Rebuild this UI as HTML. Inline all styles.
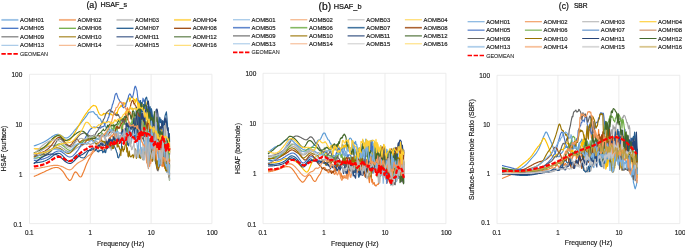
<!DOCTYPE html>
<html><head><meta charset="utf-8"><title>HSAF and SBR</title>
<style>html,body{margin:0;padding:0;background:#fff;}svg{display:block;will-change:transform}</style></head>
<body>
<svg width="685" height="248" viewBox="0 0 685 248" font-family="'Liberation Sans', sans-serif">
<rect width="685" height="248" fill="#fff"/>
<line x1="29.50" y1="74.25" x2="29.50" y2="223.60" stroke="#E7E7E7" stroke-width="0.8"/>
<line x1="29.50" y1="74.25" x2="211.90" y2="74.25" stroke="#E7E7E7" stroke-width="0.8"/>
<line x1="90.30" y1="74.25" x2="90.30" y2="223.60" stroke="#E7E7E7" stroke-width="0.8"/>
<line x1="29.50" y1="124.03" x2="211.90" y2="124.03" stroke="#E7E7E7" stroke-width="0.8"/>
<line x1="151.10" y1="74.25" x2="151.10" y2="223.60" stroke="#E7E7E7" stroke-width="0.8"/>
<line x1="29.50" y1="173.82" x2="211.90" y2="173.82" stroke="#E7E7E7" stroke-width="0.8"/>
<line x1="211.90" y1="74.25" x2="211.90" y2="223.60" stroke="#E7E7E7" stroke-width="0.8"/>
<line x1="29.50" y1="223.60" x2="211.90" y2="223.60" stroke="#E7E7E7" stroke-width="0.8"/>
<text x="29.25" y="235.2" font-size="7.0" fill="#1c1c1c" stroke="#1c1c1c" stroke-width="0.17" text-anchor="middle" textLength="8.7" lengthAdjust="spacingAndGlyphs">0.1</text>
<text x="22.30" y="226.50" font-size="7.0" fill="#1c1c1c" stroke="#1c1c1c" stroke-width="0.17" text-anchor="end" textLength="8.7" lengthAdjust="spacingAndGlyphs">0.1</text>
<text x="90.25" y="235.2" font-size="7.0" fill="#1c1c1c" stroke="#1c1c1c" stroke-width="0.17" text-anchor="middle" textLength="3.4" lengthAdjust="spacingAndGlyphs">1</text>
<text x="22.30" y="176.65" font-size="7.0" fill="#1c1c1c" stroke="#1c1c1c" stroke-width="0.17" text-anchor="end" textLength="3.4" lengthAdjust="spacingAndGlyphs">1</text>
<text x="151.25" y="235.2" font-size="7.0" fill="#1c1c1c" stroke="#1c1c1c" stroke-width="0.17" text-anchor="middle" textLength="6.9" lengthAdjust="spacingAndGlyphs">10</text>
<text x="22.30" y="126.80" font-size="7.0" fill="#1c1c1c" stroke="#1c1c1c" stroke-width="0.17" text-anchor="end" textLength="6.9" lengthAdjust="spacingAndGlyphs">10</text>
<text x="212.25" y="235.2" font-size="7.0" fill="#1c1c1c" stroke="#1c1c1c" stroke-width="0.17" text-anchor="middle" textLength="10.8" lengthAdjust="spacingAndGlyphs">100</text>
<text x="22.30" y="76.95" font-size="7.0" fill="#1c1c1c" stroke="#1c1c1c" stroke-width="0.17" text-anchor="end" textLength="10.8" lengthAdjust="spacingAndGlyphs">100</text>
<text x="120.6" y="245.70" font-size="7.2" fill="#1c1c1c" stroke="#1c1c1c" stroke-width="0.17" text-anchor="middle" textLength="47.4" lengthAdjust="spacingAndGlyphs">Frequency (Hz)</text>
<text transform="translate(5.9,148.6) rotate(-90)" font-size="7.0" fill="#1c1c1c" stroke="#1c1c1c" stroke-width="0.17" text-anchor="middle" textLength="45.7" lengthAdjust="spacingAndGlyphs">HSAF (surface)</text>
<text fill="#111" stroke="#111" stroke-width="0.22"><tspan x="86.4" y="7.6" font-size="9.6" textLength="10.9" lengthAdjust="spacingAndGlyphs">(a)</tspan><tspan> </tspan><tspan x="100.4" y="7.3" font-size="7.7" textLength="26.6" lengthAdjust="spacingAndGlyphs">HSAF_s</tspan></text>
<line x1="1.40" y1="19.90" x2="18.40" y2="19.90" stroke="#5B9BD5" stroke-width="1.9" stroke-opacity="0.6"/>
<text x="20.00" y="21.90" font-size="6.05" fill="#1c1c1c" stroke="#1c1c1c" stroke-width="0.17" textLength="24" lengthAdjust="spacingAndGlyphs">AOMH01</text>
<line x1="58.95" y1="19.90" x2="75.95" y2="19.90" stroke="#ED7D31" stroke-width="1.9" stroke-opacity="0.6"/>
<text x="77.55" y="21.90" font-size="6.05" fill="#1c1c1c" stroke="#1c1c1c" stroke-width="0.17" textLength="24" lengthAdjust="spacingAndGlyphs">AOMH02</text>
<line x1="116.50" y1="19.90" x2="133.50" y2="19.90" stroke="#A5A5A5" stroke-width="1.9" stroke-opacity="0.6"/>
<text x="135.10" y="21.90" font-size="6.05" fill="#1c1c1c" stroke="#1c1c1c" stroke-width="0.17" textLength="24" lengthAdjust="spacingAndGlyphs">AOMH03</text>
<line x1="174.05" y1="19.90" x2="191.05" y2="19.90" stroke="#FFC000" stroke-width="1.9" stroke-opacity="0.6"/>
<text x="192.65" y="21.90" font-size="6.05" fill="#1c1c1c" stroke="#1c1c1c" stroke-width="0.17" textLength="24" lengthAdjust="spacingAndGlyphs">AOMH04</text>
<line x1="1.40" y1="28.30" x2="18.40" y2="28.30" stroke="#4472C4" stroke-width="1.3" stroke-opacity="1"/>
<text x="20.00" y="30.30" font-size="6.05" fill="#1c1c1c" stroke="#1c1c1c" stroke-width="0.17" textLength="24" lengthAdjust="spacingAndGlyphs">AOMH05</text>
<line x1="58.95" y1="28.30" x2="75.95" y2="28.30" stroke="#70AD47" stroke-width="1.3" stroke-opacity="1"/>
<text x="77.55" y="30.30" font-size="6.05" fill="#1c1c1c" stroke="#1c1c1c" stroke-width="0.17" textLength="24" lengthAdjust="spacingAndGlyphs">AOMH06</text>
<line x1="116.50" y1="28.30" x2="133.50" y2="28.30" stroke="#255E91" stroke-width="1.3" stroke-opacity="1"/>
<text x="135.10" y="30.30" font-size="6.05" fill="#1c1c1c" stroke="#1c1c1c" stroke-width="0.17" textLength="24" lengthAdjust="spacingAndGlyphs">AOMH07</text>
<line x1="174.05" y1="28.30" x2="191.05" y2="28.30" stroke="#9E480E" stroke-width="1.3" stroke-opacity="1"/>
<text x="192.65" y="30.30" font-size="6.05" fill="#1c1c1c" stroke="#1c1c1c" stroke-width="0.17" textLength="24" lengthAdjust="spacingAndGlyphs">AOMH08</text>
<line x1="1.40" y1="36.80" x2="18.40" y2="36.80" stroke="#636363" stroke-width="1.3" stroke-opacity="0.8"/>
<text x="20.00" y="38.80" font-size="6.05" fill="#1c1c1c" stroke="#1c1c1c" stroke-width="0.17" textLength="24" lengthAdjust="spacingAndGlyphs">AOMH09</text>
<line x1="58.95" y1="36.80" x2="75.95" y2="36.80" stroke="#997300" stroke-width="1.3" stroke-opacity="0.8"/>
<text x="77.55" y="38.80" font-size="6.05" fill="#1c1c1c" stroke="#1c1c1c" stroke-width="0.17" textLength="24" lengthAdjust="spacingAndGlyphs">AOMH10</text>
<line x1="116.50" y1="36.80" x2="133.50" y2="36.80" stroke="#264478" stroke-width="1.3" stroke-opacity="0.8"/>
<text x="135.10" y="38.80" font-size="6.05" fill="#1c1c1c" stroke="#1c1c1c" stroke-width="0.17" textLength="24" lengthAdjust="spacingAndGlyphs">AOMH11</text>
<line x1="174.05" y1="36.80" x2="191.05" y2="36.80" stroke="#43682B" stroke-width="1.3" stroke-opacity="0.8"/>
<text x="192.65" y="38.80" font-size="6.05" fill="#1c1c1c" stroke="#1c1c1c" stroke-width="0.17" textLength="24" lengthAdjust="spacingAndGlyphs">AOMH12</text>
<line x1="1.40" y1="45.30" x2="18.40" y2="45.30" stroke="#7CAFDD" stroke-width="0.8" stroke-opacity="1"/>
<text x="20.00" y="47.30" font-size="6.05" fill="#1c1c1c" stroke="#1c1c1c" stroke-width="0.17" textLength="24" lengthAdjust="spacingAndGlyphs">AOMH13</text>
<line x1="58.95" y1="45.30" x2="75.95" y2="45.30" stroke="#F1975A" stroke-width="0.8" stroke-opacity="1"/>
<text x="77.55" y="47.30" font-size="6.05" fill="#1c1c1c" stroke="#1c1c1c" stroke-width="0.17" textLength="24" lengthAdjust="spacingAndGlyphs">AOMH14</text>
<line x1="116.50" y1="45.30" x2="133.50" y2="45.30" stroke="#B7B7B7" stroke-width="0.8" stroke-opacity="1"/>
<text x="135.10" y="47.30" font-size="6.05" fill="#1c1c1c" stroke="#1c1c1c" stroke-width="0.17" textLength="24" lengthAdjust="spacingAndGlyphs">AOMH15</text>
<line x1="174.05" y1="45.30" x2="191.05" y2="45.30" stroke="#FFCD33" stroke-width="0.8" stroke-opacity="1"/>
<text x="192.65" y="47.30" font-size="6.05" fill="#1c1c1c" stroke="#1c1c1c" stroke-width="0.17" textLength="24" lengthAdjust="spacingAndGlyphs">AOMH16</text>
<line x1="1.40" y1="53.90" x2="18.40" y2="53.90" stroke="#FF0000" stroke-width="1.6" stroke-dasharray="4.4 1.6"/>
<text x="20.00" y="55.90" font-size="6.05" fill="#2a2a2a" stroke="#2a2a2a" stroke-width="0.1" textLength="28" lengthAdjust="spacingAndGlyphs">GEOMEAN</text>
<path d="M33.8,146.0 L34.4,145.8 L35.0,145.6 L35.6,145.4 L36.2,145.2 L36.8,144.9 L37.4,144.7 L38.0,144.5 L38.6,144.3 L39.2,144.0 L39.8,143.8 L40.4,143.5 L41.0,143.3 L41.6,143.0 L42.2,142.8 L42.8,142.5 L43.4,142.2 L44.0,141.9 L44.6,141.6 L45.2,141.2 L45.8,140.9 L46.4,140.6 L47.0,140.2 L47.6,139.8 L48.2,139.4 L48.8,139.0 L49.4,138.6 L50.0,138.1 L50.6,137.7 L51.2,137.3 L51.8,136.8 L52.4,136.4 L53.0,136.0 L53.6,135.7 L54.2,135.4 L54.8,135.1 L55.4,134.8 L56.0,134.6 L56.6,134.5 L57.2,134.4 L57.8,134.3 L58.4,134.4 L59.0,134.5 L59.6,134.7 L60.2,135.0 L60.8,135.3 L61.4,135.7 L62.0,136.1 L62.6,136.5 L63.2,136.9 L63.8,137.3 L64.4,137.6 L65.0,137.8 L65.6,138.0 L66.2,138.0 L66.8,137.9 L67.4,137.7 L68.0,137.4 L68.6,137.1 L69.2,136.6 L69.8,136.1 L70.4,135.5 L71.0,134.9 L71.6,134.2 L72.2,133.5 L72.8,132.8 L73.4,132.0 L74.0,131.2 L74.6,130.5 L75.2,129.7 L75.8,129.0 L76.4,128.3 L77.0,127.6 L77.6,126.9 L78.2,126.2 L78.8,125.5 L79.4,124.8 L80.0,124.1 L80.6,123.3 L81.2,122.6 L81.8,121.9 L82.4,121.1 L83.0,120.4 L83.6,119.7 L84.2,119.0 L84.8,118.2 L85.4,117.4 L86.0,116.6 L86.6,115.8 L87.2,114.9 L87.8,113.9 L88.4,113.0 L89.0,112.4 L89.6,112.2 L90.2,112.1 L90.8,112.0 L91.4,111.9 L92.0,111.8 L92.6,111.7 L93.2,111.6 L93.8,112.1 L94.4,113.2 L95.0,113.8 L95.6,114.4 L96.2,114.7 L96.8,114.5 L97.4,116.0 L98.0,116.9 L98.6,118.0 L99.2,118.4 L99.8,118.2 L100.4,119.2 L101.0,120.5 L101.6,122.0 L102.2,122.1 L102.8,122.2 L103.4,122.4 L104.0,123.4 L104.6,123.3 L105.2,125.5 L105.8,127.1 L106.4,127.0 L107.0,127.6 L107.6,127.8 L108.2,128.1 L108.8,127.6 L109.4,129.4 L110.0,129.5 L110.6,131.0 L111.2,130.9 L111.8,131.7 L112.4,131.3 L113.0,131.0 L113.6,129.1 L114.2,131.8 L114.8,131.5 L115.4,132.1 L116.0,133.4 L116.6,131.1 L117.2,131.1 L117.8,131.6 L118.4,132.5 L119.0,133.0 L119.6,133.1 L120.2,133.0 L120.8,133.4 L121.4,132.4 L122.0,131.0 L122.6,133.2 L123.2,133.6 L123.8,130.3 L124.4,134.2 L125.0,129.3 L125.6,130.5 L126.2,128.9 L126.8,132.1 L127.4,127.8 L128.0,130.9 L128.6,131.9 L129.2,130.8 L129.8,131.1 L130.4,127.2 L131.0,129.3 L131.6,127.0 L132.2,127.5 L132.8,127.7 L133.4,129.2 L134.0,127.3 L134.6,129.0 L135.2,126.4 L135.8,122.3 L136.4,125.9 L137.0,123.9 L137.6,124.4 L138.2,120.8 L138.8,123.4 L139.4,124.6 L140.0,125.0 L140.6,124.8 L141.2,121.4 L141.8,124.5 L142.4,126.1 L143.0,129.0 L143.6,128.4 L144.2,129.0 L144.8,126.3 L145.4,126.1 L146.0,125.3 L146.6,128.3 L147.2,129.7 L147.8,131.0 L148.4,132.1 L149.0,131.7 L149.6,126.9 L150.2,133.0 L150.8,129.5 L151.4,134.2 L152.0,134.1 L152.6,137.1 L153.2,132.9 L153.8,144.8 L154.4,135.3 L155.0,149.1 L155.6,145.9 L156.2,150.9 L156.8,150.4 L157.4,153.1 L158.0,152.0 L158.6,158.2 L159.2,157.5 L159.8,162.6 L160.4,165.4 L161.0,164.1 L161.6,164.5 L162.2,163.7 L162.8,162.9 L163.4,157.0 L164.0,161.7 L164.6,159.9 L165.2,160.4 L165.8,163.5 L166.4,168.0 L167.0,172.3 L167.6,166.5 L168.2,172.7 L168.8,171.9 L169.4,171.2 L169.6,179.9" fill="none" stroke="#5B9BD5" stroke-width="1.15" stroke-linejoin="round"/>
<path d="M33.8,176.6 L34.4,176.3 L35.0,176.0 L35.6,175.8 L36.2,175.5 L36.8,175.2 L37.4,175.0 L38.0,174.7 L38.6,174.4 L39.2,174.1 L39.8,173.9 L40.4,173.6 L41.0,173.3 L41.6,173.1 L42.2,172.8 L42.8,172.5 L43.4,172.2 L44.0,172.0 L44.6,171.7 L45.2,171.4 L45.8,171.1 L46.4,170.8 L47.0,170.5 L47.6,170.2 L48.2,170.0 L48.8,169.7 L49.4,169.4 L50.0,169.1 L50.6,168.9 L51.2,168.6 L51.8,168.4 L52.4,168.2 L53.0,168.0 L53.6,167.8 L54.2,167.7 L54.8,167.6 L55.4,167.5 L56.0,167.5 L56.6,167.5 L57.2,167.5 L57.8,167.6 L58.4,167.8 L59.0,168.1 L59.6,168.4 L60.2,168.8 L60.8,169.3 L61.4,169.9 L62.0,170.5 L62.6,171.2 L63.2,171.9 L63.8,172.7 L64.4,173.6 L65.0,174.6 L65.6,175.6 L66.2,176.6 L66.8,177.6 L67.4,178.2 L68.0,178.9 L68.6,179.6 L69.2,180.4 L69.8,180.5 L70.4,180.3 L71.0,179.7 L71.6,178.7 L72.2,177.4 L72.8,176.0 L73.4,174.7 L74.0,173.4 L74.6,172.5 L75.2,172.0 L75.8,171.9 L76.4,172.3 L77.0,172.9 L77.6,173.8 L78.2,174.7 L78.8,175.6 L79.4,176.4 L80.0,176.8 L80.6,177.0 L81.2,176.8 L81.8,175.9 L82.4,174.5 L83.0,173.1 L83.6,171.8 L84.2,170.3 L84.8,168.7 L85.4,167.0 L86.0,165.4 L86.6,164.1 L87.2,162.8 L87.8,161.6 L88.4,160.3 L89.0,159.1 L89.6,158.1 L90.2,157.0 L90.8,155.8 L91.4,154.7 L92.0,153.7 L92.6,153.1 L93.2,152.0 L93.8,151.7 L94.4,151.2 L95.0,150.1 L95.6,149.2 L96.2,148.3 L96.8,148.1 L97.4,147.9 L98.0,147.3 L98.6,145.8 L99.2,147.2 L99.8,147.6 L100.4,146.0 L101.0,148.8 L101.6,146.7 L102.2,148.9 L102.8,149.9 L103.4,149.8 L104.0,150.0 L104.6,149.6 L105.2,147.7 L105.8,147.9 L106.4,146.2 L107.0,146.0 L107.6,143.5 L108.2,140.3 L108.8,140.8 L109.4,137.5 L110.0,142.1 L110.6,137.2 L111.2,135.7 L111.8,135.8 L112.4,137.1 L113.0,134.5 L113.6,133.6 L114.2,132.1 L114.8,138.0 L115.4,134.3 L116.0,133.2 L116.6,138.8 L117.2,134.6 L117.8,135.0 L118.4,134.6 L119.0,137.7 L119.6,136.8 L120.2,136.2 L120.8,135.1 L121.4,135.3 L122.0,125.8 L122.6,129.4 L123.2,120.6 L123.8,119.7 L124.4,123.2 L125.0,121.6 L125.6,112.0 L126.2,114.3 L126.8,109.7 L127.4,107.7 L128.0,109.9 L128.6,114.1 L129.2,111.1 L129.8,112.1 L130.4,112.1 L131.0,114.6 L131.6,119.4 L132.2,116.8 L132.8,113.3 L133.4,117.2 L134.0,120.8 L134.6,121.1 L135.2,118.3 L135.8,119.9 L136.4,120.2 L137.0,127.1 L137.6,111.8 L138.2,119.4 L138.8,133.7 L139.4,130.8 L140.0,129.6 L140.6,130.7 L141.2,122.3 L141.8,131.4 L142.4,126.4 L143.0,122.6 L143.6,119.9 L144.2,132.6 L144.8,124.5 L145.4,127.1 L146.0,131.2 L146.6,122.0 L147.2,139.1 L147.8,142.6 L148.4,168.6 L149.0,159.8 L149.6,165.9 L150.2,141.2 L150.8,155.5 L151.4,150.3 L152.0,132.4 L152.6,137.6 L153.2,133.1 L153.8,152.5 L154.4,150.6 L155.0,125.9 L155.6,163.4 L156.2,154.4 L156.8,164.5 L157.4,170.2 L158.0,168.5 L158.6,155.0 L159.2,147.8 L159.8,162.4 L160.4,161.4 L161.0,164.1 L161.6,164.8 L162.2,166.6 L162.8,153.8 L163.4,166.1 L164.0,156.7 L164.6,168.2 L165.2,152.4 L165.8,160.1 L166.4,155.5 L167.0,164.8 L167.6,156.9 L168.2,165.5 L168.8,176.6 L169.4,135.7 L169.6,154.4" fill="none" stroke="#ED7D31" stroke-width="1.15" stroke-linejoin="round"/>
<path d="M33.8,157.5 L34.4,156.9 L35.0,156.3 L35.6,155.7 L36.2,155.1 L36.8,154.5 L37.4,153.9 L38.0,153.4 L38.6,152.9 L39.2,152.4 L39.8,151.8 L40.4,151.4 L41.0,150.9 L41.6,150.4 L42.2,150.0 L42.8,149.6 L43.4,149.2 L44.0,148.8 L44.6,148.4 L45.2,148.0 L45.8,147.7 L46.4,147.4 L47.0,147.1 L47.6,146.8 L48.2,146.6 L48.8,146.3 L49.4,146.1 L50.0,145.9 L50.6,145.7 L51.2,145.6 L51.8,145.5 L52.4,145.4 L53.0,145.3 L53.6,145.2 L54.2,145.2 L54.8,145.2 L55.4,145.2 L56.0,145.3 L56.6,145.3 L57.2,145.4 L57.8,145.5 L58.4,145.7 L59.0,145.9 L59.6,146.1 L60.2,146.3 L60.8,146.7 L61.4,147.0 L62.0,147.5 L62.6,147.9 L63.2,148.4 L63.8,148.8 L64.4,149.3 L65.0,149.8 L65.6,150.2 L66.2,150.6 L66.8,151.0 L67.4,151.4 L68.0,151.6 L68.6,151.8 L69.2,152.0 L69.8,152.0 L70.4,152.0 L71.0,151.8 L71.6,151.6 L72.2,151.2 L72.8,150.9 L73.4,150.5 L74.0,150.0 L74.6,149.5 L75.2,149.1 L75.8,148.6 L76.4,148.1 L77.0,147.7 L77.6,147.4 L78.2,147.0 L78.8,146.7 L79.4,146.5 L80.0,146.3 L80.6,146.1 L81.2,145.9 L81.8,145.7 L82.4,145.4 L83.0,145.0 L83.6,144.6 L84.2,144.3 L84.8,143.9 L85.4,143.8 L86.0,144.1 L86.6,144.4 L87.2,144.2 L87.8,143.8 L88.4,143.6 L89.0,143.7 L89.6,144.0 L90.2,144.4 L90.8,144.4 L91.4,144.1 L92.0,143.6 L92.6,143.4 L93.2,143.8 L93.8,143.5 L94.4,142.3 L95.0,140.9 L95.6,140.7 L96.2,141.0 L96.8,141.8 L97.4,142.2 L98.0,142.6 L98.6,143.1 L99.2,144.7 L99.8,145.8 L100.4,144.2 L101.0,144.2 L101.6,142.2 L102.2,141.6 L102.8,141.4 L103.4,142.7 L104.0,141.3 L104.6,141.6 L105.2,142.0 L105.8,138.8 L106.4,140.3 L107.0,146.6 L107.6,145.7 L108.2,146.8 L108.8,145.9 L109.4,148.0 L110.0,147.9 L110.6,146.2 L111.2,150.3 L111.8,146.2 L112.4,145.3 L113.0,137.4 L113.6,143.7 L114.2,137.9 L114.8,141.1 L115.4,143.5 L116.0,144.6 L116.6,139.5 L117.2,141.8 L117.8,141.1 L118.4,135.8 L119.0,141.5 L119.6,140.6 L120.2,138.8 L120.8,139.5 L121.4,136.4 L122.0,138.4 L122.6,137.5 L123.2,139.2 L123.8,129.3 L124.4,133.9 L125.0,139.2 L125.6,134.0 L126.2,139.2 L126.8,134.8 L127.4,141.0 L128.0,129.9 L128.6,140.1 L129.2,141.0 L129.8,138.2 L130.4,145.6 L131.0,143.9 L131.6,141.1 L132.2,135.0 L132.8,133.1 L133.4,122.0 L134.0,112.6 L134.6,121.5 L135.2,119.5 L135.8,124.4 L136.4,114.3 L137.0,124.1 L137.6,130.6 L138.2,112.9 L138.8,118.7 L139.4,118.6 L140.0,129.9 L140.6,141.0 L141.2,125.5 L141.8,136.7 L142.4,115.3 L143.0,110.2 L143.6,119.2 L144.2,128.9 L144.8,130.9 L145.4,102.1 L146.0,113.5 L146.6,116.2 L147.2,106.9 L147.8,116.9 L148.4,119.9 L149.0,129.8 L149.6,116.8 L150.2,111.0 L150.8,140.4 L151.4,146.9 L152.0,129.6 L152.6,126.9 L153.2,140.3 L153.8,138.2 L154.4,126.4 L155.0,118.7 L155.6,116.5 L156.2,110.0 L156.8,109.0 L157.4,123.0 L158.0,123.1 L158.6,129.9 L159.2,135.2 L159.8,165.2 L160.4,164.1 L161.0,134.1 L161.6,123.6 L162.2,122.9 L162.8,120.9 L163.4,126.7 L164.0,134.3 L164.6,144.7 L165.2,122.6 L165.8,123.1 L166.4,163.7 L167.0,158.6 L167.6,156.4 L168.2,136.4 L168.8,170.2 L169.4,146.7 L169.6,152.8" fill="none" stroke="#A5A5A5" stroke-width="1.15" stroke-linejoin="round"/>
<path d="M33.8,148.7 L34.4,148.7 L35.0,148.8 L35.6,148.8 L36.2,148.8 L36.8,148.8 L37.4,148.8 L38.0,148.8 L38.6,148.7 L39.2,148.7 L39.8,148.7 L40.4,148.6 L41.0,148.5 L41.6,148.4 L42.2,148.3 L42.8,148.1 L43.4,148.0 L44.0,147.7 L44.6,147.4 L45.2,147.0 L45.8,146.6 L46.4,146.2 L47.0,145.7 L47.6,145.2 L48.2,144.7 L48.8,144.1 L49.4,143.6 L50.0,143.0 L50.6,142.4 L51.2,141.7 L51.8,141.0 L52.4,140.3 L53.0,139.6 L53.6,138.9 L54.2,138.2 L54.8,137.6 L55.4,137.0 L56.0,136.4 L56.6,135.9 L57.2,135.5 L57.8,135.2 L58.4,135.0 L59.0,135.0 L59.6,135.0 L60.2,135.3 L60.8,135.6 L61.4,136.1 L62.0,136.6 L62.6,137.2 L63.2,137.9 L63.8,138.5 L64.4,139.1 L65.0,139.7 L65.6,140.2 L66.2,140.6 L66.8,140.9 L67.4,141.0 L68.0,141.0 L68.6,140.8 L69.2,140.4 L69.8,140.0 L70.4,139.4 L71.0,138.7 L71.6,137.9 L72.2,137.0 L72.8,136.1 L73.4,135.1 L74.0,134.1 L74.6,133.1 L75.2,132.0 L75.8,131.0 L76.4,130.0 L77.0,128.9 L77.6,127.8 L78.2,126.7 L78.8,125.6 L79.4,124.5 L80.0,123.4 L80.6,122.3 L81.2,121.2 L81.8,120.2 L82.4,119.2 L83.0,118.2 L83.6,117.2 L84.2,116.3 L84.8,115.4 L85.4,114.5 L86.0,113.6 L86.6,112.8 L87.2,112.0 L87.8,111.1 L88.4,110.2 L89.0,109.6 L89.6,109.0 L90.2,108.3 L90.8,107.5 L91.4,106.9 L92.0,106.4 L92.6,105.9 L93.2,105.6 L93.8,105.4 L94.4,105.7 L95.0,105.7 L95.6,106.0 L96.2,106.6 L96.8,107.9 L97.4,109.5 L98.0,111.1 L98.6,112.6 L99.2,113.8 L99.8,114.5 L100.4,115.0 L101.0,115.2 L101.6,115.3 L102.2,114.9 L102.8,115.0 L103.4,113.4 L104.0,114.1 L104.6,113.6 L105.2,113.6 L105.8,113.3 L106.4,112.9 L107.0,112.8 L107.6,113.1 L108.2,113.5 L108.8,114.1 L109.4,113.7 L110.0,114.8 L110.6,113.5 L111.2,114.2 L111.8,114.9 L112.4,115.1 L113.0,115.0 L113.6,114.9 L114.2,114.4 L114.8,114.4 L115.4,114.0 L116.0,115.3 L116.6,112.4 L117.2,113.7 L117.8,110.7 L118.4,109.1 L119.0,108.2 L119.6,107.3 L120.2,107.2 L120.8,105.3 L121.4,106.5 L122.0,105.4 L122.6,105.6 L123.2,102.7 L123.8,102.9 L124.4,102.9 L125.0,104.7 L125.6,103.3 L126.2,102.5 L126.8,101.6 L127.4,100.6 L128.0,98.7 L128.6,97.9 L129.2,97.7 L129.8,101.7 L130.4,99.1 L131.0,97.7 L131.6,97.2 L132.2,97.2 L132.8,97.5 L133.4,98.7 L134.0,100.0 L134.6,99.4 L135.2,102.8 L135.8,101.2 L136.4,98.4 L137.0,99.4 L137.6,104.8 L138.2,105.3 L138.8,102.1 L139.4,101.7 L140.0,107.6 L140.6,102.7 L141.2,102.9 L141.8,103.1 L142.4,104.4 L143.0,106.9 L143.6,109.9 L144.2,109.8 L144.8,106.9 L145.4,108.1 L146.0,101.9 L146.6,107.4 L147.2,106.5 L147.8,111.1 L148.4,111.5 L149.0,108.4 L149.6,114.3 L150.2,111.6 L150.8,111.0 L151.4,117.3 L152.0,119.8 L152.6,118.9 L153.2,125.5 L153.8,126.9 L154.4,121.8 L155.0,118.3 L155.6,125.2 L156.2,117.8 L156.8,123.3 L157.4,126.0 L158.0,123.4 L158.6,128.2 L159.2,129.4 L159.8,130.6 L160.4,126.8 L161.0,135.6 L161.6,129.5 L162.2,137.2 L162.8,139.5 L163.4,140.7 L164.0,141.9 L164.6,142.3 L165.2,144.3 L165.8,151.3 L166.4,146.8 L167.0,149.6 L167.6,151.1 L168.2,159.0 L168.8,160.3 L169.4,162.8 L169.6,158.5" fill="none" stroke="#FFC000" stroke-width="1.15" stroke-linejoin="round"/>
<path d="M33.8,160.5 L34.4,160.5 L35.0,160.4 L35.6,160.4 L36.2,160.3 L36.8,160.2 L37.4,160.2 L38.0,160.1 L38.6,160.0 L39.2,159.9 L39.8,159.8 L40.4,159.7 L41.0,159.6 L41.6,159.4 L42.2,159.3 L42.8,159.1 L43.4,158.9 L44.0,158.7 L44.6,158.5 L45.2,158.3 L45.8,158.0 L46.4,157.8 L47.0,157.5 L47.6,157.2 L48.2,156.9 L48.8,156.5 L49.4,156.2 L50.0,155.8 L50.6,155.3 L51.2,154.9 L51.8,154.4 L52.4,154.0 L53.0,153.6 L53.6,153.1 L54.2,152.7 L54.8,152.3 L55.4,152.0 L56.0,151.7 L56.6,151.4 L57.2,151.2 L57.8,151.1 L58.4,151.0 L59.0,151.0 L59.6,151.0 L60.2,151.2 L60.8,151.4 L61.4,151.7 L62.0,152.1 L62.6,152.5 L63.2,153.0 L63.8,153.4 L64.4,153.9 L65.0,154.4 L65.6,154.9 L66.2,155.4 L66.8,155.8 L67.4,156.2 L68.0,156.5 L68.6,156.7 L69.2,156.9 L69.8,157.0 L70.4,157.0 L71.0,156.8 L71.6,156.6 L72.2,156.3 L72.8,155.9 L73.4,155.4 L74.0,154.8 L74.6,154.2 L75.2,153.6 L75.8,152.9 L76.4,152.1 L77.0,151.3 L77.6,150.6 L78.2,149.8 L78.8,148.9 L79.4,148.0 L80.0,147.1 L80.6,146.1 L81.2,145.1 L81.8,144.0 L82.4,142.9 L83.0,141.9 L83.6,140.8 L84.2,139.8 L84.8,138.8 L85.4,137.7 L86.0,136.6 L86.6,135.6 L87.2,134.4 L87.8,133.3 L88.4,132.2 L89.0,131.1 L89.6,130.2 L90.2,129.5 L90.8,129.0 L91.4,128.5 L92.0,128.0 L92.6,127.6 L93.2,127.2 L93.8,127.1 L94.4,127.0 L95.0,127.2 L95.6,127.4 L96.2,127.2 L96.8,127.4 L97.4,127.6 L98.0,127.6 L98.6,127.7 L99.2,127.4 L99.8,127.6 L100.4,128.2 L101.0,127.7 L101.6,126.9 L102.2,126.9 L102.8,126.5 L103.4,126.6 L104.0,126.2 L104.6,124.4 L105.2,123.5 L105.8,122.4 L106.4,122.1 L107.0,121.5 L107.6,120.0 L108.2,117.8 L108.8,117.1 L109.4,114.5 L110.0,112.3 L110.6,111.0 L111.2,108.9 L111.8,107.6 L112.4,104.6 L113.0,103.6 L113.6,101.1 L114.2,99.4 L114.8,96.2 L115.4,94.2 L116.0,93.6 L116.6,93.4 L117.2,95.3 L117.8,97.2 L118.4,98.8 L119.0,99.5 L119.6,100.8 L120.2,101.8 L120.8,101.8 L121.4,102.8 L122.0,103.2 L122.6,106.4 L123.2,107.6 L123.8,107.7 L124.4,107.1 L125.0,106.9 L125.6,106.7 L126.2,103.1 L126.8,102.2 L127.4,99.8 L128.0,98.9 L128.6,95.8 L129.2,94.7 L129.8,93.8 L130.4,94.4 L131.0,95.9 L131.6,97.0 L132.2,97.6 L132.8,96.4 L133.4,94.1 L134.0,91.0 L134.6,87.7 L135.2,86.2 L135.8,86.8 L136.4,89.2 L137.0,90.8 L137.6,96.3 L138.2,100.4 L138.8,101.2 L139.4,102.6 L140.0,100.6 L140.6,103.1 L141.2,104.8 L141.8,103.1 L142.4,103.5 L143.0,98.2 L143.6,100.9 L144.2,101.8 L144.8,99.9 L145.4,107.9 L146.0,110.7 L146.6,109.2 L147.2,108.5 L147.8,106.5 L148.4,113.9 L149.0,112.1 L149.6,117.9 L150.2,117.7 L150.8,112.5 L151.4,118.0 L152.0,115.5 L152.6,115.7 L153.2,125.5 L153.8,130.1 L154.4,126.8 L155.0,125.5 L155.6,130.9 L156.2,132.5 L156.8,131.1 L157.4,127.8 L158.0,131.1 L158.6,131.4 L159.2,124.9 L159.8,132.8 L160.4,130.7 L161.0,131.2 L161.6,135.0 L162.2,133.6 L162.8,143.3 L163.4,144.8 L164.0,139.3 L164.6,143.2 L165.2,141.5 L165.8,146.5 L166.4,138.4 L167.0,144.3 L167.6,145.3 L168.2,148.6 L168.8,149.9 L169.4,150.4 L169.6,154.6" fill="none" stroke="#4472C4" stroke-width="1.15" stroke-linejoin="round"/>
<path d="M33.8,158.5 L34.4,158.4 L35.0,158.4 L35.6,158.3 L36.2,158.2 L36.8,158.1 L37.4,157.9 L38.0,157.8 L38.6,157.7 L39.2,157.5 L39.8,157.4 L40.4,157.2 L41.0,157.0 L41.6,156.8 L42.2,156.6 L42.8,156.3 L43.4,156.1 L44.0,155.8 L44.6,155.5 L45.2,155.2 L45.8,154.8 L46.4,154.5 L47.0,154.1 L47.6,153.7 L48.2,153.3 L48.8,152.9 L49.4,152.4 L50.0,151.9 L50.6,151.4 L51.2,150.8 L51.8,150.1 L52.4,149.5 L53.0,148.8 L53.6,148.1 L54.2,147.4 L54.8,146.8 L55.4,146.2 L56.0,145.6 L56.6,145.1 L57.2,144.7 L57.8,144.3 L58.4,144.1 L59.0,143.9 L59.6,143.9 L60.2,144.0 L60.8,144.2 L61.4,144.5 L62.0,144.9 L62.6,145.3 L63.2,145.8 L63.8,146.3 L64.4,146.8 L65.0,147.4 L65.6,147.9 L66.2,148.4 L66.8,148.9 L67.4,149.4 L68.0,149.7 L68.6,150.0 L69.2,150.3 L69.8,150.4 L70.4,150.4 L71.0,150.3 L71.6,150.0 L72.2,149.6 L72.8,149.2 L73.4,148.7 L74.0,148.1 L74.6,147.5 L75.2,146.9 L75.8,146.3 L76.4,145.8 L77.0,145.3 L77.6,144.7 L78.2,144.3 L78.8,143.8 L79.4,143.4 L80.0,143.0 L80.6,142.7 L81.2,142.5 L81.8,142.3 L82.4,142.1 L83.0,141.8 L83.6,141.4 L84.2,141.0 L84.8,140.4 L85.4,139.9 L86.0,139.5 L86.6,139.2 L87.2,138.9 L87.8,138.6 L88.4,138.5 L89.0,138.4 L89.6,138.2 L90.2,138.0 L90.8,137.7 L91.4,137.2 L92.0,137.1 L92.6,137.2 L93.2,137.1 L93.8,136.3 L94.4,136.2 L95.0,136.7 L95.6,137.1 L96.2,138.5 L96.8,138.6 L97.4,138.5 L98.0,139.6 L98.6,139.2 L99.2,138.5 L99.8,137.8 L100.4,137.2 L101.0,135.3 L101.6,133.9 L102.2,133.2 L102.8,134.5 L103.4,136.0 L104.0,135.2 L104.6,136.6 L105.2,134.0 L105.8,132.8 L106.4,133.3 L107.0,133.0 L107.6,131.0 L108.2,129.7 L108.8,126.9 L109.4,126.1 L110.0,126.0 L110.6,122.6 L111.2,128.1 L111.8,130.5 L112.4,128.8 L113.0,130.9 L113.6,124.4 L114.2,128.2 L114.8,126.1 L115.4,131.9 L116.0,127.7 L116.6,127.5 L117.2,130.7 L117.8,124.2 L118.4,123.6 L119.0,124.3 L119.6,120.1 L120.2,120.3 L120.8,124.9 L121.4,128.9 L122.0,129.8 L122.6,124.0 L123.2,124.6 L123.8,119.7 L124.4,124.1 L125.0,117.9 L125.6,121.5 L126.2,119.1 L126.8,129.5 L127.4,132.5 L128.0,128.7 L128.6,130.6 L129.2,126.5 L129.8,122.5 L130.4,124.4 L131.0,124.3 L131.6,123.2 L132.2,118.9 L132.8,127.3 L133.4,123.6 L134.0,113.6 L134.6,127.7 L135.2,125.0 L135.8,123.7 L136.4,127.9 L137.0,136.8 L137.6,126.1 L138.2,122.7 L138.8,117.4 L139.4,117.3 L140.0,114.1 L140.6,129.2 L141.2,119.6 L141.8,119.5 L142.4,119.4 L143.0,117.4 L143.6,133.0 L144.2,122.2 L144.8,121.7 L145.4,130.9 L146.0,121.1 L146.6,148.7 L147.2,132.3 L147.8,119.1 L148.4,117.3 L149.0,123.4 L149.6,121.3 L150.2,135.8 L150.8,133.1 L151.4,122.5 L152.0,128.7 L152.6,144.4 L153.2,134.6 L153.8,137.7 L154.4,128.4 L155.0,130.0 L155.6,129.7 L156.2,144.4 L156.8,132.8 L157.4,124.7 L158.0,131.6 L158.6,151.2 L159.2,150.4 L159.8,137.2 L160.4,134.4 L161.0,139.3 L161.6,145.6 L162.2,149.6 L162.8,157.5 L163.4,159.2 L164.0,147.0 L164.6,131.3 L165.2,143.0 L165.8,142.6 L166.4,157.2 L167.0,155.0 L167.6,152.9 L168.2,159.6 L168.8,142.5 L169.4,180.3 L169.6,178.2" fill="none" stroke="#70AD47" stroke-width="1.15" stroke-linejoin="round"/>
<path d="M33.8,162.8 L34.4,162.8 L35.0,162.8 L35.6,162.7 L36.2,162.7 L36.8,162.6 L37.4,162.6 L38.0,162.5 L38.6,162.4 L39.2,162.3 L39.8,162.3 L40.4,162.1 L41.0,162.0 L41.6,161.9 L42.2,161.7 L42.8,161.6 L43.4,161.4 L44.0,161.2 L44.6,161.0 L45.2,160.8 L45.8,160.5 L46.4,160.2 L47.0,160.0 L47.6,159.6 L48.2,159.3 L48.8,159.0 L49.4,158.6 L50.0,158.1 L50.6,157.7 L51.2,157.2 L51.8,156.7 L52.4,156.3 L53.0,155.8 L53.6,155.3 L54.2,154.9 L54.8,154.5 L55.4,154.1 L56.0,153.8 L56.6,153.6 L57.2,153.4 L57.8,153.3 L58.4,153.3 L59.0,153.3 L59.6,153.5 L60.2,153.7 L60.8,154.1 L61.4,154.6 L62.0,155.1 L62.6,155.7 L63.2,156.4 L63.8,157.0 L64.4,157.7 L65.0,158.4 L65.6,159.0 L66.2,159.6 L66.8,160.2 L67.4,160.6 L68.0,161.0 L68.6,161.3 L69.2,161.5 L69.8,161.5 L70.4,161.4 L71.0,161.1 L71.6,160.6 L72.2,160.0 L72.8,159.2 L73.4,158.5 L74.0,157.7 L74.6,156.9 L75.2,156.3 L75.8,155.7 L76.4,155.2 L77.0,154.9 L77.6,154.8 L78.2,155.0 L78.8,155.4 L79.4,156.0 L80.0,156.7 L80.6,157.2 L81.2,157.5 L81.8,157.7 L82.4,157.8 L83.0,157.9 L83.6,158.0 L84.2,157.8 L84.8,157.3 L85.4,156.5 L86.0,155.5 L86.6,154.4 L87.2,153.4 L87.8,152.3 L88.4,151.3 L89.0,150.6 L89.6,150.0 L90.2,149.5 L90.8,149.2 L91.4,148.7 L92.0,148.3 L92.6,148.1 L93.2,148.0 L93.8,148.5 L94.4,149.2 L95.0,150.6 L95.6,149.6 L96.2,149.7 L96.8,149.6 L97.4,151.6 L98.0,151.1 L98.6,152.0 L99.2,150.0 L99.8,150.8 L100.4,150.5 L101.0,150.4 L101.6,150.0 L102.2,150.4 L102.8,152.8 L103.4,151.5 L104.0,151.9 L104.6,149.5 L105.2,152.7 L105.8,152.2 L106.4,148.4 L107.0,146.4 L107.6,148.6 L108.2,145.0 L108.8,143.4 L109.4,142.5 L110.0,146.6 L110.6,144.0 L111.2,142.7 L111.8,139.4 L112.4,140.8 L113.0,147.5 L113.6,143.9 L114.2,146.3 L114.8,147.2 L115.4,148.5 L116.0,150.0 L116.6,151.9 L117.2,153.3 L117.8,157.4 L118.4,157.9 L119.0,157.1 L119.6,154.6 L120.2,153.5 L120.8,149.4 L121.4,150.4 L122.0,131.4 L122.6,138.2 L123.2,140.8 L123.8,141.0 L124.4,136.8 L125.0,134.1 L125.6,138.4 L126.2,135.3 L126.8,140.8 L127.4,144.9 L128.0,141.5 L128.6,145.8 L129.2,141.2 L129.8,130.5 L130.4,133.3 L131.0,135.5 L131.6,134.7 L132.2,131.9 L132.8,130.4 L133.4,127.2 L134.0,126.3 L134.6,139.0 L135.2,130.8 L135.8,141.6 L136.4,130.8 L137.0,131.5 L137.6,125.7 L138.2,120.2 L138.8,112.3 L139.4,116.9 L140.0,122.5 L140.6,100.6 L141.2,114.0 L141.8,102.5 L142.4,111.8 L143.0,110.0 L143.6,104.3 L144.2,108.5 L144.8,104.3 L145.4,99.0 L146.0,97.7 L146.6,97.2 L147.2,100.4 L147.8,101.9 L148.4,101.9 L149.0,107.3 L149.6,110.7 L150.2,106.7 L150.8,136.5 L151.4,108.7 L152.0,111.5 L152.6,117.8 L153.2,118.9 L153.8,117.0 L154.4,114.1 L155.0,128.6 L155.6,122.1 L156.2,123.7 L156.8,125.6 L157.4,125.9 L158.0,130.4 L158.6,131.3 L159.2,121.6 L159.8,117.2 L160.4,122.6 L161.0,119.2 L161.6,123.2 L162.2,127.8 L162.8,121.2 L163.4,125.5 L164.0,121.1 L164.6,118.7 L165.2,115.3 L165.8,113.6 L166.4,111.9 L167.0,118.3 L167.6,126.9 L168.2,131.4 L168.8,148.8 L169.4,133.6 L169.6,142.2" fill="none" stroke="#255E91" stroke-width="1.15" stroke-linejoin="round"/>
<path d="M33.8,154.0 L34.4,154.0 L35.0,153.9 L35.6,153.9 L36.2,153.8 L36.8,153.8 L37.4,153.7 L38.0,153.6 L38.6,153.5 L39.2,153.3 L39.8,153.2 L40.4,153.0 L41.0,152.8 L41.6,152.6 L42.2,152.4 L42.8,152.1 L43.4,151.9 L44.0,151.6 L44.6,151.2 L45.2,150.9 L45.8,150.5 L46.4,150.1 L47.0,149.6 L47.6,149.2 L48.2,148.7 L48.8,148.2 L49.4,147.6 L50.0,147.0 L50.6,146.3 L51.2,145.6 L51.8,144.8 L52.4,144.0 L53.0,143.2 L53.6,142.3 L54.2,141.5 L54.8,140.7 L55.4,139.9 L56.0,139.2 L56.6,138.6 L57.2,138.1 L57.8,137.7 L58.4,137.4 L59.0,137.3 L59.6,137.3 L60.2,137.5 L60.8,137.9 L61.4,138.3 L62.0,138.8 L62.6,139.4 L63.2,140.1 L63.8,140.8 L64.4,141.5 L65.0,142.2 L65.6,142.9 L66.2,143.6 L66.8,144.2 L67.4,144.7 L68.0,145.1 L68.6,145.3 L69.2,145.5 L69.8,145.5 L70.4,145.3 L71.0,144.8 L71.6,144.1 L72.2,143.3 L72.8,142.4 L73.4,141.5 L74.0,140.6 L74.6,139.8 L75.2,139.2 L75.8,138.9 L76.4,138.8 L77.0,139.1 L77.6,139.7 L78.2,140.4 L78.8,141.3 L79.4,142.2 L80.0,143.0 L80.6,143.7 L81.2,144.3 L81.8,144.6 L82.4,144.6 L83.0,144.4 L83.6,144.0 L84.2,143.4 L84.8,142.8 L85.4,142.1 L86.0,141.3 L86.6,140.7 L87.2,140.1 L87.8,139.7 L88.4,139.3 L89.0,139.1 L89.6,139.0 L90.2,139.0 L90.8,139.0 L91.4,138.8 L92.0,138.6 L92.6,138.4 L93.2,138.4 L93.8,138.3 L94.4,138.3 L95.0,137.5 L95.6,136.8 L96.2,136.4 L96.8,136.4 L97.4,136.3 L98.0,136.0 L98.6,135.8 L99.2,135.7 L99.8,136.3 L100.4,136.0 L101.0,135.3 L101.6,135.5 L102.2,135.5 L102.8,135.1 L103.4,134.4 L104.0,134.9 L104.6,135.4 L105.2,135.9 L105.8,135.7 L106.4,135.3 L107.0,135.2 L107.6,135.5 L108.2,134.9 L108.8,133.8 L109.4,132.8 L110.0,131.9 L110.6,131.2 L111.2,132.1 L111.8,131.7 L112.4,132.3 L113.0,131.2 L113.6,131.7 L114.2,131.2 L114.8,131.0 L115.4,130.7 L116.0,128.4 L116.6,126.3 L117.2,128.2 L117.8,126.3 L118.4,128.4 L119.0,127.7 L119.6,128.2 L120.2,125.2 L120.8,125.1 L121.4,123.5 L122.0,123.0 L122.6,121.4 L123.2,119.0 L123.8,119.1 L124.4,122.3 L125.0,120.4 L125.6,117.6 L126.2,118.0 L126.8,117.0 L127.4,117.6 L128.0,114.8 L128.6,110.7 L129.2,109.0 L129.8,109.0 L130.4,107.0 L131.0,103.6 L131.6,102.1 L132.2,100.5 L132.8,100.3 L133.4,101.5 L134.0,104.0 L134.6,103.6 L135.2,105.4 L135.8,105.9 L136.4,108.6 L137.0,111.2 L137.6,112.5 L138.2,113.6 L138.8,115.6 L139.4,116.5 L140.0,115.3 L140.6,115.1 L141.2,119.3 L141.8,115.4 L142.4,113.3 L143.0,117.6 L143.6,121.3 L144.2,119.4 L144.8,122.3 L145.4,122.7 L146.0,123.9 L146.6,126.0 L147.2,129.1 L147.8,120.3 L148.4,121.7 L149.0,124.7 L149.6,131.7 L150.2,127.3 L150.8,133.6 L151.4,130.6 L152.0,136.6 L152.6,135.8 L153.2,137.6 L153.8,137.7 L154.4,132.1 L155.0,137.4 L155.6,139.3 L156.2,141.1 L156.8,135.3 L157.4,139.5 L158.0,139.8 L158.6,135.6 L159.2,141.0 L159.8,147.0 L160.4,141.7 L161.0,142.5 L161.6,149.4 L162.2,147.1 L162.8,149.4 L163.4,146.0 L164.0,143.5 L164.6,152.8 L165.2,146.7 L165.8,156.1 L166.4,148.4 L167.0,155.6 L167.6,157.8 L168.2,157.9 L168.8,161.4 L169.4,166.8 L169.6,159.7" fill="none" stroke="#9E480E" stroke-width="1.15" stroke-linejoin="round"/>
<path d="M33.8,156.0 L34.4,155.9 L35.0,155.9 L35.6,155.8 L36.2,155.7 L36.8,155.6 L37.4,155.6 L38.0,155.5 L38.6,155.4 L39.2,155.3 L39.8,155.2 L40.4,155.1 L41.0,155.0 L41.6,154.9 L42.2,154.9 L42.8,154.8 L43.4,154.7 L44.0,154.6 L44.6,154.5 L45.2,154.3 L45.8,154.2 L46.4,154.0 L47.0,153.7 L47.6,153.4 L48.2,153.1 L48.8,152.7 L49.4,152.3 L50.0,151.8 L50.6,151.3 L51.2,150.6 L51.8,149.9 L52.4,149.0 L53.0,148.1 L53.6,147.0 L54.2,145.9 L54.8,144.7 L55.4,143.6 L56.0,142.5 L56.6,141.5 L57.2,140.6 L57.8,139.9 L58.4,139.3 L59.0,138.9 L59.6,138.8 L60.2,138.9 L60.8,139.2 L61.4,139.6 L62.0,140.2 L62.6,140.8 L63.2,141.5 L63.8,142.2 L64.4,143.0 L65.0,143.6 L65.6,144.3 L66.2,144.8 L66.8,145.2 L67.4,145.6 L68.0,145.9 L68.6,146.2 L69.2,146.3 L69.8,146.4 L70.4,146.4 L71.0,146.3 L71.6,146.1 L72.2,145.7 L72.8,145.1 L73.4,144.3 L74.0,143.4 L74.6,142.4 L75.2,141.3 L75.8,140.2 L76.4,139.1 L77.0,138.1 L77.6,137.3 L78.2,136.6 L78.8,135.9 L79.4,135.3 L80.0,134.7 L80.6,134.3 L81.2,134.0 L81.8,133.7 L82.4,133.5 L83.0,133.3 L83.6,133.1 L84.2,133.0 L84.8,133.0 L85.4,133.1 L86.0,133.4 L86.6,133.8 L87.2,134.2 L87.8,134.6 L88.4,135.1 L89.0,135.6 L89.6,135.9 L90.2,136.0 L90.8,136.1 L91.4,136.0 L92.0,135.8 L92.6,135.6 L93.2,135.7 L93.8,135.5 L94.4,135.4 L95.0,135.0 L95.6,133.9 L96.2,132.8 L96.8,131.7 L97.4,131.2 L98.0,130.3 L98.6,129.3 L99.2,127.9 L99.8,127.1 L100.4,125.7 L101.0,124.8 L101.6,123.0 L102.2,123.2 L102.8,121.5 L103.4,119.6 L104.0,118.7 L104.6,117.7 L105.2,115.5 L105.8,114.1 L106.4,112.9 L107.0,112.0 L107.6,111.8 L108.2,111.0 L108.8,110.5 L109.4,109.9 L110.0,109.8 L110.6,110.3 L111.2,111.0 L111.8,112.1 L112.4,111.4 L113.0,112.2 L113.6,113.2 L114.2,113.8 L114.8,113.0 L115.4,115.0 L116.0,114.9 L116.6,115.6 L117.2,114.1 L117.8,115.5 L118.4,114.6 L119.0,116.2 L119.6,117.2 L120.2,117.9 L120.8,120.4 L121.4,118.7 L122.0,121.6 L122.6,120.3 L123.2,121.0 L123.8,121.7 L124.4,120.5 L125.0,123.9 L125.6,124.1 L126.2,124.5 L126.8,126.0 L127.4,123.8 L128.0,123.1 L128.6,127.6 L129.2,126.5 L129.8,127.5 L130.4,128.9 L131.0,129.8 L131.6,128.1 L132.2,127.3 L132.8,126.6 L133.4,128.3 L134.0,126.8 L134.6,128.0 L135.2,125.3 L135.8,131.3 L136.4,133.6 L137.0,132.8 L137.6,130.5 L138.2,132.2 L138.8,130.9 L139.4,129.3 L140.0,130.5 L140.6,128.1 L141.2,132.8 L141.8,137.0 L142.4,138.6 L143.0,138.1 L143.6,141.2 L144.2,131.1 L144.8,136.5 L145.4,135.7 L146.0,138.0 L146.6,143.4 L147.2,141.7 L147.8,142.9 L148.4,137.5 L149.0,139.3 L149.6,140.1 L150.2,145.5 L150.8,155.8 L151.4,149.7 L152.0,161.2 L152.6,155.6 L153.2,144.6 L153.8,149.2 L154.4,155.7 L155.0,160.0 L155.6,162.5 L156.2,165.2 L156.8,167.9 L157.4,170.2 L158.0,170.8 L158.6,167.8 L159.2,167.2 L159.8,161.7 L160.4,158.4 L161.0,158.0 L161.6,156.1 L162.2,158.2 L162.8,150.9 L163.4,152.5 L164.0,158.9 L164.6,158.5 L165.2,151.8 L165.8,159.6 L166.4,158.9 L167.0,168.1 L167.6,168.0 L168.2,164.4 L168.8,176.7 L169.4,177.9 L169.6,172.6" fill="none" stroke="#636363" stroke-width="1.15" stroke-linejoin="round"/>
<path d="M33.8,157.0 L34.4,156.8 L35.0,156.7 L35.6,156.5 L36.2,156.3 L36.8,156.1 L37.4,155.9 L38.0,155.7 L38.6,155.5 L39.2,155.3 L39.8,155.1 L40.4,154.9 L41.0,154.7 L41.6,154.4 L42.2,154.2 L42.8,153.9 L43.4,153.6 L44.0,153.3 L44.6,153.0 L45.2,152.7 L45.8,152.3 L46.4,152.0 L47.0,151.7 L47.6,151.3 L48.2,151.0 L48.8,150.6 L49.4,150.3 L50.0,150.0 L50.6,149.7 L51.2,149.4 L51.8,149.1 L52.4,148.9 L53.0,148.6 L53.6,148.4 L54.2,148.2 L54.8,148.1 L55.4,148.0 L56.0,147.9 L56.6,147.8 L57.2,147.8 L57.8,147.9 L58.4,148.0 L59.0,148.1 L59.6,148.3 L60.2,148.5 L60.8,148.9 L61.4,149.2 L62.0,149.7 L62.6,150.1 L63.2,150.6 L63.8,151.1 L64.4,151.6 L65.0,152.0 L65.6,152.4 L66.2,152.8 L66.8,153.1 L67.4,153.3 L68.0,153.4 L68.6,153.4 L69.2,153.3 L69.8,153.1 L70.4,152.7 L71.0,152.2 L71.6,151.5 L72.2,150.9 L72.8,150.1 L73.4,149.4 L74.0,148.6 L74.6,147.8 L75.2,147.1 L75.8,146.4 L76.4,145.8 L77.0,145.2 L77.6,144.6 L78.2,144.0 L78.8,143.4 L79.4,142.8 L80.0,142.3 L80.6,141.8 L81.2,141.3 L81.8,140.8 L82.4,140.3 L83.0,139.9 L83.6,139.7 L84.2,139.5 L84.8,139.6 L85.4,140.0 L86.0,140.2 L86.6,140.2 L87.2,140.1 L87.8,140.0 L88.4,140.2 L89.0,140.3 L89.6,140.1 L90.2,139.5 L90.8,139.0 L91.4,138.8 L92.0,139.3 L92.6,140.1 L93.2,140.8 L93.8,140.8 L94.4,141.3 L95.0,142.5 L95.6,143.3 L96.2,144.4 L96.8,143.4 L97.4,143.4 L98.0,143.6 L98.6,142.9 L99.2,142.4 L99.8,141.6 L100.4,140.2 L101.0,141.1 L101.6,139.7 L102.2,141.2 L102.8,141.8 L103.4,141.4 L104.0,141.4 L104.6,143.1 L105.2,141.7 L105.8,145.7 L106.4,146.7 L107.0,144.5 L107.6,143.1 L108.2,145.4 L108.8,141.6 L109.4,142.0 L110.0,145.3 L110.6,144.4 L111.2,145.3 L111.8,145.2 L112.4,148.6 L113.0,147.7 L113.6,148.5 L114.2,143.5 L114.8,137.6 L115.4,140.1 L116.0,138.1 L116.6,141.8 L117.2,147.1 L117.8,142.4 L118.4,146.6 L119.0,146.1 L119.6,149.2 L120.2,149.1 L120.8,155.7 L121.4,149.3 L122.0,149.8 L122.6,146.4 L123.2,151.7 L123.8,149.3 L124.4,149.6 L125.0,145.5 L125.6,144.8 L126.2,142.1 L126.8,151.9 L127.4,147.7 L128.0,156.2 L128.6,156.8 L129.2,151.1 L129.8,155.5 L130.4,156.8 L131.0,157.0 L131.6,156.2 L132.2,155.2 L132.8,154.8 L133.4,157.9 L134.0,155.6 L134.6,152.9 L135.2,148.8 L135.8,151.3 L136.4,158.5 L137.0,153.3 L137.6,147.6 L138.2,145.3 L138.8,152.0 L139.4,157.8 L140.0,155.0 L140.6,158.4 L141.2,156.5 L141.8,153.0 L142.4,155.2 L143.0,159.6 L143.6,157.3 L144.2,158.7 L144.8,152.5 L145.4,150.2 L146.0,149.0 L146.6,154.5 L147.2,149.0 L147.8,156.4 L148.4,166.3 L149.0,165.5 L149.6,161.3 L150.2,154.6 L150.8,150.1 L151.4,160.7 L152.0,155.6 L152.6,161.2 L153.2,158.6 L153.8,147.5 L154.4,143.8 L155.0,158.8 L155.6,159.4 L156.2,160.7 L156.8,167.9 L157.4,160.9 L158.0,161.7 L158.6,169.2 L159.2,155.0 L159.8,157.1 L160.4,155.9 L161.0,160.9 L161.6,162.1 L162.2,160.9 L162.8,159.9 L163.4,157.3 L164.0,163.2 L164.6,164.8 L165.2,168.1 L165.8,170.8 L166.4,158.2 L167.0,171.6 L167.6,155.0 L168.2,158.4 L168.8,169.4 L169.4,175.9 L169.6,164.5" fill="none" stroke="#997300" stroke-width="1.15" stroke-linejoin="round"/>
<path d="M33.8,163.9 L34.4,163.3 L35.0,162.8 L35.6,162.2 L36.2,161.7 L36.8,161.2 L37.4,160.7 L38.0,160.2 L38.6,159.7 L39.2,159.3 L39.8,158.8 L40.4,158.4 L41.0,158.0 L41.6,157.6 L42.2,157.2 L42.8,156.9 L43.4,156.5 L44.0,156.2 L44.6,155.9 L45.2,155.6 L45.8,155.4 L46.4,155.1 L47.0,154.9 L47.6,154.7 L48.2,154.6 L48.8,154.4 L49.4,154.3 L50.0,154.2 L50.6,154.1 L51.2,154.1 L51.8,154.0 L52.4,154.0 L53.0,154.1 L53.6,154.1 L54.2,154.2 L54.8,154.3 L55.4,154.4 L56.0,154.6 L56.6,154.8 L57.2,155.0 L57.8,155.3 L58.4,155.6 L59.0,156.0 L59.6,156.4 L60.2,156.9 L60.8,157.4 L61.4,157.9 L62.0,158.5 L62.6,159.0 L63.2,159.6 L63.8,160.2 L64.4,160.7 L65.0,161.2 L65.6,161.7 L66.2,162.1 L66.8,162.5 L67.4,162.8 L68.0,163.1 L68.6,163.3 L69.2,163.4 L69.8,163.4 L70.4,163.4 L71.0,163.2 L71.6,162.9 L72.2,162.5 L72.8,162.1 L73.4,161.6 L74.0,161.0 L74.6,160.4 L75.2,159.8 L75.8,159.1 L76.4,158.5 L77.0,157.9 L77.6,157.3 L78.2,156.8 L78.8,156.3 L79.4,156.0 L80.0,155.6 L80.6,155.3 L81.2,155.0 L81.8,154.7 L82.4,154.4 L83.0,154.1 L83.6,153.7 L84.2,153.3 L84.8,152.7 L85.4,152.3 L86.0,151.9 L86.6,151.4 L87.2,150.8 L87.8,150.5 L88.4,150.6 L89.0,150.5 L89.6,150.4 L90.2,150.4 L90.8,150.4 L91.4,150.0 L92.0,149.7 L92.6,149.8 L93.2,150.0 L93.8,149.1 L94.4,149.1 L95.0,149.1 L95.6,149.8 L96.2,149.3 L96.8,145.9 L97.4,146.1 L98.0,146.0 L98.6,145.0 L99.2,145.9 L99.8,146.2 L100.4,143.3 L101.0,143.1 L101.6,144.3 L102.2,146.0 L102.8,143.2 L103.4,145.2 L104.0,145.3 L104.6,145.0 L105.2,145.8 L105.8,144.2 L106.4,141.9 L107.0,141.2 L107.6,144.9 L108.2,143.1 L108.8,139.0 L109.4,142.0 L110.0,138.9 L110.6,140.8 L111.2,140.9 L111.8,140.9 L112.4,140.1 L113.0,140.3 L113.6,136.5 L114.2,139.4 L114.8,138.5 L115.4,140.8 L116.0,139.2 L116.6,137.2 L117.2,138.3 L117.8,142.0 L118.4,139.1 L119.0,140.5 L119.6,136.4 L120.2,141.6 L120.8,137.3 L121.4,138.2 L122.0,133.9 L122.6,129.5 L123.2,138.9 L123.8,134.0 L124.4,137.0 L125.0,128.9 L125.6,133.5 L126.2,123.6 L126.8,123.0 L127.4,126.1 L128.0,126.8 L128.6,125.9 L129.2,134.0 L129.8,128.4 L130.4,130.4 L131.0,125.8 L131.6,124.8 L132.2,127.8 L132.8,127.1 L133.4,123.7 L134.0,118.0 L134.6,134.4 L135.2,135.0 L135.8,120.7 L136.4,107.4 L137.0,116.9 L137.6,129.7 L138.2,133.0 L138.8,126.3 L139.4,117.9 L140.0,132.2 L140.6,124.9 L141.2,113.6 L141.8,118.8 L142.4,113.8 L143.0,118.6 L143.6,120.6 L144.2,116.9 L144.8,124.6 L145.4,110.3 L146.0,110.4 L146.6,106.3 L147.2,104.6 L147.8,101.4 L148.4,101.1 L149.0,114.4 L149.6,111.6 L150.2,112.1 L150.8,114.5 L151.4,120.0 L152.0,118.5 L152.6,120.3 L153.2,129.0 L153.8,118.3 L154.4,130.4 L155.0,127.3 L155.6,124.4 L156.2,109.8 L156.8,109.0 L157.4,110.3 L158.0,114.9 L158.6,133.5 L159.2,129.4 L159.8,128.0 L160.4,126.7 L161.0,129.6 L161.6,126.9 L162.2,120.5 L162.8,127.9 L163.4,135.0 L164.0,137.1 L164.6,118.8 L165.2,122.6 L165.8,117.8 L166.4,121.0 L167.0,127.4 L167.6,130.5 L168.2,127.8 L168.8,144.4 L169.4,145.4 L169.6,145.1" fill="none" stroke="#264478" stroke-width="1.15" stroke-linejoin="round"/>
<path d="M33.8,153.0 L34.4,152.7 L35.0,152.5 L35.6,152.2 L36.2,151.9 L36.8,151.6 L37.4,151.3 L38.0,151.0 L38.6,150.7 L39.2,150.4 L39.8,150.0 L40.4,149.7 L41.0,149.3 L41.6,148.9 L42.2,148.5 L42.8,148.1 L43.4,147.7 L44.0,147.2 L44.6,146.8 L45.2,146.3 L45.8,145.7 L46.4,145.2 L47.0,144.6 L47.6,144.0 L48.2,143.3 L48.8,142.7 L49.4,142.0 L50.0,141.3 L50.6,140.7 L51.2,140.1 L51.8,139.4 L52.4,138.8 L53.0,138.3 L53.6,137.7 L54.2,137.2 L54.8,136.8 L55.4,136.4 L56.0,136.1 L56.6,135.9 L57.2,135.7 L57.8,135.6 L58.4,135.6 L59.0,135.7 L59.6,135.9 L60.2,136.2 L60.8,136.8 L61.4,137.4 L62.0,138.1 L62.6,138.7 L63.2,139.3 L63.8,139.8 L64.4,140.2 L65.0,140.3 L65.6,140.4 L66.2,140.4 L66.8,140.3 L67.4,140.1 L68.0,139.9 L68.6,139.6 L69.2,139.2 L69.8,138.8 L70.4,138.4 L71.0,137.9 L71.6,137.4 L72.2,136.9 L72.8,136.4 L73.4,135.9 L74.0,135.3 L74.6,134.8 L75.2,134.3 L75.8,133.9 L76.4,133.4 L77.0,133.0 L77.6,132.6 L78.2,132.3 L78.8,131.9 L79.4,131.7 L80.0,131.4 L80.6,131.3 L81.2,131.2 L81.8,131.1 L82.4,131.2 L83.0,131.3 L83.6,131.5 L84.2,132.0 L84.8,132.6 L85.4,133.3 L86.0,134.1 L86.6,134.8 L87.2,135.5 L87.8,136.1 L88.4,136.8 L89.0,137.3 L89.6,137.7 L90.2,138.1 L90.8,138.5 L91.4,138.7 L92.0,138.8 L92.6,138.8 L93.2,138.7 L93.8,138.7 L94.4,138.6 L95.0,138.4 L95.6,138.1 L96.2,137.0 L96.8,136.2 L97.4,135.9 L98.0,134.9 L98.6,133.6 L99.2,133.6 L99.8,133.2 L100.4,132.5 L101.0,132.4 L101.6,131.5 L102.2,130.7 L102.8,130.0 L103.4,129.1 L104.0,130.6 L104.6,130.6 L105.2,130.1 L105.8,129.6 L106.4,127.8 L107.0,127.1 L107.6,125.2 L108.2,126.6 L108.8,125.8 L109.4,124.4 L110.0,125.1 L110.6,125.0 L111.2,125.8 L111.8,125.1 L112.4,125.0 L113.0,126.0 L113.6,125.7 L114.2,125.3 L114.8,126.1 L115.4,124.8 L116.0,125.1 L116.6,124.4 L117.2,123.2 L117.8,121.7 L118.4,121.3 L119.0,119.5 L119.6,119.8 L120.2,118.6 L120.8,119.0 L121.4,118.6 L122.0,119.3 L122.6,118.8 L123.2,119.3 L123.8,118.3 L124.4,116.8 L125.0,116.5 L125.6,117.4 L126.2,116.4 L126.8,115.4 L127.4,120.0 L128.0,113.8 L128.6,114.1 L129.2,113.1 L129.8,114.3 L130.4,115.1 L131.0,118.8 L131.6,117.9 L132.2,114.5 L132.8,108.3 L133.4,111.1 L134.0,111.9 L134.6,116.0 L135.2,115.3 L135.8,115.7 L136.4,112.5 L137.0,110.8 L137.6,110.0 L138.2,111.7 L138.8,107.0 L139.4,107.3 L140.0,115.4 L140.6,107.0 L141.2,103.0 L141.8,107.3 L142.4,109.0 L143.0,109.3 L143.6,106.6 L144.2,106.2 L144.8,105.4 L145.4,104.8 L146.0,106.0 L146.6,107.5 L147.2,113.1 L147.8,109.2 L148.4,116.1 L149.0,118.1 L149.6,112.4 L150.2,114.9 L150.8,120.3 L151.4,117.3 L152.0,117.3 L152.6,121.0 L153.2,119.8 L153.8,124.0 L154.4,111.5 L155.0,121.4 L155.6,119.8 L156.2,122.6 L156.8,117.0 L157.4,121.1 L158.0,124.5 L158.6,132.2 L159.2,134.9 L159.8,131.5 L160.4,131.5 L161.0,139.9 L161.6,133.1 L162.2,131.8 L162.8,136.3 L163.4,142.5 L164.0,144.0 L164.6,145.6 L165.2,143.5 L165.8,138.3 L166.4,141.4 L167.0,139.3 L167.6,142.4 L168.2,144.4 L168.8,140.9 L169.4,137.7 L169.6,151.7" fill="none" stroke="#43682B" stroke-width="1.15" stroke-linejoin="round"/>
<path d="M33.8,159.2 L34.4,158.7 L35.0,158.3 L35.6,157.8 L36.2,157.4 L36.8,156.9 L37.4,156.5 L38.0,156.1 L38.6,155.7 L39.2,155.2 L39.8,154.9 L40.4,154.5 L41.0,154.1 L41.6,153.7 L42.2,153.4 L42.8,153.0 L43.4,152.7 L44.0,152.4 L44.6,152.1 L45.2,151.8 L45.8,151.5 L46.4,151.2 L47.0,151.0 L47.6,150.7 L48.2,150.5 L48.8,150.3 L49.4,150.1 L50.0,149.9 L50.6,149.8 L51.2,149.6 L51.8,149.5 L52.4,149.4 L53.0,149.3 L53.6,149.3 L54.2,149.2 L54.8,149.2 L55.4,149.2 L56.0,149.2 L56.6,149.2 L57.2,149.3 L57.8,149.4 L58.4,149.5 L59.0,149.6 L59.6,149.8 L60.2,149.9 L60.8,150.1 L61.4,150.4 L62.0,150.6 L62.6,150.9 L63.2,151.1 L63.8,151.4 L64.4,151.6 L65.0,151.8 L65.6,152.0 L66.2,152.1 L66.8,152.2 L67.4,152.2 L68.0,152.1 L68.6,152.0 L69.2,151.8 L69.8,151.4 L70.4,150.9 L71.0,150.3 L71.6,149.6 L72.2,148.8 L72.8,148.1 L73.4,147.3 L74.0,146.6 L74.6,145.9 L75.2,145.2 L75.8,144.7 L76.4,144.4 L77.0,144.1 L77.6,143.9 L78.2,143.8 L78.8,143.7 L79.4,143.6 L80.0,143.6 L80.6,143.6 L81.2,143.6 L81.8,143.6 L82.4,143.6 L83.0,143.6 L83.6,143.6 L84.2,143.6 L84.8,143.5 L85.4,143.4 L86.0,143.2 L86.6,143.0 L87.2,142.7 L87.8,142.5 L88.4,142.2 L89.0,141.7 L89.6,141.3 L90.2,141.0 L90.8,140.7 L91.4,140.2 L92.0,140.3 L92.6,141.3 L93.2,142.2 L93.8,142.2 L94.4,141.8 L95.0,141.2 L95.6,139.5 L96.2,139.6 L96.8,138.2 L97.4,139.5 L98.0,139.5 L98.6,138.4 L99.2,139.2 L99.8,138.4 L100.4,137.6 L101.0,135.7 L101.6,136.6 L102.2,134.7 L102.8,134.5 L103.4,136.5 L104.0,136.2 L104.6,138.2 L105.2,135.5 L105.8,135.4 L106.4,136.3 L107.0,131.8 L107.6,134.0 L108.2,131.4 L108.8,131.2 L109.4,131.1 L110.0,130.4 L110.6,130.5 L111.2,132.1 L111.8,129.2 L112.4,131.7 L113.0,132.8 L113.6,132.0 L114.2,132.7 L114.8,133.0 L115.4,132.7 L116.0,132.2 L116.6,131.4 L117.2,133.0 L117.8,137.0 L118.4,136.5 L119.0,136.0 L119.6,136.9 L120.2,142.0 L120.8,135.4 L121.4,140.7 L122.0,134.0 L122.6,134.5 L123.2,132.4 L123.8,133.6 L124.4,130.6 L125.0,130.8 L125.6,134.7 L126.2,133.9 L126.8,137.0 L127.4,132.8 L128.0,133.5 L128.6,134.1 L129.2,127.7 L129.8,129.7 L130.4,129.7 L131.0,136.0 L131.6,140.2 L132.2,136.7 L132.8,135.8 L133.4,135.8 L134.0,134.6 L134.6,134.5 L135.2,134.0 L135.8,129.6 L136.4,141.3 L137.0,143.6 L137.6,149.3 L138.2,157.6 L138.8,137.6 L139.4,130.1 L140.0,132.0 L140.6,153.5 L141.2,156.9 L141.8,147.3 L142.4,156.8 L143.0,149.0 L143.6,159.9 L144.2,140.1 L144.8,150.3 L145.4,140.2 L146.0,149.6 L146.6,162.6 L147.2,148.6 L147.8,139.2 L148.4,135.3 L149.0,165.1 L149.6,149.0 L150.2,153.9 L150.8,148.8 L151.4,121.0 L152.0,148.0 L152.6,133.2 L153.2,139.9 L153.8,159.1 L154.4,141.0 L155.0,138.1 L155.6,127.4 L156.2,122.4 L156.8,132.9 L157.4,151.1 L158.0,153.4 L158.6,166.3 L159.2,158.5 L159.8,163.7 L160.4,146.0 L161.0,159.0 L161.6,155.7 L162.2,151.5 L162.8,140.3 L163.4,148.2 L164.0,147.9 L164.6,152.6 L165.2,164.3 L165.8,166.1 L166.4,164.6 L167.0,169.1 L167.6,153.9 L168.2,155.4 L168.8,170.9 L169.4,174.7 L169.6,164.2" fill="none" stroke="#7CAFDD" stroke-width="1.15" stroke-linejoin="round"/>
<path d="M33.8,169.0 L34.4,168.9 L35.0,168.8 L35.6,168.7 L36.2,168.6 L36.8,168.5 L37.4,168.4 L38.0,168.3 L38.6,168.2 L39.2,168.1 L39.8,168.0 L40.4,167.9 L41.0,167.7 L41.6,167.6 L42.2,167.5 L42.8,167.4 L43.4,167.3 L44.0,167.2 L44.6,167.1 L45.2,167.0 L45.8,166.8 L46.4,166.7 L47.0,166.6 L47.6,166.5 L48.2,166.3 L48.8,166.2 L49.4,166.1 L50.0,166.0 L50.6,165.8 L51.2,165.7 L51.8,165.6 L52.4,165.6 L53.0,165.5 L53.6,165.4 L54.2,165.4 L54.8,165.3 L55.4,165.3 L56.0,165.3 L56.6,165.3 L57.2,165.4 L57.8,165.4 L58.4,165.5 L59.0,165.7 L59.6,165.8 L60.2,166.0 L60.8,166.2 L61.4,166.4 L62.0,166.6 L62.6,166.8 L63.2,167.1 L63.8,167.4 L64.4,167.7 L65.0,168.0 L65.6,168.4 L66.2,168.7 L66.8,169.0 L67.4,169.3 L68.0,169.5 L68.6,169.7 L69.2,169.8 L69.8,169.8 L70.4,169.7 L71.0,169.4 L71.6,169.1 L72.2,168.6 L72.8,168.0 L73.4,167.4 L74.0,166.7 L74.6,166.0 L75.2,165.4 L75.8,164.8 L76.4,164.2 L77.0,163.7 L77.6,163.3 L78.2,162.8 L78.8,162.4 L79.4,162.1 L80.0,161.7 L80.6,161.4 L81.2,161.0 L81.8,160.7 L82.4,160.4 L83.0,160.0 L83.6,159.6 L84.2,159.2 L84.8,158.7 L85.4,158.2 L86.0,157.7 L86.6,157.1 L87.2,156.6 L87.8,156.1 L88.4,155.8 L89.0,155.3 L89.6,154.9 L90.2,154.4 L90.8,154.0 L91.4,153.2 L92.0,152.4 L92.6,151.4 L93.2,150.6 L93.8,150.2 L94.4,149.6 L95.0,148.5 L95.6,147.2 L96.2,146.5 L96.8,145.1 L97.4,144.2 L98.0,143.6 L98.6,142.8 L99.2,142.1 L99.8,141.3 L100.4,140.5 L101.0,139.8 L101.6,137.8 L102.2,136.5 L102.8,136.3 L103.4,135.5 L104.0,134.2 L104.6,134.4 L105.2,133.0 L105.8,133.2 L106.4,131.3 L107.0,130.6 L107.6,129.6 L108.2,128.9 L108.8,128.0 L109.4,127.3 L110.0,126.1 L110.6,124.1 L111.2,122.5 L111.8,121.0 L112.4,118.4 L113.0,116.0 L113.6,114.1 L114.2,114.2 L114.8,110.5 L115.4,110.4 L116.0,107.7 L116.6,107.4 L117.2,107.3 L117.8,106.2 L118.4,104.7 L119.0,103.4 L119.6,102.7 L120.2,102.2 L120.8,102.3 L121.4,102.6 L122.0,103.1 L122.6,103.9 L123.2,102.7 L123.8,105.8 L124.4,106.4 L125.0,107.9 L125.6,108.1 L126.2,109.4 L126.8,113.2 L127.4,116.4 L128.0,117.3 L128.6,122.6 L129.2,121.8 L129.8,125.6 L130.4,125.2 L131.0,126.2 L131.6,125.4 L132.2,125.9 L132.8,125.1 L133.4,124.6 L134.0,126.4 L134.6,126.9 L135.2,126.3 L135.8,126.0 L136.4,127.2 L137.0,128.4 L137.6,125.6 L138.2,129.3 L138.8,129.3 L139.4,132.0 L140.0,132.5 L140.6,132.3 L141.2,139.1 L141.8,142.2 L142.4,142.1 L143.0,145.4 L143.6,144.3 L144.2,145.2 L144.8,147.0 L145.4,147.1 L146.0,154.3 L146.6,162.3 L147.2,163.6 L147.8,165.8 L148.4,167.4 L149.0,166.7 L149.6,166.1 L150.2,161.1 L150.8,163.5 L151.4,157.9 L152.0,154.8 L152.6,156.3 L153.2,150.0 L153.8,152.0 L154.4,145.4 L155.0,143.8 L155.6,146.4 L156.2,154.3 L156.8,146.1 L157.4,146.4 L158.0,151.0 L158.6,149.4 L159.2,151.5 L159.8,149.8 L160.4,150.4 L161.0,152.5 L161.6,152.3 L162.2,149.6 L162.8,161.7 L163.4,157.6 L164.0,157.8 L164.6,158.0 L165.2,161.5 L165.8,159.8 L166.4,157.1 L167.0,158.7 L167.6,161.6 L168.2,158.7 L168.8,159.9 L169.4,162.8 L169.6,163.4" fill="none" stroke="#F1975A" stroke-width="1.15" stroke-linejoin="round"/>
<path d="M33.8,155.0 L34.4,154.2 L35.0,153.5 L35.6,152.8 L36.2,152.0 L36.8,151.3 L37.4,150.6 L38.0,150.0 L38.6,149.3 L39.2,148.7 L39.8,148.1 L40.4,147.5 L41.0,146.9 L41.6,146.3 L42.2,145.8 L42.8,145.3 L43.4,144.8 L44.0,144.3 L44.6,143.8 L45.2,143.4 L45.8,143.0 L46.4,142.6 L47.0,142.2 L47.6,141.9 L48.2,141.6 L48.8,141.3 L49.4,141.0 L50.0,140.8 L50.6,140.6 L51.2,140.4 L51.8,140.2 L52.4,140.1 L53.0,140.0 L53.6,140.0 L54.2,139.9 L54.8,139.9 L55.4,140.0 L56.0,140.0 L56.6,140.1 L57.2,140.2 L57.8,140.4 L58.4,140.6 L59.0,140.8 L59.6,141.1 L60.2,141.4 L60.8,141.8 L61.4,142.3 L62.0,142.8 L62.6,143.4 L63.2,143.9 L63.8,144.5 L64.4,145.1 L65.0,145.6 L65.6,146.2 L66.2,146.7 L66.8,147.1 L67.4,147.5 L68.0,147.8 L68.6,148.0 L69.2,148.1 L69.8,148.0 L70.4,147.9 L71.0,147.6 L71.6,147.1 L72.2,146.6 L72.8,145.9 L73.4,145.2 L74.0,144.5 L74.6,143.7 L75.2,142.9 L75.8,142.2 L76.4,141.6 L77.0,140.9 L77.6,140.3 L78.2,139.8 L78.8,139.4 L79.4,139.0 L80.0,138.6 L80.6,138.5 L81.2,138.4 L81.8,138.5 L82.4,138.6 L83.0,138.8 L83.6,139.0 L84.2,139.1 L84.8,139.2 L85.4,139.0 L86.0,138.7 L86.6,138.2 L87.2,137.7 L87.8,137.3 L88.4,137.2 L89.0,137.4 L89.6,137.6 L90.2,137.5 L90.8,137.1 L91.4,136.7 L92.0,136.7 L92.6,136.4 L93.2,135.6 L93.8,134.4 L94.4,135.0 L95.0,135.2 L95.6,136.2 L96.2,136.8 L96.8,136.9 L97.4,136.3 L98.0,136.4 L98.6,136.6 L99.2,138.3 L99.8,140.3 L100.4,140.0 L101.0,135.9 L101.6,135.6 L102.2,134.5 L102.8,134.7 L103.4,136.1 L104.0,136.7 L104.6,138.8 L105.2,139.9 L105.8,136.3 L106.4,136.4 L107.0,136.4 L107.6,133.4 L108.2,135.5 L108.8,136.1 L109.4,135.3 L110.0,135.0 L110.6,135.2 L111.2,133.8 L111.8,131.7 L112.4,131.6 L113.0,131.3 L113.6,132.6 L114.2,130.9 L114.8,133.2 L115.4,136.3 L116.0,137.9 L116.6,141.5 L117.2,134.4 L117.8,134.7 L118.4,132.4 L119.0,135.3 L119.6,137.2 L120.2,136.8 L120.8,140.0 L121.4,135.9 L122.0,135.3 L122.6,138.4 L123.2,140.9 L123.8,133.9 L124.4,129.0 L125.0,138.5 L125.6,133.7 L126.2,140.4 L126.8,136.5 L127.4,139.0 L128.0,137.9 L128.6,142.7 L129.2,141.1 L129.8,135.4 L130.4,146.4 L131.0,145.4 L131.6,149.7 L132.2,149.2 L132.8,146.5 L133.4,145.8 L134.0,140.9 L134.6,154.2 L135.2,157.1 L135.8,149.9 L136.4,150.6 L137.0,157.3 L137.6,157.2 L138.2,156.2 L138.8,153.8 L139.4,151.2 L140.0,149.0 L140.6,151.4 L141.2,155.5 L141.8,154.8 L142.4,158.8 L143.0,146.2 L143.6,154.1 L144.2,160.0 L144.8,156.0 L145.4,150.4 L146.0,129.2 L146.6,143.8 L147.2,151.3 L147.8,159.0 L148.4,168.1 L149.0,144.6 L149.6,142.4 L150.2,151.7 L150.8,152.9 L151.4,158.1 L152.0,158.5 L152.6,151.2 L153.2,151.2 L153.8,157.2 L154.4,160.5 L155.0,141.7 L155.6,113.0 L156.2,144.8 L156.8,144.5 L157.4,144.6 L158.0,142.0 L158.6,142.0 L159.2,147.4 L159.8,157.8 L160.4,150.9 L161.0,159.2 L161.6,164.2 L162.2,142.1 L162.8,156.1 L163.4,146.8 L164.0,134.7 L164.6,125.5 L165.2,139.6 L165.8,138.2 L166.4,160.2 L167.0,149.1 L167.6,156.8 L168.2,174.6 L168.8,173.6 L169.4,179.4 L169.6,180.7" fill="none" stroke="#B7B7B7" stroke-width="1.15" stroke-linejoin="round"/>
<path d="M33.8,153.4 L34.4,153.4 L35.0,153.4 L35.6,153.4 L36.2,153.3 L36.8,153.3 L37.4,153.3 L38.0,153.2 L38.6,153.2 L39.2,153.1 L39.8,153.1 L40.4,153.0 L41.0,152.9 L41.6,152.8 L42.2,152.7 L42.8,152.6 L43.4,152.5 L44.0,152.4 L44.6,152.2 L45.2,152.1 L45.8,151.9 L46.4,151.7 L47.0,151.6 L47.6,151.3 L48.2,151.1 L48.8,150.9 L49.4,150.7 L50.0,150.4 L50.6,150.1 L51.2,149.8 L51.8,149.4 L52.4,149.1 L53.0,148.7 L53.6,148.2 L54.2,147.8 L54.8,147.4 L55.4,147.0 L56.0,146.6 L56.6,146.1 L57.2,145.8 L57.8,145.4 L58.4,145.1 L59.0,144.8 L59.6,144.5 L60.2,144.3 L60.8,144.1 L61.4,143.9 L62.0,143.7 L62.6,143.6 L63.2,143.5 L63.8,143.3 L64.4,143.2 L65.0,143.1 L65.6,143.1 L66.2,143.0 L66.8,142.9 L67.4,142.8 L68.0,142.8 L68.6,142.7 L69.2,142.6 L69.8,142.5 L70.4,142.3 L71.0,142.1 L71.6,141.8 L72.2,141.5 L72.8,141.0 L73.4,140.5 L74.0,139.9 L74.6,139.3 L75.2,138.6 L75.8,137.9 L76.4,137.2 L77.0,136.5 L77.6,135.7 L78.2,135.0 L78.8,134.3 L79.4,133.6 L80.0,132.8 L80.6,132.0 L81.2,131.2 L81.8,130.3 L82.4,129.2 L83.0,128.0 L83.6,126.7 L84.2,125.4 L84.8,124.1 L85.4,123.1 L86.0,122.4 L86.6,122.2 L87.2,122.2 L87.8,122.5 L88.4,123.0 L89.0,123.6 L89.6,124.4 L90.2,125.2 L90.8,126.1 L91.4,126.8 L92.0,127.3 L92.6,127.6 L93.2,127.6 L93.8,127.5 L94.4,127.7 L95.0,127.9 L95.6,127.7 L96.2,127.2 L96.8,126.7 L97.4,126.0 L98.0,125.7 L98.6,124.7 L99.2,124.8 L99.8,124.7 L100.4,124.4 L101.0,123.7 L101.6,124.2 L102.2,123.6 L102.8,123.3 L103.4,122.0 L104.0,122.3 L104.6,122.2 L105.2,122.2 L105.8,122.9 L106.4,122.8 L107.0,122.5 L107.6,122.1 L108.2,121.6 L108.8,121.8 L109.4,122.2 L110.0,121.8 L110.6,122.9 L111.2,122.6 L111.8,123.9 L112.4,123.3 L113.0,122.3 L113.6,122.8 L114.2,121.0 L114.8,119.7 L115.4,120.1 L116.0,121.5 L116.6,121.1 L117.2,120.0 L117.8,119.6 L118.4,118.9 L119.0,119.6 L119.6,120.4 L120.2,119.0 L120.8,118.1 L121.4,118.9 L122.0,116.8 L122.6,116.4 L123.2,114.8 L123.8,114.3 L124.4,113.9 L125.0,113.0 L125.6,111.7 L126.2,111.7 L126.8,113.2 L127.4,111.8 L128.0,110.4 L128.6,110.8 L129.2,109.2 L129.8,108.8 L130.4,106.8 L131.0,107.7 L131.6,109.3 L132.2,108.2 L132.8,110.4 L133.4,109.0 L134.0,109.3 L134.6,108.2 L135.2,108.1 L135.8,108.5 L136.4,110.1 L137.0,108.8 L137.6,107.7 L138.2,104.2 L138.8,108.4 L139.4,105.0 L140.0,108.0 L140.6,107.8 L141.2,108.3 L141.8,109.0 L142.4,107.3 L143.0,110.6 L143.6,111.0 L144.2,111.0 L144.8,117.1 L145.4,112.8 L146.0,115.4 L146.6,120.0 L147.2,112.7 L147.8,118.8 L148.4,122.6 L149.0,119.3 L149.6,122.0 L150.2,128.6 L150.8,126.1 L151.4,128.2 L152.0,127.7 L152.6,128.1 L153.2,132.1 L153.8,126.3 L154.4,128.7 L155.0,131.3 L155.6,133.0 L156.2,130.9 L156.8,133.6 L157.4,138.3 L158.0,133.9 L158.6,138.3 L159.2,137.7 L159.8,140.1 L160.4,138.3 L161.0,135.1 L161.6,136.1 L162.2,135.6 L162.8,136.3 L163.4,136.4 L164.0,141.7 L164.6,136.5 L165.2,137.8 L165.8,136.1 L166.4,137.4 L167.0,137.5 L167.6,139.3 L168.2,138.8 L168.8,142.9 L169.4,142.4 L169.6,152.9" fill="none" stroke="#FFCD33" stroke-width="1.15" stroke-linejoin="round"/>
<path d="M33.8,166.5 L34.4,166.4 L35.0,166.4 L35.6,166.3 L36.2,166.2 L36.8,166.1 L37.4,166.0 L38.0,165.9 L38.6,165.8 L39.2,165.6 L39.8,165.5 L40.4,165.4 L41.0,165.2 L41.6,165.1 L42.2,164.9 L42.8,164.7 L43.4,164.5 L44.0,164.3 L44.6,164.1 L45.2,163.8 L45.8,163.6 L46.4,163.3 L47.0,163.0 L47.6,162.7 L48.2,162.3 L48.8,162.0 L49.4,161.6 L50.0,161.2 L50.6,160.8 L51.2,160.4 L51.8,159.9 L52.4,159.5 L53.0,159.1 L53.6,158.7 L54.2,158.4 L54.8,158.0 L55.4,157.7 L56.0,157.4 L56.6,157.2 L57.2,157.0 L57.8,156.9 L58.4,156.8 L59.0,156.8 L59.6,156.8 L60.2,156.9 L60.8,157.1 L61.4,157.3 L62.0,157.6 L62.6,157.9 L63.2,158.2 L63.8,158.6 L64.4,159.0 L65.0,159.3 L65.6,159.7 L66.2,160.0 L66.8,160.3 L67.4,160.5 L68.0,160.7 L68.6,160.9 L69.2,161.0 L69.8,161.0 L70.4,160.9 L71.0,160.8 L71.6,160.5 L72.2,160.2 L72.8,159.8 L73.4,159.3 L74.0,158.8 L74.6,158.3 L75.2,157.7 L75.8,157.2 L76.4,156.6 L77.0,156.0 L77.6,155.4 L78.2,154.8 L78.8,154.3 L79.4,153.8 L80.0,153.3 L80.6,152.8 L81.2,152.3 L81.8,151.8 L82.4,151.4 L83.0,151.0 L83.6,150.6 L84.2,150.2 L84.8,149.8 L85.4,149.5 L86.0,149.2 L86.6,148.9 L87.2,148.4 L87.8,147.9 L88.4,147.4 L89.0,147.0 L89.6,146.8 L90.2,146.6 L90.8,146.5 L91.4,146.5 L92.0,146.5 L92.6,146.5 L93.2,146.4 L93.8,146.1 L94.4,146.6 L95.0,146.7 L95.6,146.7 L96.2,147.3 L96.8,147.6 L97.4,147.5 L98.0,147.7 L98.6,148.1 L99.2,148.0 L99.8,148.0 L100.4,147.7 L101.0,147.5 L101.6,147.6 L102.2,148.3 L102.8,147.7 L103.4,147.5 L104.0,147.3 L104.6,146.7 L105.2,147.0 L105.8,146.7 L106.4,147.8 L107.0,146.5 L107.6,146.8 L108.2,147.0 L108.8,146.9 L109.4,145.7 L110.0,145.4 L110.6,143.9 L111.2,142.5 L111.8,141.6 L112.4,141.9 L113.0,144.2 L113.6,143.3 L114.2,141.1 L114.8,143.9 L115.4,142.6 L116.0,143.1 L116.6,144.0 L117.2,139.9 L117.8,142.4 L118.4,142.7 L119.0,143.0 L119.6,142.9 L120.2,142.2 L120.8,139.2 L121.4,140.2 L122.0,138.3 L122.6,138.6 L123.2,142.8 L123.8,143.8 L124.4,140.8 L125.0,139.3 L125.6,140.1 L126.2,139.6 L126.8,133.7 L127.4,135.4 L128.0,135.2 L128.6,133.5 L129.2,132.5 L129.8,132.6 L130.4,133.1 L131.0,135.9 L131.6,136.0 L132.2,137.3 L132.8,136.8 L133.4,137.3 L134.0,137.7 L134.6,139.2 L135.2,141.9 L135.8,140.8 L136.4,140.8 L137.0,140.9 L137.6,136.9 L138.2,138.8 L138.8,133.7 L139.4,138.9 L140.0,132.8 L140.6,135.5 L141.2,131.8 L141.8,135.4 L142.4,136.7 L143.0,134.5 L143.6,132.1 L144.2,127.9 L144.8,130.4 L145.4,133.2 L146.0,133.7 L146.6,135.9 L147.2,133.5 L147.8,133.8 L148.4,133.9 L149.0,134.2 L149.6,135.4 L150.2,135.5 L150.8,138.8 L151.4,142.1 L152.0,135.9 L152.6,142.1 L153.2,142.6 L153.8,145.3 L154.4,141.0 L155.0,141.7 L155.6,144.1 L156.2,144.3 L156.8,142.7 L157.4,148.5 L158.0,143.0 L158.6,143.6 L159.2,150.5 L159.8,143.3 L160.4,147.2 L161.0,141.2 L161.6,141.6 L162.2,141.5 L162.8,136.4 L163.4,136.7 L164.0,140.9 L164.6,142.4 L165.2,143.5 L165.8,150.6 L166.4,148.7 L167.0,144.7 L167.6,148.2 L168.2,144.2 L168.8,150.2 L169.4,148.9 L169.6,148.2" fill="none" stroke="#FF0000" stroke-width="2.2" stroke-dasharray="4.6 1.7" stroke-linejoin="round"/>
<line x1="263.00" y1="73.25" x2="263.00" y2="223.60" stroke="#E7E7E7" stroke-width="0.8"/>
<line x1="263.00" y1="73.25" x2="445.95" y2="73.25" stroke="#E7E7E7" stroke-width="0.8"/>
<line x1="323.98" y1="73.25" x2="323.98" y2="223.60" stroke="#E7E7E7" stroke-width="0.8"/>
<line x1="263.00" y1="123.37" x2="445.95" y2="123.37" stroke="#E7E7E7" stroke-width="0.8"/>
<line x1="384.97" y1="73.25" x2="384.97" y2="223.60" stroke="#E7E7E7" stroke-width="0.8"/>
<line x1="263.00" y1="173.48" x2="445.95" y2="173.48" stroke="#E7E7E7" stroke-width="0.8"/>
<line x1="445.95" y1="73.25" x2="445.95" y2="223.60" stroke="#E7E7E7" stroke-width="0.8"/>
<line x1="263.00" y1="223.60" x2="445.95" y2="223.60" stroke="#E7E7E7" stroke-width="0.8"/>
<text x="262.75" y="235.2" font-size="7.0" fill="#1c1c1c" stroke="#1c1c1c" stroke-width="0.17" text-anchor="middle" textLength="8.7" lengthAdjust="spacingAndGlyphs">0.1</text>
<text x="256.30" y="226.50" font-size="7.0" fill="#1c1c1c" stroke="#1c1c1c" stroke-width="0.17" text-anchor="end" textLength="8.7" lengthAdjust="spacingAndGlyphs">0.1</text>
<text x="323.93" y="235.2" font-size="7.0" fill="#1c1c1c" stroke="#1c1c1c" stroke-width="0.17" text-anchor="middle" textLength="3.4" lengthAdjust="spacingAndGlyphs">1</text>
<text x="256.30" y="176.30" font-size="7.0" fill="#1c1c1c" stroke="#1c1c1c" stroke-width="0.17" text-anchor="end" textLength="3.4" lengthAdjust="spacingAndGlyphs">1</text>
<text x="385.12" y="235.2" font-size="7.0" fill="#1c1c1c" stroke="#1c1c1c" stroke-width="0.17" text-anchor="middle" textLength="6.9" lengthAdjust="spacingAndGlyphs">10</text>
<text x="256.30" y="126.10" font-size="7.0" fill="#1c1c1c" stroke="#1c1c1c" stroke-width="0.17" text-anchor="end" textLength="6.9" lengthAdjust="spacingAndGlyphs">10</text>
<text x="446.30" y="235.2" font-size="7.0" fill="#1c1c1c" stroke="#1c1c1c" stroke-width="0.17" text-anchor="middle" textLength="10.8" lengthAdjust="spacingAndGlyphs">100</text>
<text x="256.30" y="75.90" font-size="7.0" fill="#1c1c1c" stroke="#1c1c1c" stroke-width="0.17" text-anchor="end" textLength="10.8" lengthAdjust="spacingAndGlyphs">100</text>
<text x="354.75" y="245.70" font-size="7.2" fill="#1c1c1c" stroke="#1c1c1c" stroke-width="0.17" text-anchor="middle" textLength="47.4" lengthAdjust="spacingAndGlyphs">Frequency (Hz)</text>
<text transform="translate(239.6,148.6) rotate(-90)" font-size="7.0" fill="#1c1c1c" stroke="#1c1c1c" stroke-width="0.17" text-anchor="middle" textLength="51.0" lengthAdjust="spacingAndGlyphs">HSAF (borehole)</text>
<text fill="#111" stroke="#111" stroke-width="0.22"><tspan x="318.6" y="9.5" font-size="10.0" textLength="12.6" lengthAdjust="spacingAndGlyphs">(b)</tspan><tspan> </tspan><tspan x="333.7" y="8.5" font-size="7.6" textLength="27.9" lengthAdjust="spacingAndGlyphs">HSAF_b</tspan></text>
<line x1="233.00" y1="19.80" x2="250.00" y2="19.80" stroke="#5B9BD5" stroke-width="0.9" stroke-opacity="0.8"/>
<text x="251.60" y="21.80" font-size="6.05" fill="#1c1c1c" stroke="#1c1c1c" stroke-width="0.17" textLength="24" lengthAdjust="spacingAndGlyphs">AOMB01</text>
<line x1="290.30" y1="19.80" x2="307.30" y2="19.80" stroke="#ED7D31" stroke-width="0.9" stroke-opacity="0.8"/>
<text x="308.90" y="21.80" font-size="6.05" fill="#1c1c1c" stroke="#1c1c1c" stroke-width="0.17" textLength="24" lengthAdjust="spacingAndGlyphs">AOMB02</text>
<line x1="347.60" y1="19.80" x2="364.60" y2="19.80" stroke="#A5A5A5" stroke-width="0.9" stroke-opacity="0.8"/>
<text x="366.20" y="21.80" font-size="6.05" fill="#1c1c1c" stroke="#1c1c1c" stroke-width="0.17" textLength="24" lengthAdjust="spacingAndGlyphs">AOMB03</text>
<line x1="404.90" y1="19.80" x2="421.90" y2="19.80" stroke="#FFC000" stroke-width="0.9" stroke-opacity="0.8"/>
<text x="423.50" y="21.80" font-size="6.05" fill="#1c1c1c" stroke="#1c1c1c" stroke-width="0.17" textLength="24" lengthAdjust="spacingAndGlyphs">AOMB04</text>
<line x1="233.00" y1="27.70" x2="250.00" y2="27.70" stroke="#4472C4" stroke-width="1.6" stroke-opacity="0.85"/>
<text x="251.60" y="29.70" font-size="6.05" fill="#1c1c1c" stroke="#1c1c1c" stroke-width="0.17" textLength="24" lengthAdjust="spacingAndGlyphs">AOMB05</text>
<line x1="290.30" y1="27.70" x2="307.30" y2="27.70" stroke="#70AD47" stroke-width="1.6" stroke-opacity="0.85"/>
<text x="308.90" y="29.70" font-size="6.05" fill="#1c1c1c" stroke="#1c1c1c" stroke-width="0.17" textLength="24" lengthAdjust="spacingAndGlyphs">AOMB06</text>
<line x1="347.60" y1="27.70" x2="364.60" y2="27.70" stroke="#255E91" stroke-width="1.6" stroke-opacity="0.85"/>
<text x="366.20" y="29.70" font-size="6.05" fill="#1c1c1c" stroke="#1c1c1c" stroke-width="0.17" textLength="24" lengthAdjust="spacingAndGlyphs">AOMB07</text>
<line x1="404.90" y1="27.70" x2="421.90" y2="27.70" stroke="#9E480E" stroke-width="1.6" stroke-opacity="0.85"/>
<text x="423.50" y="29.70" font-size="6.05" fill="#1c1c1c" stroke="#1c1c1c" stroke-width="0.17" textLength="24" lengthAdjust="spacingAndGlyphs">AOMB08</text>
<line x1="233.00" y1="35.90" x2="250.00" y2="35.90" stroke="#636363" stroke-width="1.1" stroke-opacity="1"/>
<text x="251.60" y="37.90" font-size="6.05" fill="#1c1c1c" stroke="#1c1c1c" stroke-width="0.17" textLength="24" lengthAdjust="spacingAndGlyphs">AOMB09</text>
<line x1="290.30" y1="35.90" x2="307.30" y2="35.90" stroke="#997300" stroke-width="1.1" stroke-opacity="1"/>
<text x="308.90" y="37.90" font-size="6.05" fill="#1c1c1c" stroke="#1c1c1c" stroke-width="0.17" textLength="24" lengthAdjust="spacingAndGlyphs">AOMB10</text>
<line x1="347.60" y1="35.90" x2="364.60" y2="35.90" stroke="#264478" stroke-width="1.1" stroke-opacity="1"/>
<text x="366.20" y="37.90" font-size="6.05" fill="#1c1c1c" stroke="#1c1c1c" stroke-width="0.17" textLength="24" lengthAdjust="spacingAndGlyphs">AOMB11</text>
<line x1="404.90" y1="35.90" x2="421.90" y2="35.90" stroke="#43682B" stroke-width="1.1" stroke-opacity="1"/>
<text x="423.50" y="37.90" font-size="6.05" fill="#1c1c1c" stroke="#1c1c1c" stroke-width="0.17" textLength="24" lengthAdjust="spacingAndGlyphs">AOMB12</text>
<line x1="233.00" y1="43.80" x2="250.00" y2="43.80" stroke="#7CAFDD" stroke-width="0.8" stroke-opacity="0.9"/>
<text x="251.60" y="45.80" font-size="6.05" fill="#1c1c1c" stroke="#1c1c1c" stroke-width="0.17" textLength="24" lengthAdjust="spacingAndGlyphs">AOMB13</text>
<line x1="290.30" y1="43.80" x2="307.30" y2="43.80" stroke="#F1975A" stroke-width="0.8" stroke-opacity="0.9"/>
<text x="308.90" y="45.80" font-size="6.05" fill="#1c1c1c" stroke="#1c1c1c" stroke-width="0.17" textLength="24" lengthAdjust="spacingAndGlyphs">AOMB14</text>
<line x1="347.60" y1="43.80" x2="364.60" y2="43.80" stroke="#B7B7B7" stroke-width="0.8" stroke-opacity="0.9"/>
<text x="366.20" y="45.80" font-size="6.05" fill="#1c1c1c" stroke="#1c1c1c" stroke-width="0.17" textLength="24" lengthAdjust="spacingAndGlyphs">AOMB15</text>
<line x1="404.90" y1="43.80" x2="421.90" y2="43.80" stroke="#FFCD33" stroke-width="0.8" stroke-opacity="0.9"/>
<text x="423.50" y="45.80" font-size="6.05" fill="#1c1c1c" stroke="#1c1c1c" stroke-width="0.17" textLength="24" lengthAdjust="spacingAndGlyphs">AOMB16</text>
<line x1="233.00" y1="52.40" x2="250.00" y2="52.40" stroke="#FF0000" stroke-width="1.6" stroke-dasharray="4.4 1.6"/>
<text x="251.60" y="54.40" font-size="6.05" fill="#2a2a2a" stroke="#2a2a2a" stroke-width="0.1" textLength="28" lengthAdjust="spacingAndGlyphs">GEOMEAN</text>
<path d="M268.0,152.4 L268.6,151.9 L269.2,151.4 L269.8,151.0 L270.4,150.5 L271.0,150.0 L271.6,149.6 L272.2,149.1 L272.8,148.6 L273.4,148.2 L274.0,147.7 L274.6,147.3 L275.2,146.9 L275.8,146.7 L276.4,146.5 L277.0,146.3 L277.6,146.1 L278.2,145.8 L278.8,145.6 L279.4,145.4 L280.0,145.2 L280.6,144.6 L281.2,144.0 L281.8,143.4 L282.4,142.8 L283.0,142.2 L283.6,141.6 L284.2,141.0 L284.8,140.5 L285.4,140.3 L286.0,140.1 L286.6,139.9 L287.2,139.8 L287.8,139.6 L288.4,139.6 L289.0,139.5 L289.6,139.5 L290.2,139.6 L290.8,139.8 L291.4,140.0 L292.0,140.4 L292.6,140.9 L293.2,141.4 L293.8,142.0 L294.4,142.5 L295.0,143.1 L295.6,143.6 L296.2,144.2 L296.8,144.7 L297.4,145.3 L298.0,145.8 L298.6,146.3 L299.2,146.8 L299.8,147.3 L300.4,147.7 L301.0,148.2 L301.6,148.6 L302.2,148.9 L302.8,149.3 L303.4,149.6 L304.0,149.8 L304.6,149.9 L305.2,150.0 L305.8,150.0 L306.4,150.0 L307.0,149.8 L307.6,149.7 L308.2,149.5 L308.8,149.2 L309.4,148.9 L310.0,148.6 L310.6,148.3 L311.2,147.8 L311.8,147.3 L312.4,146.7 L313.0,146.1 L313.6,145.4 L314.2,144.7 L314.8,144.2 L315.4,143.7 L316.0,143.2 L316.6,142.5 L317.2,141.6 L317.8,140.4 L318.4,140.1 L319.0,140.0 L319.6,139.8 L320.2,139.4 L320.8,138.5 L321.4,137.4 L322.0,135.9 L322.6,134.6 L323.2,133.6 L323.8,133.0 L324.4,133.0 L325.0,133.3 L325.6,134.8 L326.2,136.3 L326.8,137.3 L327.4,138.5 L328.0,139.7 L328.6,140.0 L329.2,140.4 L329.8,142.3 L330.4,143.4 L331.0,143.8 L331.6,146.3 L332.2,146.1 L332.8,147.4 L333.4,148.5 L334.0,147.6 L334.6,146.8 L335.2,149.9 L335.8,148.4 L336.4,150.4 L337.0,149.4 L337.6,149.8 L338.2,149.9 L338.8,149.2 L339.4,147.2 L340.0,149.2 L340.6,152.2 L341.2,148.3 L341.8,146.7 L342.4,144.4 L343.0,145.2 L343.6,147.2 L344.2,151.1 L344.8,147.1 L345.4,146.3 L346.0,143.9 L346.6,148.7 L347.2,140.3 L347.8,142.1 L348.4,140.6 L349.0,139.5 L349.6,138.4 L350.2,138.1 L350.8,138.3 L351.4,139.2 L352.0,140.9 L352.6,143.4 L353.2,144.0 L353.8,143.7 L354.4,142.3 L355.0,144.2 L355.6,141.3 L356.2,144.5 L356.8,144.5 L357.4,151.4 L358.0,150.2 L358.6,148.2 L359.2,149.8 L359.8,147.5 L360.4,151.2 L361.0,150.4 L361.6,150.8 L362.2,158.3 L362.8,151.6 L363.4,145.6 L364.0,143.8 L364.6,145.2 L365.2,143.0 L365.8,139.0 L366.4,142.4 L367.0,140.2 L367.6,147.9 L368.2,146.7 L368.8,146.5 L369.4,144.4 L370.0,152.5 L370.6,147.5 L371.2,151.5 L371.8,151.8 L372.4,140.2 L373.0,143.5 L373.6,151.6 L374.2,152.2 L374.8,161.1 L375.4,148.1 L376.0,154.5 L376.6,153.0 L377.2,149.9 L377.8,148.7 L378.4,161.6 L379.0,166.8 L379.6,163.7 L380.2,161.8 L380.8,157.9 L381.4,151.1 L382.0,155.3 L382.6,156.2 L383.2,161.4 L383.8,162.3 L384.4,161.6 L385.0,177.1 L385.6,159.3 L386.2,166.4 L386.8,149.2 L387.4,152.4 L388.0,158.6 L388.6,160.1 L389.2,151.6 L389.8,151.1 L390.4,149.9 L391.0,149.4 L391.6,150.4 L392.2,162.3 L392.8,165.4 L393.4,172.6 L394.0,165.7 L394.6,159.9 L395.2,162.9 L395.8,164.9 L396.4,172.1 L397.0,166.4 L397.6,167.1 L398.2,161.2 L398.8,172.4 L399.4,168.4 L400.0,165.9 L400.6,162.7 L401.2,164.8 L401.8,155.0 L402.4,160.8 L403.0,174.5 L403.6,168.9 L403.7,183.5" fill="none" stroke="#5B9BD5" stroke-width="1.15" stroke-linejoin="round"/>
<path d="M268.0,171.9 L268.6,171.8 L269.2,171.7 L269.8,171.6 L270.4,171.4 L271.0,171.3 L271.6,171.2 L272.2,171.1 L272.8,170.9 L273.4,170.8 L274.0,170.7 L274.6,170.5 L275.2,170.4 L275.8,170.2 L276.4,170.0 L277.0,169.8 L277.6,169.6 L278.2,169.4 L278.8,169.2 L279.4,169.0 L280.0,168.7 L280.6,168.5 L281.2,168.2 L281.8,168.0 L282.4,167.8 L283.0,167.5 L283.6,167.3 L284.2,167.1 L284.8,167.0 L285.4,166.8 L286.0,166.7 L286.6,166.6 L287.2,166.6 L287.8,166.6 L288.4,166.7 L289.0,166.8 L289.6,166.9 L290.2,167.2 L290.8,167.6 L291.4,168.1 L292.0,168.7 L292.6,169.4 L293.2,170.1 L293.8,170.9 L294.4,171.7 L295.0,172.6 L295.6,173.4 L296.2,174.3 L296.8,175.2 L297.4,176.2 L298.0,177.2 L298.6,178.2 L299.2,178.9 L299.8,179.6 L300.4,180.3 L301.0,181.0 L301.6,181.7 L302.2,182.1 L302.8,182.1 L303.4,181.9 L304.0,181.4 L304.6,180.6 L305.2,179.7 L305.8,178.8 L306.4,177.9 L307.0,177.0 L307.6,176.2 L308.2,175.5 L308.8,175.0 L309.4,174.8 L310.0,175.0 L310.6,175.7 L311.2,176.5 L311.8,177.5 L312.4,178.6 L313.0,179.7 L313.6,180.6 L314.2,181.2 L314.8,181.4 L315.4,181.3 L316.0,180.6 L316.6,179.4 L317.2,178.3 L317.8,177.3 L318.4,176.3 L319.0,175.4 L319.6,174.7 L320.2,174.0 L320.8,172.3 L321.4,170.9 L322.0,169.4 L322.6,168.6 L323.2,167.6 L323.8,167.5 L324.4,167.5 L325.0,167.8 L325.6,168.7 L326.2,170.0 L326.8,170.8 L327.4,171.8 L328.0,171.8 L328.6,172.8 L329.2,171.4 L329.8,171.9 L330.4,172.1 L331.0,171.7 L331.6,170.8 L332.2,171.2 L332.8,171.8 L333.4,171.4 L334.0,173.9 L334.6,174.4 L335.2,173.9 L335.8,171.1 L336.4,170.3 L337.0,169.4 L337.6,169.6 L338.2,170.0 L338.8,169.9 L339.4,170.3 L340.0,172.1 L340.6,176.2 L341.2,173.3 L341.8,176.8 L342.4,179.0 L343.0,175.7 L343.6,178.1 L344.2,177.8 L344.8,177.5 L345.4,177.8 L346.0,177.2 L346.6,174.0 L347.2,175.7 L347.8,172.5 L348.4,172.3 L349.0,168.8 L349.6,169.3 L350.2,170.0 L350.8,164.2 L351.4,164.0 L352.0,163.6 L352.6,169.3 L353.2,170.0 L353.8,171.1 L354.4,167.4 L355.0,162.9 L355.6,164.8 L356.2,166.4 L356.8,165.6 L357.4,169.5 L358.0,170.0 L358.6,170.2 L359.2,165.5 L359.8,167.8 L360.4,164.7 L361.0,168.6 L361.6,173.6 L362.2,173.7 L362.8,174.4 L363.4,169.7 L364.0,172.1 L364.6,176.1 L365.2,177.0 L365.8,175.2 L366.4,167.7 L367.0,164.5 L367.6,172.4 L368.2,170.1 L368.8,178.9 L369.4,182.7 L370.0,177.0 L370.6,175.8 L371.2,175.3 L371.8,182.2 L372.4,179.4 L373.0,184.1 L373.6,183.6 L374.2,182.6 L374.8,185.5 L375.4,185.0 L376.0,186.1 L376.6,185.0 L377.2,184.7 L377.8,184.1 L378.4,184.3 L379.0,177.9 L379.6,182.7 L380.2,170.5 L380.8,170.4 L381.4,163.1 L382.0,161.9 L382.6,162.8 L383.2,165.9 L383.8,168.8 L384.4,170.3 L385.0,160.2 L385.6,163.6 L386.2,175.9 L386.8,177.6 L387.4,182.6 L388.0,179.3 L388.6,178.0 L389.2,174.1 L389.8,182.8 L390.4,169.8 L391.0,175.5 L391.6,177.1 L392.2,167.5 L392.8,165.4 L393.4,168.2 L394.0,162.8 L394.6,166.5 L395.2,164.0 L395.8,158.4 L396.4,169.7 L397.0,171.5 L397.6,170.4 L398.2,170.3 L398.8,172.0 L399.4,174.1 L400.0,170.9 L400.6,167.7 L401.2,169.6 L401.8,173.8 L402.4,179.4 L403.0,176.3 L403.6,181.2 L403.7,182.6" fill="none" stroke="#ED7D31" stroke-width="1.15" stroke-linejoin="round"/>
<path d="M268.0,157.0 L268.6,157.0 L269.2,157.0 L269.8,157.0 L270.4,157.0 L271.0,157.0 L271.6,157.0 L272.2,157.0 L272.8,157.0 L273.4,156.9 L274.0,156.8 L274.6,156.8 L275.2,156.7 L275.8,156.6 L276.4,156.4 L277.0,156.3 L277.6,156.1 L278.2,155.9 L278.8,155.7 L279.4,155.4 L280.0,155.1 L280.6,154.7 L281.2,154.2 L281.8,153.8 L282.4,153.3 L283.0,152.8 L283.6,152.3 L284.2,151.7 L284.8,151.2 L285.4,150.6 L286.0,150.0 L286.6,149.4 L287.2,148.8 L287.8,148.1 L288.4,147.6 L289.0,147.0 L289.6,146.6 L290.2,146.3 L290.8,146.0 L291.4,146.0 L292.0,146.0 L292.6,146.1 L293.2,146.3 L293.8,146.5 L294.4,146.9 L295.0,147.3 L295.6,147.8 L296.2,148.3 L296.8,148.8 L297.4,149.4 L298.0,150.1 L298.6,150.8 L299.2,151.6 L299.8,152.4 L300.4,153.1 L301.0,153.8 L301.6,154.3 L302.2,154.7 L302.8,155.0 L303.4,155.0 L304.0,154.9 L304.6,154.7 L305.2,154.4 L305.8,154.0 L306.4,153.6 L307.0,153.1 L307.6,152.7 L308.2,152.2 L308.8,151.7 L309.4,151.3 L310.0,151.0 L310.6,151.0 L311.2,151.1 L311.8,151.2 L312.4,151.2 L313.0,151.2 L313.6,151.2 L314.2,151.4 L314.8,151.7 L315.4,152.1 L316.0,152.6 L316.6,152.8 L317.2,152.9 L317.8,152.7 L318.4,152.6 L319.0,152.7 L319.6,153.2 L320.2,153.7 L320.8,154.1 L321.4,154.6 L322.0,155.0 L322.6,155.4 L323.2,155.6 L323.8,155.2 L324.4,155.4 L325.0,156.4 L325.6,157.0 L326.2,158.5 L326.8,157.7 L327.4,156.4 L328.0,156.8 L328.6,157.4 L329.2,158.1 L329.8,158.2 L330.4,160.0 L331.0,159.1 L331.6,160.6 L332.2,161.3 L332.8,158.6 L333.4,162.0 L334.0,160.5 L334.6,160.2 L335.2,158.4 L335.8,156.0 L336.4,156.3 L337.0,158.1 L337.6,160.8 L338.2,161.4 L338.8,163.2 L339.4,168.8 L340.0,169.0 L340.6,165.2 L341.2,163.1 L341.8,161.4 L342.4,164.9 L343.0,163.4 L343.6,162.9 L344.2,161.9 L344.8,166.2 L345.4,160.5 L346.0,164.5 L346.6,162.4 L347.2,161.6 L347.8,166.4 L348.4,164.7 L349.0,158.1 L349.6,168.9 L350.2,167.9 L350.8,169.6 L351.4,161.3 L352.0,166.0 L352.6,169.3 L353.2,170.0 L353.8,163.8 L354.4,153.9 L355.0,163.6 L355.6,157.7 L356.2,162.9 L356.8,157.5 L357.4,163.5 L358.0,164.9 L358.6,163.4 L359.2,164.5 L359.8,164.6 L360.4,167.1 L361.0,159.9 L361.6,157.2 L362.2,159.3 L362.8,171.4 L363.4,171.7 L364.0,171.3 L364.6,163.8 L365.2,170.2 L365.8,169.9 L366.4,168.6 L367.0,172.6 L367.6,165.4 L368.2,166.8 L368.8,160.2 L369.4,163.0 L370.0,162.8 L370.6,165.8 L371.2,164.6 L371.8,170.8 L372.4,168.0 L373.0,162.9 L373.6,162.4 L374.2,167.4 L374.8,163.4 L375.4,168.9 L376.0,163.4 L376.6,168.4 L377.2,155.7 L377.8,158.4 L378.4,162.6 L379.0,168.1 L379.6,168.6 L380.2,163.2 L380.8,166.9 L381.4,175.1 L382.0,172.1 L382.6,163.5 L383.2,164.9 L383.8,165.9 L384.4,169.2 L385.0,167.3 L385.6,179.1 L386.2,178.8 L386.8,169.9 L387.4,180.0 L388.0,178.2 L388.6,179.9 L389.2,172.9 L389.8,170.0 L390.4,170.0 L391.0,170.0 L391.6,171.6 L392.2,167.8 L392.8,173.5 L393.4,167.4 L394.0,171.4 L394.6,175.4 L395.2,164.8 L395.8,172.7 L396.4,174.5 L397.0,163.2 L397.6,158.7 L398.2,161.4 L398.8,173.7 L399.4,163.1 L400.0,160.0 L400.6,159.9 L401.2,172.4 L401.8,167.2 L402.4,160.5 L403.0,166.6 L403.6,163.1 L403.7,170.6" fill="none" stroke="#A5A5A5" stroke-width="1.15" stroke-linejoin="round"/>
<path d="M268.0,163.0 L268.6,163.0 L269.2,163.0 L269.8,163.0 L270.4,162.9 L271.0,162.9 L271.6,162.9 L272.2,162.8 L272.8,162.7 L273.4,162.7 L274.0,162.6 L274.6,162.5 L275.2,162.4 L275.8,162.3 L276.4,162.1 L277.0,162.0 L277.6,161.8 L278.2,161.6 L278.8,161.4 L279.4,161.2 L280.0,161.0 L280.6,160.7 L281.2,160.4 L281.8,160.1 L282.4,159.8 L283.0,159.5 L283.6,159.2 L284.2,158.9 L284.8,158.7 L285.4,158.6 L286.0,158.5 L286.6,158.5 L287.2,158.6 L287.8,158.7 L288.4,158.9 L289.0,159.1 L289.6,159.2 L290.2,159.4 L290.8,159.5 L291.4,159.6 L292.0,159.8 L292.6,159.9 L293.2,160.1 L293.8,160.3 L294.4,160.6 L295.0,160.9 L295.6,161.3 L296.2,161.8 L296.8,162.3 L297.4,162.8 L298.0,163.4 L298.6,164.0 L299.2,164.7 L299.8,165.3 L300.4,165.9 L301.0,166.6 L301.6,167.3 L302.2,168.0 L302.8,168.7 L303.4,169.4 L304.0,170.0 L304.6,170.6 L305.2,171.2 L305.8,171.7 L306.4,172.0 L307.0,172.1 L307.6,171.8 L308.2,170.9 L308.8,169.7 L309.4,168.4 L310.0,166.9 L310.6,165.5 L311.2,164.1 L311.8,162.7 L312.4,161.3 L313.0,160.1 L313.6,159.1 L314.2,158.4 L314.8,157.7 L315.4,157.1 L316.0,156.7 L316.6,156.5 L317.2,156.3 L317.8,155.8 L318.4,155.0 L319.0,154.4 L319.6,153.9 L320.2,153.4 L320.8,152.8 L321.4,152.5 L322.0,152.1 L322.6,152.0 L323.2,151.8 L323.8,151.9 L324.4,151.3 L325.0,150.7 L325.6,153.5 L326.2,152.8 L326.8,153.1 L327.4,150.9 L328.0,151.0 L328.6,150.4 L329.2,149.6 L329.8,149.2 L330.4,148.4 L331.0,145.7 L331.6,145.7 L332.2,145.6 L332.8,144.9 L333.4,148.3 L334.0,149.9 L334.6,149.9 L335.2,145.5 L335.8,146.6 L336.4,144.9 L337.0,146.3 L337.6,145.8 L338.2,144.4 L338.8,146.4 L339.4,147.8 L340.0,148.0 L340.6,148.4 L341.2,148.9 L341.8,150.2 L342.4,147.9 L343.0,147.7 L343.6,146.3 L344.2,145.1 L344.8,147.1 L345.4,144.8 L346.0,145.6 L346.6,149.1 L347.2,145.8 L347.8,144.6 L348.4,147.7 L349.0,149.7 L349.6,151.7 L350.2,153.4 L350.8,154.2 L351.4,154.2 L352.0,151.7 L352.6,145.2 L353.2,142.2 L353.8,151.8 L354.4,153.6 L355.0,158.6 L355.6,156.8 L356.2,155.8 L356.8,154.8 L357.4,154.0 L358.0,151.4 L358.6,149.0 L359.2,151.6 L359.8,151.4 L360.4,154.7 L361.0,153.7 L361.6,150.4 L362.2,147.1 L362.8,148.3 L363.4,145.1 L364.0,143.4 L364.6,152.5 L365.2,146.3 L365.8,146.6 L366.4,150.2 L367.0,149.3 L367.6,153.7 L368.2,155.3 L368.8,154.0 L369.4,158.3 L370.0,155.5 L370.6,157.5 L371.2,171.1 L371.8,172.7 L372.4,152.9 L373.0,149.3 L373.6,152.9 L374.2,143.4 L374.8,155.1 L375.4,153.3 L376.0,149.5 L376.6,144.5 L377.2,144.6 L377.8,144.1 L378.4,149.8 L379.0,161.6 L379.6,153.9 L380.2,154.6 L380.8,160.9 L381.4,159.1 L382.0,162.3 L382.6,150.1 L383.2,147.4 L383.8,144.6 L384.4,149.2 L385.0,155.2 L385.6,161.7 L386.2,170.0 L386.8,164.5 L387.4,177.3 L388.0,170.7 L388.6,160.7 L389.2,157.0 L389.8,165.3 L390.4,153.6 L391.0,160.6 L391.6,162.8 L392.2,150.2 L392.8,152.9 L393.4,159.6 L394.0,172.3 L394.6,165.0 L395.2,166.5 L395.8,149.3 L396.4,152.4 L397.0,159.6 L397.6,157.0 L398.2,167.6 L398.8,167.7 L399.4,159.4 L400.0,146.1 L400.6,164.0 L401.2,159.3 L401.8,171.8 L402.4,169.4 L403.0,168.0 L403.6,160.8 L403.7,163.5" fill="none" stroke="#FFC000" stroke-width="1.15" stroke-linejoin="round"/>
<path d="M268.0,160.2 L268.6,160.2 L269.2,160.3 L269.8,160.3 L270.4,160.3 L271.0,160.4 L271.6,160.4 L272.2,160.4 L272.8,160.4 L273.4,160.4 L274.0,160.4 L274.6,160.4 L275.2,160.3 L275.8,160.3 L276.4,160.2 L277.0,160.1 L277.6,160.1 L278.2,159.9 L278.8,159.8 L279.4,159.7 L280.0,159.5 L280.6,159.3 L281.2,159.0 L281.8,158.7 L282.4,158.4 L283.0,158.0 L283.6,157.6 L284.2,157.2 L284.8,156.9 L285.4,156.5 L286.0,156.0 L286.6,155.7 L287.2,155.3 L287.8,154.9 L288.4,154.6 L289.0,154.2 L289.6,154.0 L290.2,153.7 L290.8,153.4 L291.4,153.2 L292.0,153.1 L292.6,153.0 L293.2,153.0 L293.8,153.2 L294.4,153.5 L295.0,153.9 L295.6,154.4 L296.2,154.9 L296.8,155.6 L297.4,156.3 L298.0,157.0 L298.6,157.8 L299.2,158.7 L299.8,159.6 L300.4,160.5 L301.0,161.4 L301.6,162.1 L302.2,162.6 L302.8,163.0 L303.4,163.0 L304.0,162.8 L304.6,162.4 L305.2,161.9 L305.8,161.2 L306.4,160.5 L307.0,159.8 L307.6,159.0 L308.2,158.3 L308.8,157.7 L309.4,157.3 L310.0,157.0 L310.6,156.8 L311.2,156.7 L311.8,156.6 L312.4,156.8 L313.0,157.2 L313.6,157.5 L314.2,158.0 L314.8,158.4 L315.4,158.8 L316.0,158.9 L316.6,159.2 L317.2,159.6 L317.8,159.9 L318.4,160.2 L319.0,160.6 L319.6,161.1 L320.2,161.5 L320.8,161.5 L321.4,162.1 L322.0,161.9 L322.6,161.4 L323.2,160.8 L323.8,159.6 L324.4,159.7 L325.0,159.3 L325.6,159.3 L326.2,158.8 L326.8,158.6 L327.4,157.5 L328.0,157.9 L328.6,159.8 L329.2,160.4 L329.8,160.2 L330.4,159.4 L331.0,156.7 L331.6,154.3 L332.2,153.6 L332.8,155.4 L333.4,158.4 L334.0,157.2 L334.6,157.8 L335.2,155.8 L335.8,155.3 L336.4,152.6 L337.0,153.6 L337.6,149.5 L338.2,148.6 L338.8,148.1 L339.4,149.7 L340.0,150.0 L340.6,150.0 L341.2,149.7 L341.8,150.5 L342.4,148.9 L343.0,154.6 L343.6,151.8 L344.2,154.9 L344.8,155.8 L345.4,153.6 L346.0,155.3 L346.6,154.7 L347.2,154.5 L347.8,158.0 L348.4,155.5 L349.0,154.7 L349.6,155.0 L350.2,155.1 L350.8,155.6 L351.4,157.8 L352.0,158.7 L352.6,160.9 L353.2,158.2 L353.8,158.7 L354.4,151.8 L355.0,150.3 L355.6,151.1 L356.2,151.8 L356.8,155.8 L357.4,155.6 L358.0,150.8 L358.6,153.0 L359.2,152.3 L359.8,150.1 L360.4,150.3 L361.0,149.7 L361.6,149.8 L362.2,144.2 L362.8,151.1 L363.4,155.8 L364.0,156.8 L364.6,155.6 L365.2,163.3 L365.8,149.1 L366.4,153.1 L367.0,150.7 L367.6,154.0 L368.2,148.7 L368.8,159.8 L369.4,153.9 L370.0,153.0 L370.6,141.6 L371.2,140.4 L371.8,151.0 L372.4,146.4 L373.0,152.7 L373.6,148.1 L374.2,161.0 L374.8,152.7 L375.4,156.2 L376.0,154.7 L376.6,156.9 L377.2,160.9 L377.8,154.4 L378.4,165.1 L379.0,161.4 L379.6,170.5 L380.2,175.3 L380.8,160.2 L381.4,165.3 L382.0,165.4 L382.6,155.7 L383.2,149.3 L383.8,167.9 L384.4,158.6 L385.0,165.6 L385.6,164.5 L386.2,155.6 L386.8,183.4 L387.4,177.1 L388.0,178.3 L388.6,167.1 L389.2,169.5 L389.8,165.5 L390.4,173.9 L391.0,167.5 L391.6,166.4 L392.2,167.1 L392.8,167.5 L393.4,157.2 L394.0,178.7 L394.6,161.2 L395.2,156.7 L395.8,152.0 L396.4,151.5 L397.0,162.7 L397.6,153.3 L398.2,160.2 L398.8,178.5 L399.4,175.3 L400.0,166.4 L400.6,167.9 L401.2,170.1 L401.8,169.7 L402.4,168.0 L403.0,180.2 L403.6,170.7 L403.7,161.7" fill="none" stroke="#4472C4" stroke-width="1.15" stroke-linejoin="round"/>
<path d="M268.0,160.0 L268.6,159.7 L269.2,159.5 L269.8,159.2 L270.4,158.9 L271.0,158.7 L271.6,158.4 L272.2,158.1 L272.8,157.9 L273.4,157.6 L274.0,157.4 L274.6,157.2 L275.2,156.9 L275.8,156.7 L276.4,156.5 L277.0,156.3 L277.6,156.1 L278.2,155.9 L278.8,155.8 L279.4,155.6 L280.0,155.5 L280.6,155.3 L281.2,155.1 L281.8,154.9 L282.4,154.7 L283.0,154.4 L283.6,154.0 L284.2,153.6 L284.8,153.1 L285.4,152.5 L286.0,151.8 L286.6,150.9 L287.2,149.9 L287.8,148.8 L288.4,147.8 L289.0,146.9 L289.6,146.2 L290.2,145.6 L290.8,145.2 L291.4,144.8 L292.0,144.5 L292.6,144.3 L293.2,144.3 L293.8,144.3 L294.4,144.6 L295.0,144.9 L295.6,145.4 L296.2,145.9 L296.8,146.4 L297.4,147.0 L298.0,147.6 L298.6,148.2 L299.2,148.8 L299.8,149.4 L300.4,150.0 L301.0,150.5 L301.6,150.9 L302.2,151.2 L302.8,151.4 L303.4,151.4 L304.0,151.3 L304.6,151.1 L305.2,150.8 L305.8,150.4 L306.4,150.0 L307.0,149.5 L307.6,149.1 L308.2,148.6 L308.8,148.2 L309.4,147.9 L310.0,147.6 L310.6,147.5 L311.2,147.4 L311.8,147.3 L312.4,147.3 L313.0,147.3 L313.6,147.4 L314.2,147.6 L314.8,147.7 L315.4,147.8 L316.0,147.7 L316.6,147.8 L317.2,148.0 L317.8,148.3 L318.4,148.4 L319.0,148.5 L319.6,148.8 L320.2,149.6 L320.8,150.8 L321.4,152.6 L322.0,153.6 L322.6,154.1 L323.2,154.1 L323.8,153.9 L324.4,154.0 L325.0,155.6 L325.6,156.1 L326.2,154.8 L326.8,156.7 L327.4,155.7 L328.0,155.0 L328.6,154.9 L329.2,155.7 L329.8,155.4 L330.4,155.5 L331.0,157.1 L331.6,156.2 L332.2,155.6 L332.8,157.5 L333.4,157.6 L334.0,158.3 L334.6,158.6 L335.2,161.1 L335.8,155.7 L336.4,154.5 L337.0,155.1 L337.6,157.6 L338.2,155.6 L338.8,153.2 L339.4,151.8 L340.0,152.8 L340.6,155.0 L341.2,157.5 L341.8,154.0 L342.4,157.1 L343.0,162.3 L343.6,161.6 L344.2,160.1 L344.8,156.4 L345.4,165.7 L346.0,162.5 L346.6,161.5 L347.2,160.8 L347.8,158.9 L348.4,165.7 L349.0,157.6 L349.6,161.4 L350.2,166.4 L350.8,156.7 L351.4,164.0 L352.0,163.3 L352.6,164.7 L353.2,163.1 L353.8,161.5 L354.4,162.9 L355.0,158.4 L355.6,160.3 L356.2,163.3 L356.8,156.1 L357.4,158.1 L358.0,153.5 L358.6,156.6 L359.2,160.4 L359.8,157.5 L360.4,165.7 L361.0,161.8 L361.6,156.7 L362.2,156.1 L362.8,167.7 L363.4,167.0 L364.0,165.1 L364.6,169.5 L365.2,168.9 L365.8,166.7 L366.4,170.2 L367.0,160.3 L367.6,156.6 L368.2,146.7 L368.8,161.9 L369.4,162.0 L370.0,164.1 L370.6,162.5 L371.2,167.7 L371.8,157.3 L372.4,160.7 L373.0,170.4 L373.6,166.5 L374.2,170.4 L374.8,168.6 L375.4,155.0 L376.0,144.0 L376.6,164.5 L377.2,159.4 L377.8,159.4 L378.4,167.8 L379.0,157.2 L379.6,154.6 L380.2,162.3 L380.8,159.3 L381.4,162.7 L382.0,160.5 L382.6,157.0 L383.2,160.5 L383.8,175.4 L384.4,166.6 L385.0,173.7 L385.6,159.5 L386.2,160.5 L386.8,163.3 L387.4,154.4 L388.0,151.3 L388.6,166.9 L389.2,160.0 L389.8,159.2 L390.4,165.7 L391.0,168.2 L391.6,178.0 L392.2,167.6 L392.8,176.3 L393.4,167.7 L394.0,170.3 L394.6,170.9 L395.2,175.1 L395.8,163.0 L396.4,166.0 L397.0,158.1 L397.6,165.4 L398.2,158.3 L398.8,173.4 L399.4,161.1 L400.0,161.2 L400.6,175.9 L401.2,167.4 L401.8,174.9 L402.4,170.8 L403.0,157.6 L403.6,165.1 L403.7,164.5" fill="none" stroke="#70AD47" stroke-width="1.15" stroke-linejoin="round"/>
<path d="M268.0,164.5 L268.6,164.5 L269.2,164.5 L269.8,164.5 L270.4,164.5 L271.0,164.4 L271.6,164.4 L272.2,164.4 L272.8,164.3 L273.4,164.3 L274.0,164.2 L274.6,164.2 L275.2,164.1 L275.8,164.0 L276.4,164.0 L277.0,163.9 L277.6,163.8 L278.2,163.7 L278.8,163.5 L279.4,163.4 L280.0,163.2 L280.6,163.0 L281.2,162.8 L281.8,162.6 L282.4,162.3 L283.0,162.0 L283.6,161.6 L284.2,161.3 L284.8,160.9 L285.4,160.4 L286.0,160.0 L286.6,159.5 L287.2,158.9 L287.8,158.3 L288.4,157.8 L289.0,157.2 L289.6,156.7 L290.2,156.3 L290.8,156.1 L291.4,155.9 L292.0,155.9 L292.6,156.0 L293.2,156.2 L293.8,156.5 L294.4,156.8 L295.0,157.2 L295.6,157.7 L296.2,158.2 L296.8,158.8 L297.4,159.4 L298.0,160.2 L298.6,161.0 L299.2,161.9 L299.8,162.7 L300.4,163.5 L301.0,164.2 L301.6,164.8 L302.2,165.3 L302.8,165.5 L303.4,165.5 L304.0,165.2 L304.6,164.8 L305.2,164.2 L305.8,163.5 L306.4,162.8 L307.0,162.1 L307.6,161.4 L308.2,160.7 L308.8,160.0 L309.4,159.4 L310.0,159.0 L310.6,158.9 L311.2,159.0 L311.8,159.4 L312.4,159.7 L313.0,160.0 L313.6,160.2 L314.2,160.2 L314.8,160.2 L315.4,160.2 L316.0,160.2 L316.6,160.3 L317.2,160.7 L317.8,161.2 L318.4,161.5 L319.0,161.4 L319.6,161.2 L320.2,161.0 L320.8,161.4 L321.4,161.9 L322.0,162.7 L322.6,162.4 L323.2,160.6 L323.8,161.7 L324.4,162.0 L325.0,163.3 L325.6,163.4 L326.2,165.5 L326.8,163.4 L327.4,163.2 L328.0,162.1 L328.6,162.7 L329.2,161.5 L329.8,162.4 L330.4,162.8 L331.0,164.0 L331.6,164.0 L332.2,164.8 L332.8,164.7 L333.4,165.7 L334.0,165.6 L334.6,167.8 L335.2,165.7 L335.8,164.8 L336.4,163.8 L337.0,166.7 L337.6,163.1 L338.2,162.6 L338.8,162.7 L339.4,161.2 L340.0,164.0 L340.6,166.0 L341.2,162.5 L341.8,168.0 L342.4,162.1 L343.0,164.5 L343.6,162.4 L344.2,164.5 L344.8,158.9 L345.4,164.0 L346.0,161.0 L346.6,166.3 L347.2,162.0 L347.8,163.0 L348.4,159.1 L349.0,161.4 L349.6,169.0 L350.2,164.6 L350.8,160.4 L351.4,163.3 L352.0,164.8 L352.6,170.8 L353.2,176.0 L353.8,169.4 L354.4,172.7 L355.0,167.4 L355.6,172.5 L356.2,170.6 L356.8,164.7 L357.4,169.5 L358.0,171.2 L358.6,177.2 L359.2,176.7 L359.8,172.8 L360.4,163.4 L361.0,164.5 L361.6,172.1 L362.2,166.8 L362.8,164.1 L363.4,167.9 L364.0,163.6 L364.6,166.2 L365.2,166.0 L365.8,165.1 L366.4,163.5 L367.0,165.4 L367.6,162.4 L368.2,165.6 L368.8,157.1 L369.4,151.7 L370.0,169.9 L370.6,168.5 L371.2,169.0 L371.8,170.2 L372.4,166.5 L373.0,173.2 L373.6,166.1 L374.2,164.8 L374.8,166.8 L375.4,156.7 L376.0,158.3 L376.6,148.1 L377.2,154.4 L377.8,156.8 L378.4,152.8 L379.0,160.0 L379.6,169.7 L380.2,176.3 L380.8,172.9 L381.4,168.2 L382.0,171.7 L382.6,169.9 L383.2,161.6 L383.8,173.9 L384.4,162.4 L385.0,170.4 L385.6,161.5 L386.2,160.5 L386.8,164.4 L387.4,166.8 L388.0,160.5 L388.6,158.6 L389.2,155.8 L389.8,150.2 L390.4,162.6 L391.0,154.9 L391.6,168.7 L392.2,157.8 L392.8,163.8 L393.4,153.6 L394.0,149.4 L394.6,151.3 L395.2,147.3 L395.8,150.7 L396.4,166.3 L397.0,155.5 L397.6,154.7 L398.2,144.9 L398.8,142.7 L399.4,145.6 L400.0,145.0 L400.6,146.1 L401.2,146.5 L401.8,149.7 L402.4,150.0 L403.0,149.3 L403.6,156.3 L403.7,152.3" fill="none" stroke="#255E91" stroke-width="1.15" stroke-linejoin="round"/>
<path d="M268.0,164.0 L268.6,163.6 L269.2,163.3 L269.8,162.9 L270.4,162.6 L271.0,162.2 L271.6,161.9 L272.2,161.5 L272.8,161.2 L273.4,160.8 L274.0,160.5 L274.6,160.1 L275.2,159.8 L275.8,159.4 L276.4,159.1 L277.0,158.7 L277.6,158.4 L278.2,158.0 L278.8,157.7 L279.4,157.3 L280.0,157.0 L280.6,156.7 L281.2,156.3 L281.8,156.0 L282.4,155.6 L283.0,155.3 L283.6,154.9 L284.2,154.6 L284.8,154.2 L285.4,153.8 L286.0,153.4 L286.6,153.0 L287.2,152.6 L287.8,152.2 L288.4,151.7 L289.0,151.2 L289.6,150.8 L290.2,150.4 L290.8,150.1 L291.4,149.9 L292.0,149.9 L292.6,150.0 L293.2,150.2 L293.8,150.5 L294.4,150.9 L295.0,151.3 L295.6,151.7 L296.2,152.1 L296.8,152.5 L297.4,152.8 L298.0,153.2 L298.6,153.6 L299.2,154.1 L299.8,154.5 L300.4,155.1 L301.0,155.7 L301.6,156.5 L302.2,157.3 L302.8,158.2 L303.4,158.9 L304.0,159.5 L304.6,159.9 L305.2,160.0 L305.8,159.7 L306.4,159.3 L307.0,158.6 L307.6,157.8 L308.2,157.0 L308.8,156.2 L309.4,155.4 L310.0,155.0 L310.6,154.9 L311.2,154.9 L311.8,155.0 L312.4,155.3 L313.0,155.9 L313.6,156.6 L314.2,157.3 L314.8,158.0 L315.4,158.8 L316.0,159.8 L316.6,161.0 L317.2,162.1 L317.8,163.1 L318.4,164.0 L319.0,164.7 L319.6,165.3 L320.2,165.9 L320.8,166.6 L321.4,167.1 L322.0,168.4 L322.6,168.6 L323.2,168.1 L323.8,168.3 L324.4,169.4 L325.0,169.8 L325.6,170.2 L326.2,169.9 L326.8,170.1 L327.4,170.1 L328.0,170.0 L328.6,169.9 L329.2,169.8 L329.8,170.1 L330.4,171.3 L331.0,171.9 L331.6,173.5 L332.2,172.4 L332.8,171.5 L333.4,172.3 L334.0,170.6 L334.6,169.0 L335.2,171.6 L335.8,167.8 L336.4,165.8 L337.0,167.2 L337.6,165.1 L338.2,165.1 L338.8,162.2 L339.4,166.3 L340.0,162.9 L340.6,166.1 L341.2,162.7 L341.8,164.8 L342.4,162.6 L343.0,162.6 L343.6,163.2 L344.2,161.0 L344.8,160.9 L345.4,160.6 L346.0,158.2 L346.6,156.6 L347.2,158.7 L347.8,158.5 L348.4,160.0 L349.0,157.5 L349.6,160.5 L350.2,161.5 L350.8,164.1 L351.4,163.8 L352.0,157.4 L352.6,157.3 L353.2,161.7 L353.8,160.1 L354.4,160.0 L355.0,160.0 L355.6,160.4 L356.2,160.0 L356.8,165.8 L357.4,165.0 L358.0,157.4 L358.6,162.0 L359.2,152.2 L359.8,164.4 L360.4,153.1 L361.0,163.3 L361.6,169.1 L362.2,158.3 L362.8,166.8 L363.4,164.8 L364.0,172.5 L364.6,173.7 L365.2,168.9 L365.8,166.1 L366.4,159.9 L367.0,170.7 L367.6,165.6 L368.2,164.5 L368.8,166.8 L369.4,165.4 L370.0,165.0 L370.6,165.5 L371.2,163.8 L371.8,167.6 L372.4,168.3 L373.0,162.5 L373.6,160.9 L374.2,152.7 L374.8,162.2 L375.4,160.2 L376.0,164.4 L376.6,164.0 L377.2,164.5 L377.8,155.5 L378.4,154.6 L379.0,171.7 L379.6,169.4 L380.2,157.1 L380.8,163.7 L381.4,148.1 L382.0,147.6 L382.6,147.0 L383.2,154.0 L383.8,158.0 L384.4,155.6 L385.0,170.0 L385.6,172.1 L386.2,165.9 L386.8,166.0 L387.4,157.7 L388.0,162.8 L388.6,158.9 L389.2,160.3 L389.8,157.5 L390.4,160.9 L391.0,156.5 L391.6,148.9 L392.2,155.1 L392.8,156.6 L393.4,161.8 L394.0,154.2 L394.6,153.0 L395.2,156.2 L395.8,149.6 L396.4,147.5 L397.0,151.9 L397.6,148.3 L398.2,148.4 L398.8,148.0 L399.4,148.5 L400.0,153.0 L400.6,153.2 L401.2,148.2 L401.8,153.1 L402.4,154.3 L403.0,152.8 L403.6,160.0 L403.7,150.2" fill="none" stroke="#9E480E" stroke-width="1.15" stroke-linejoin="round"/>
<path d="M268.0,156.0 L268.6,156.0 L269.2,155.9 L269.8,155.8 L270.4,155.7 L271.0,155.7 L271.6,155.6 L272.2,155.4 L272.8,155.3 L273.4,155.2 L274.0,155.0 L274.6,154.9 L275.2,154.7 L275.8,154.5 L276.4,154.3 L277.0,154.1 L277.6,153.9 L278.2,153.6 L278.8,153.3 L279.4,153.0 L280.0,152.7 L280.6,152.3 L281.2,151.9 L281.8,151.5 L282.4,151.1 L283.0,150.6 L283.6,150.1 L284.2,149.6 L284.8,149.0 L285.4,148.4 L286.0,147.8 L286.6,147.1 L287.2,146.4 L287.8,145.6 L288.4,144.8 L289.0,143.9 L289.6,143.0 L290.2,142.1 L290.8,141.0 L291.4,140.0 L292.0,139.0 L292.6,138.2 L293.2,137.5 L293.8,137.0 L294.4,136.6 L295.0,136.3 L295.6,136.1 L296.2,136.0 L296.8,136.0 L297.4,136.1 L298.0,136.2 L298.6,136.4 L299.2,136.7 L299.8,136.9 L300.4,137.3 L301.0,137.6 L301.6,137.9 L302.2,138.3 L302.8,138.6 L303.4,138.9 L304.0,139.2 L304.6,139.5 L305.2,139.7 L305.8,139.8 L306.4,139.8 L307.0,139.7 L307.6,139.3 L308.2,138.7 L308.8,138.1 L309.4,137.4 L310.0,137.0 L310.6,136.9 L311.2,136.9 L311.8,137.3 L312.4,137.8 L313.0,138.5 L313.6,139.3 L314.2,140.5 L314.8,141.8 L315.4,142.7 L316.0,143.1 L316.6,143.3 L317.2,143.6 L317.8,144.3 L318.4,145.4 L319.0,146.6 L319.6,147.6 L320.2,149.0 L320.8,149.8 L321.4,150.7 L322.0,151.6 L322.6,151.7 L323.2,151.9 L323.8,152.5 L324.4,152.5 L325.0,151.2 L325.6,152.4 L326.2,151.4 L326.8,152.6 L327.4,154.9 L328.0,154.9 L328.6,153.8 L329.2,153.1 L329.8,151.6 L330.4,150.8 L331.0,153.2 L331.6,154.0 L332.2,155.6 L332.8,155.9 L333.4,155.4 L334.0,157.9 L334.6,161.0 L335.2,161.4 L335.8,161.2 L336.4,157.5 L337.0,158.2 L337.6,156.2 L338.2,158.1 L338.8,158.5 L339.4,159.2 L340.0,160.5 L340.6,165.4 L341.2,163.0 L341.8,165.5 L342.4,163.6 L343.0,159.7 L343.6,165.3 L344.2,159.9 L344.8,162.9 L345.4,163.1 L346.0,167.5 L346.6,162.2 L347.2,160.8 L347.8,165.6 L348.4,166.8 L349.0,164.9 L349.6,170.0 L350.2,171.2 L350.8,166.6 L351.4,162.3 L352.0,166.0 L352.6,166.3 L353.2,160.9 L353.8,171.6 L354.4,169.0 L355.0,162.9 L355.6,164.3 L356.2,166.0 L356.8,165.4 L357.4,165.5 L358.0,163.7 L358.6,162.8 L359.2,167.8 L359.8,159.1 L360.4,163.5 L361.0,158.6 L361.6,164.6 L362.2,164.6 L362.8,173.9 L363.4,162.3 L364.0,158.3 L364.6,162.2 L365.2,169.7 L365.8,177.5 L366.4,167.2 L367.0,169.2 L367.6,162.5 L368.2,164.1 L368.8,164.3 L369.4,165.8 L370.0,169.9 L370.6,162.8 L371.2,165.8 L371.8,160.7 L372.4,163.0 L373.0,164.4 L373.6,153.7 L374.2,167.6 L374.8,157.2 L375.4,164.4 L376.0,159.4 L376.6,167.3 L377.2,160.6 L377.8,160.8 L378.4,171.4 L379.0,173.3 L379.6,171.2 L380.2,166.2 L380.8,169.9 L381.4,160.2 L382.0,158.0 L382.6,167.4 L383.2,157.6 L383.8,147.4 L384.4,147.6 L385.0,158.1 L385.6,159.8 L386.2,163.1 L386.8,167.4 L387.4,173.6 L388.0,167.4 L388.6,179.1 L389.2,167.9 L389.8,175.2 L390.4,174.0 L391.0,185.1 L391.6,183.9 L392.2,183.9 L392.8,184.3 L393.4,183.0 L394.0,182.5 L394.6,184.4 L395.2,184.7 L395.8,174.5 L396.4,178.6 L397.0,179.4 L397.6,175.6 L398.2,174.8 L398.8,176.3 L399.4,173.0 L400.0,174.2 L400.6,166.5 L401.2,181.7 L401.8,180.4 L402.4,179.0 L403.0,182.9 L403.6,182.9 L403.7,183.2" fill="none" stroke="#636363" stroke-width="1.15" stroke-linejoin="round"/>
<path d="M268.0,158.5 L268.6,158.5 L269.2,158.5 L269.8,158.5 L270.4,158.5 L271.0,158.5 L271.6,158.5 L272.2,158.4 L272.8,158.4 L273.4,158.3 L274.0,158.3 L274.6,158.2 L275.2,158.1 L275.8,158.0 L276.4,157.9 L277.0,157.8 L277.6,157.6 L278.2,157.4 L278.8,157.2 L279.4,157.0 L280.0,156.7 L280.6,156.3 L281.2,156.0 L281.8,155.5 L282.4,155.1 L283.0,154.7 L283.6,154.2 L284.2,153.7 L284.8,153.2 L285.4,152.6 L286.0,152.1 L286.6,151.4 L287.2,150.8 L287.8,150.2 L288.4,149.6 L289.0,149.1 L289.6,148.6 L290.2,148.3 L290.8,148.0 L291.4,147.9 L292.0,147.9 L292.6,148.0 L293.2,148.2 L293.8,148.5 L294.4,148.8 L295.0,149.2 L295.6,149.7 L296.2,150.2 L296.8,150.8 L297.4,151.4 L298.0,152.2 L298.6,153.1 L299.2,154.0 L299.8,154.9 L300.4,155.7 L301.0,156.5 L301.6,157.2 L302.2,157.7 L302.8,158.0 L303.4,158.0 L304.0,157.9 L304.6,157.6 L305.2,157.1 L305.8,156.6 L306.4,156.1 L307.0,155.5 L307.6,154.9 L308.2,154.3 L308.8,153.7 L309.4,153.3 L310.0,153.0 L310.6,152.9 L311.2,153.0 L311.8,153.3 L312.4,153.6 L313.0,153.9 L313.6,154.1 L314.2,154.3 L314.8,154.5 L315.4,154.7 L316.0,155.0 L316.6,155.3 L317.2,155.5 L317.8,155.9 L318.4,156.7 L319.0,157.8 L319.6,158.4 L320.2,158.1 L320.8,157.7 L321.4,158.6 L322.0,160.3 L322.6,161.3 L323.2,161.8 L323.8,161.7 L324.4,161.9 L325.0,163.5 L325.6,164.7 L326.2,163.2 L326.8,163.9 L327.4,164.3 L328.0,162.4 L328.6,160.9 L329.2,161.0 L329.8,161.6 L330.4,161.6 L331.0,162.7 L331.6,162.5 L332.2,160.7 L332.8,161.0 L333.4,158.9 L334.0,159.9 L334.6,164.3 L335.2,161.5 L335.8,162.0 L336.4,161.9 L337.0,165.2 L337.6,162.9 L338.2,163.0 L338.8,162.1 L339.4,163.7 L340.0,161.9 L340.6,163.1 L341.2,165.4 L341.8,165.0 L342.4,162.6 L343.0,162.3 L343.6,158.0 L344.2,163.2 L344.8,163.6 L345.4,158.6 L346.0,161.1 L346.6,161.7 L347.2,165.0 L347.8,162.6 L348.4,167.2 L349.0,163.6 L349.6,165.8 L350.2,164.7 L350.8,166.3 L351.4,162.3 L352.0,160.6 L352.6,161.3 L353.2,157.0 L353.8,164.7 L354.4,160.4 L355.0,165.2 L355.6,168.2 L356.2,163.8 L356.8,163.5 L357.4,161.9 L358.0,165.9 L358.6,163.3 L359.2,170.5 L359.8,152.3 L360.4,163.2 L361.0,157.6 L361.6,158.5 L362.2,162.9 L362.8,162.8 L363.4,162.8 L364.0,163.9 L364.6,164.6 L365.2,164.9 L365.8,165.5 L366.4,166.5 L367.0,162.8 L367.6,171.1 L368.2,170.4 L368.8,176.6 L369.4,171.7 L370.0,168.7 L370.6,166.7 L371.2,176.9 L371.8,155.8 L372.4,163.1 L373.0,164.7 L373.6,162.3 L374.2,167.6 L374.8,152.4 L375.4,164.1 L376.0,166.6 L376.6,153.4 L377.2,176.8 L377.8,172.0 L378.4,167.2 L379.0,162.0 L379.6,163.5 L380.2,163.8 L380.8,163.3 L381.4,157.7 L382.0,163.5 L382.6,168.6 L383.2,166.5 L383.8,164.4 L384.4,154.5 L385.0,160.7 L385.6,171.0 L386.2,162.4 L386.8,161.0 L387.4,163.6 L388.0,160.8 L388.6,173.9 L389.2,171.0 L389.8,154.7 L390.4,158.5 L391.0,163.1 L391.6,179.5 L392.2,165.1 L392.8,167.3 L393.4,172.8 L394.0,164.3 L394.6,170.8 L395.2,155.7 L395.8,157.5 L396.4,160.2 L397.0,160.1 L397.6,157.6 L398.2,157.8 L398.8,170.1 L399.4,158.4 L400.0,173.9 L400.6,170.0 L401.2,166.0 L401.8,164.0 L402.4,168.1 L403.0,169.0 L403.6,173.7 L403.7,160.5" fill="none" stroke="#997300" stroke-width="1.15" stroke-linejoin="round"/>
<path d="M268.0,166.0 L268.6,166.0 L269.2,166.0 L269.8,165.9 L270.4,165.9 L271.0,165.9 L271.6,165.8 L272.2,165.8 L272.8,165.8 L273.4,165.7 L274.0,165.7 L274.6,165.6 L275.2,165.5 L275.8,165.5 L276.4,165.4 L277.0,165.3 L277.6,165.2 L278.2,165.1 L278.8,165.0 L279.4,164.9 L280.0,164.8 L280.6,164.6 L281.2,164.5 L281.8,164.3 L282.4,164.0 L283.0,163.8 L283.6,163.5 L284.2,163.1 L284.8,162.8 L285.4,162.4 L286.0,162.0 L286.6,161.5 L287.2,161.0 L287.8,160.4 L288.4,159.8 L289.0,159.2 L289.6,158.7 L290.2,158.3 L290.8,158.1 L291.4,157.9 L292.0,157.9 L292.6,158.0 L293.2,158.2 L293.8,158.5 L294.4,158.8 L295.0,159.2 L295.6,159.7 L296.2,160.2 L296.8,160.8 L297.4,161.4 L298.0,162.1 L298.6,162.9 L299.2,163.7 L299.8,164.5 L300.4,165.2 L301.0,165.8 L301.6,166.4 L302.2,166.8 L302.8,167.0 L303.4,167.0 L304.0,166.7 L304.6,166.3 L305.2,165.8 L305.8,165.1 L306.4,164.4 L307.0,163.6 L307.6,162.9 L308.2,162.2 L308.8,161.7 L309.4,161.3 L310.0,161.0 L310.6,160.7 L311.2,160.6 L311.8,160.5 L312.4,160.6 L313.0,160.7 L313.6,160.7 L314.2,160.8 L314.8,161.0 L315.4,161.1 L316.0,161.1 L316.6,161.2 L317.2,161.9 L317.8,162.6 L318.4,162.9 L319.0,163.0 L319.6,163.1 L320.2,162.9 L320.8,161.7 L321.4,161.5 L322.0,161.4 L322.6,162.3 L323.2,162.9 L323.8,163.1 L324.4,163.1 L325.0,163.2 L325.6,162.4 L326.2,162.8 L326.8,163.3 L327.4,163.6 L328.0,165.6 L328.6,164.5 L329.2,166.4 L329.8,166.0 L330.4,168.7 L331.0,167.0 L331.6,166.3 L332.2,166.3 L332.8,167.7 L333.4,167.8 L334.0,166.4 L334.6,168.0 L335.2,168.2 L335.8,167.2 L336.4,168.0 L337.0,171.0 L337.6,169.8 L338.2,168.9 L338.8,166.6 L339.4,167.7 L340.0,170.2 L340.6,168.8 L341.2,164.1 L341.8,162.1 L342.4,166.4 L343.0,171.4 L343.6,173.6 L344.2,169.1 L344.8,165.6 L345.4,169.9 L346.0,173.3 L346.6,171.0 L347.2,173.8 L347.8,167.7 L348.4,162.3 L349.0,159.1 L349.6,162.6 L350.2,165.0 L350.8,166.4 L351.4,166.2 L352.0,164.7 L352.6,169.0 L353.2,172.9 L353.8,175.7 L354.4,175.3 L355.0,177.2 L355.6,178.2 L356.2,170.3 L356.8,164.7 L357.4,170.7 L358.0,171.0 L358.6,172.3 L359.2,171.7 L359.8,174.6 L360.4,170.7 L361.0,175.1 L361.6,171.5 L362.2,174.9 L362.8,175.5 L363.4,171.3 L364.0,165.3 L364.6,167.6 L365.2,166.6 L365.8,168.1 L366.4,171.4 L367.0,165.9 L367.6,162.3 L368.2,168.7 L368.8,163.2 L369.4,169.1 L370.0,170.3 L370.6,163.4 L371.2,168.7 L371.8,167.3 L372.4,168.0 L373.0,166.2 L373.6,169.7 L374.2,165.2 L374.8,168.7 L375.4,172.0 L376.0,168.3 L376.6,158.4 L377.2,158.4 L377.8,153.8 L378.4,152.2 L379.0,163.5 L379.6,158.0 L380.2,160.2 L380.8,174.4 L381.4,167.7 L382.0,152.3 L382.6,171.5 L383.2,169.0 L383.8,174.7 L384.4,169.5 L385.0,155.9 L385.6,157.4 L386.2,157.1 L386.8,164.3 L387.4,164.7 L388.0,159.7 L388.6,154.1 L389.2,163.3 L389.8,151.7 L390.4,157.5 L391.0,159.1 L391.6,156.9 L392.2,157.5 L392.8,162.8 L393.4,150.4 L394.0,159.6 L394.6,159.2 L395.2,156.7 L395.8,154.7 L396.4,167.3 L397.0,151.5 L397.6,151.1 L398.2,143.1 L398.8,148.1 L399.4,141.4 L400.0,140.1 L400.6,140.5 L401.2,141.3 L401.8,147.3 L402.4,145.2 L403.0,152.2 L403.6,149.8 L403.7,153.3" fill="none" stroke="#264478" stroke-width="1.15" stroke-linejoin="round"/>
<path d="M268.0,154.0 L268.6,153.5 L269.2,153.1 L269.8,152.6 L270.4,152.1 L271.0,151.6 L271.6,151.1 L272.2,150.6 L272.8,150.2 L273.4,149.7 L274.0,149.2 L274.6,148.6 L275.2,148.1 L275.8,147.6 L276.4,147.1 L277.0,146.6 L277.6,146.0 L278.2,145.5 L278.8,145.4 L279.4,145.2 L280.0,145.0 L280.6,144.5 L281.2,144.0 L281.8,143.5 L282.4,142.9 L283.0,142.4 L283.6,141.9 L284.2,141.3 L284.8,140.8 L285.4,140.2 L286.0,139.6 L286.6,139.1 L287.2,138.5 L287.8,137.9 L288.4,137.3 L289.0,136.6 L289.6,136.4 L290.2,136.3 L290.8,136.3 L291.4,136.5 L292.0,136.7 L292.6,137.1 L293.2,137.5 L293.8,137.9 L294.4,138.4 L295.0,139.0 L295.6,139.6 L296.2,140.2 L296.8,140.9 L297.4,141.6 L298.0,142.4 L298.6,143.1 L299.2,143.8 L299.8,144.5 L300.4,145.3 L301.0,146.0 L301.6,146.5 L302.2,147.0 L302.8,147.3 L303.4,147.4 L304.0,147.2 L304.6,146.7 L305.2,146.0 L305.8,145.0 L306.4,144.0 L307.0,142.9 L307.6,141.9 L308.2,141.2 L308.8,140.7 L309.4,140.6 L310.0,140.5 L310.6,140.7 L311.2,141.2 L311.8,141.7 L312.4,142.4 L313.0,143.1 L313.6,143.9 L314.2,144.7 L314.8,145.3 L315.4,145.7 L316.0,146.1 L316.6,146.6 L317.2,147.4 L317.8,148.4 L318.4,149.2 L319.0,149.9 L319.6,150.6 L320.2,150.7 L320.8,150.5 L321.4,150.1 L322.0,150.0 L322.6,150.1 L323.2,149.7 L323.8,149.6 L324.4,148.0 L325.0,149.3 L325.6,148.1 L326.2,147.2 L326.8,147.8 L327.4,147.4 L328.0,148.4 L328.6,148.2 L329.2,149.7 L329.8,148.1 L330.4,149.3 L331.0,148.3 L331.6,149.1 L332.2,146.5 L332.8,145.6 L333.4,144.9 L334.0,144.1 L334.6,143.9 L335.2,146.1 L335.8,145.2 L336.4,144.8 L337.0,147.9 L337.6,143.9 L338.2,145.0 L338.8,141.7 L339.4,143.4 L340.0,139.8 L340.6,138.2 L341.2,138.5 L341.8,137.3 L342.4,137.8 L343.0,135.3 L343.6,135.5 L344.2,134.0 L344.8,134.7 L345.4,135.8 L346.0,137.5 L346.6,141.8 L347.2,145.6 L347.8,147.4 L348.4,144.7 L349.0,147.4 L349.6,149.6 L350.2,148.0 L350.8,149.9 L351.4,152.5 L352.0,154.4 L352.6,149.0 L353.2,148.3 L353.8,154.6 L354.4,153.6 L355.0,151.8 L355.6,152.2 L356.2,152.1 L356.8,154.5 L357.4,149.0 L358.0,153.0 L358.6,154.0 L359.2,152.7 L359.8,153.0 L360.4,150.4 L361.0,151.2 L361.6,149.4 L362.2,149.5 L362.8,140.2 L363.4,148.8 L364.0,150.0 L364.6,156.8 L365.2,151.9 L365.8,153.8 L366.4,147.7 L367.0,156.7 L367.6,146.3 L368.2,145.8 L368.8,145.9 L369.4,154.0 L370.0,154.8 L370.6,150.6 L371.2,156.7 L371.8,156.8 L372.4,155.9 L373.0,158.5 L373.6,149.3 L374.2,156.6 L374.8,166.1 L375.4,157.4 L376.0,157.9 L376.6,149.7 L377.2,160.0 L377.8,155.3 L378.4,151.7 L379.0,158.2 L379.6,158.9 L380.2,155.6 L380.8,145.9 L381.4,150.6 L382.0,151.7 L382.6,163.1 L383.2,161.2 L383.8,163.8 L384.4,157.3 L385.0,165.1 L385.6,164.8 L386.2,168.8 L386.8,171.1 L387.4,165.5 L388.0,162.9 L388.6,167.0 L389.2,153.2 L389.8,149.8 L390.4,154.8 L391.0,152.7 L391.6,163.0 L392.2,150.6 L392.8,159.6 L393.4,148.3 L394.0,153.7 L394.6,161.0 L395.2,161.8 L395.8,161.8 L396.4,153.6 L397.0,167.3 L397.6,172.0 L398.2,166.3 L398.8,170.3 L399.4,166.8 L400.0,182.6 L400.6,181.4 L401.2,175.9 L401.8,173.8 L402.4,180.8 L403.0,167.9 L403.6,183.8 L403.7,176.3" fill="none" stroke="#43682B" stroke-width="1.15" stroke-linejoin="round"/>
<path d="M268.0,163.0 L268.6,162.8 L269.2,162.6 L269.8,162.3 L270.4,162.1 L271.0,161.8 L271.6,161.5 L272.2,161.2 L272.8,160.8 L273.4,160.5 L274.0,160.1 L274.6,159.7 L275.2,159.3 L275.8,158.8 L276.4,158.3 L277.0,157.8 L277.6,157.3 L278.2,156.8 L278.8,156.2 L279.4,155.6 L280.0,155.0 L280.6,154.3 L281.2,153.6 L281.8,152.8 L282.4,152.0 L283.0,151.1 L283.6,150.2 L284.2,149.3 L284.8,148.3 L285.4,147.3 L286.0,146.3 L286.6,145.2 L287.2,144.2 L287.8,143.2 L288.4,142.3 L289.0,141.6 L289.6,141.1 L290.2,140.8 L290.8,140.6 L291.4,140.5 L292.0,140.5 L292.6,140.7 L293.2,141.1 L293.8,141.8 L294.4,142.6 L295.0,143.6 L295.6,144.6 L296.2,145.6 L296.8,146.4 L297.4,147.3 L298.0,148.1 L298.6,148.9 L299.2,149.6 L299.8,150.2 L300.4,150.7 L301.0,151.0 L301.6,151.2 L302.2,151.4 L302.8,151.6 L303.4,151.7 L304.0,151.8 L304.6,151.8 L305.2,151.8 L305.8,151.7 L306.4,151.5 L307.0,151.4 L307.6,151.1 L308.2,150.9 L308.8,150.6 L309.4,150.2 L310.0,149.9 L310.6,149.7 L311.2,149.5 L311.8,149.4 L312.4,149.5 L313.0,149.7 L313.6,150.0 L314.2,150.4 L314.8,150.9 L315.4,151.4 L316.0,152.0 L316.6,152.6 L317.2,153.2 L317.8,153.8 L318.4,154.4 L319.0,154.8 L319.6,154.9 L320.2,155.0 L320.8,154.9 L321.4,154.6 L322.0,154.5 L322.6,153.9 L323.2,154.2 L323.8,153.5 L324.4,153.0 L325.0,152.1 L325.6,151.7 L326.2,150.6 L326.8,150.9 L327.4,152.2 L328.0,150.7 L328.6,150.4 L329.2,150.2 L329.8,150.0 L330.4,150.1 L331.0,150.7 L331.6,152.2 L332.2,152.4 L332.8,155.4 L333.4,156.2 L334.0,156.5 L334.6,155.6 L335.2,155.5 L335.8,154.2 L336.4,154.8 L337.0,154.4 L337.6,153.4 L338.2,153.5 L338.8,153.4 L339.4,154.0 L340.0,155.0 L340.6,154.0 L341.2,151.0 L341.8,150.8 L342.4,149.7 L343.0,151.2 L343.6,154.5 L344.2,156.0 L344.8,156.0 L345.4,151.1 L346.0,154.2 L346.6,156.7 L347.2,147.0 L347.8,149.5 L348.4,151.3 L349.0,149.8 L349.6,148.4 L350.2,148.0 L350.8,149.1 L351.4,150.0 L352.0,147.8 L352.6,140.7 L353.2,142.5 L353.8,148.4 L354.4,146.2 L355.0,154.5 L355.6,150.6 L356.2,149.0 L356.8,146.6 L357.4,147.8 L358.0,156.4 L358.6,157.0 L359.2,158.0 L359.8,158.9 L360.4,152.2 L361.0,156.7 L361.6,158.0 L362.2,154.4 L362.8,150.0 L363.4,149.3 L364.0,158.6 L364.6,155.4 L365.2,145.8 L365.8,139.8 L366.4,155.1 L367.0,149.4 L367.6,145.0 L368.2,152.8 L368.8,158.5 L369.4,160.8 L370.0,160.7 L370.6,153.9 L371.2,155.0 L371.8,155.0 L372.4,164.3 L373.0,162.6 L373.6,146.2 L374.2,158.4 L374.8,163.5 L375.4,162.1 L376.0,170.6 L376.6,163.3 L377.2,169.1 L377.8,164.1 L378.4,162.4 L379.0,159.9 L379.6,157.4 L380.2,157.6 L380.8,165.0 L381.4,159.7 L382.0,175.7 L382.6,169.0 L383.2,183.3 L383.8,172.8 L384.4,164.0 L385.0,168.5 L385.6,172.1 L386.2,160.3 L386.8,163.4 L387.4,167.8 L388.0,161.3 L388.6,171.6 L389.2,161.9 L389.8,167.9 L390.4,166.2 L391.0,173.0 L391.6,154.3 L392.2,153.8 L392.8,169.1 L393.4,158.4 L394.0,160.8 L394.6,167.5 L395.2,164.1 L395.8,160.9 L396.4,181.6 L397.0,173.7 L397.6,165.7 L398.2,159.4 L398.8,164.7 L399.4,169.3 L400.0,169.4 L400.6,166.0 L401.2,169.3 L401.8,171.7 L402.4,174.9 L403.0,166.6 L403.6,172.0 L403.7,177.3" fill="none" stroke="#7CAFDD" stroke-width="1.15" stroke-linejoin="round"/>
<path d="M268.0,170.4 L268.6,170.4 L269.2,170.3 L269.8,170.3 L270.4,170.2 L271.0,170.1 L271.6,170.1 L272.2,170.0 L272.8,169.9 L273.4,169.8 L274.0,169.7 L274.6,169.6 L275.2,169.5 L275.8,169.3 L276.4,169.2 L277.0,169.0 L277.6,168.8 L278.2,168.7 L278.8,168.5 L279.4,168.2 L280.0,168.0 L280.6,167.7 L281.2,167.5 L281.8,167.2 L282.4,166.8 L283.0,166.5 L283.6,166.2 L284.2,165.8 L284.8,165.5 L285.4,165.2 L286.0,164.9 L286.6,164.6 L287.2,164.4 L287.8,164.2 L288.4,164.0 L289.0,163.9 L289.6,163.9 L290.2,163.9 L290.8,163.9 L291.4,164.1 L292.0,164.3 L292.6,164.7 L293.2,165.1 L293.8,165.6 L294.4,166.1 L295.0,166.7 L295.6,167.3 L296.2,168.0 L296.8,168.7 L297.4,169.3 L298.0,170.0 L298.6,170.7 L299.2,171.4 L299.8,172.1 L300.4,172.8 L301.0,173.6 L301.6,174.2 L302.2,174.8 L302.8,175.3 L303.4,175.8 L304.0,176.1 L304.6,176.3 L305.2,176.3 L305.8,176.2 L306.4,175.9 L307.0,175.5 L307.6,174.9 L308.2,174.1 L308.8,173.4 L309.4,172.8 L310.0,172.4 L310.6,172.1 L311.2,171.8 L311.8,171.6 L312.4,171.4 L313.0,171.1 L313.6,170.6 L314.2,169.8 L314.8,169.0 L315.4,168.4 L316.0,168.1 L316.6,168.1 L317.2,168.3 L317.8,168.4 L318.4,168.1 L319.0,167.6 L319.6,167.3 L320.2,166.4 L320.8,165.5 L321.4,163.5 L322.0,163.3 L322.6,162.4 L323.2,161.4 L323.8,161.0 L324.4,160.2 L325.0,160.0 L325.6,159.9 L326.2,160.5 L326.8,161.8 L327.4,160.5 L328.0,160.2 L328.6,161.8 L329.2,162.0 L329.8,162.2 L330.4,167.6 L331.0,167.0 L331.6,163.7 L332.2,164.8 L332.8,164.8 L333.4,165.0 L334.0,168.3 L334.6,168.1 L335.2,171.9 L335.8,172.7 L336.4,172.3 L337.0,174.5 L337.6,174.9 L338.2,173.4 L338.8,170.4 L339.4,173.9 L340.0,173.5 L340.6,178.0 L341.2,178.9 L341.8,180.4 L342.4,179.2 L343.0,178.4 L343.6,177.3 L344.2,176.1 L344.8,175.6 L345.4,176.9 L346.0,178.1 L346.6,178.3 L347.2,174.4 L347.8,179.3 L348.4,175.7 L349.0,172.1 L349.6,171.5 L350.2,176.8 L350.8,177.5 L351.4,174.5 L352.0,166.9 L352.6,167.1 L353.2,163.1 L353.8,164.4 L354.4,165.5 L355.0,165.0 L355.6,165.3 L356.2,166.2 L356.8,165.1 L357.4,172.2 L358.0,164.5 L358.6,165.3 L359.2,166.2 L359.8,162.1 L360.4,165.3 L361.0,169.7 L361.6,167.7 L362.2,167.4 L362.8,164.8 L363.4,166.0 L364.0,167.0 L364.6,167.8 L365.2,168.0 L365.8,168.3 L366.4,166.9 L367.0,160.0 L367.6,163.1 L368.2,167.9 L368.8,169.8 L369.4,163.0 L370.0,164.4 L370.6,156.9 L371.2,161.5 L371.8,164.6 L372.4,161.4 L373.0,163.4 L373.6,162.6 L374.2,162.4 L374.8,164.8 L375.4,164.3 L376.0,161.5 L376.6,159.2 L377.2,162.6 L377.8,155.9 L378.4,168.7 L379.0,178.6 L379.6,167.5 L380.2,156.9 L380.8,169.5 L381.4,164.7 L382.0,165.9 L382.6,160.9 L383.2,164.2 L383.8,160.0 L384.4,166.1 L385.0,168.0 L385.6,167.2 L386.2,167.3 L386.8,164.5 L387.4,166.1 L388.0,171.6 L388.6,159.7 L389.2,171.3 L389.8,165.5 L390.4,174.8 L391.0,182.3 L391.6,169.1 L392.2,177.4 L392.8,169.4 L393.4,170.7 L394.0,162.4 L394.6,165.3 L395.2,165.1 L395.8,166.7 L396.4,164.8 L397.0,168.1 L397.6,169.9 L398.2,165.6 L398.8,160.5 L399.4,168.1 L400.0,170.9 L400.6,159.9 L401.2,175.5 L401.8,173.9 L402.4,159.0 L403.0,164.7 L403.6,166.2 L403.7,173.9" fill="none" stroke="#F1975A" stroke-width="1.15" stroke-linejoin="round"/>
<path d="M268.0,155.5 L268.6,155.5 L269.2,155.6 L269.8,155.6 L270.4,155.6 L271.0,155.6 L271.6,155.6 L272.2,155.6 L272.8,155.5 L273.4,155.5 L274.0,155.4 L274.6,155.3 L275.2,155.2 L275.8,155.1 L276.4,155.0 L277.0,154.8 L277.6,154.6 L278.2,154.4 L278.8,154.2 L279.4,153.8 L280.0,153.4 L280.6,153.0 L281.2,152.5 L281.8,152.0 L282.4,151.5 L283.0,150.9 L283.6,150.3 L284.2,149.8 L284.8,149.2 L285.4,148.6 L286.0,148.0 L286.6,147.4 L287.2,146.7 L287.8,146.1 L288.4,145.6 L289.0,145.0 L289.6,144.6 L290.2,144.3 L290.8,144.0 L291.4,143.9 L292.0,144.0 L292.6,144.0 L293.2,144.2 L293.8,144.5 L294.4,144.8 L295.0,145.2 L295.6,145.7 L296.2,146.2 L296.8,146.8 L297.4,147.4 L298.0,148.2 L298.6,149.1 L299.2,150.0 L299.8,150.9 L300.4,151.7 L301.0,152.5 L301.6,153.2 L302.2,153.7 L302.8,154.0 L303.4,154.0 L304.0,153.9 L304.6,153.7 L305.2,153.3 L305.8,152.8 L306.4,152.3 L307.0,151.7 L307.6,151.2 L308.2,150.7 L308.8,150.4 L309.4,150.1 L310.0,150.0 L310.6,149.9 L311.2,150.0 L311.8,150.3 L312.4,150.7 L313.0,151.5 L313.6,152.3 L314.2,152.9 L314.8,153.6 L315.4,154.4 L316.0,155.3 L316.6,156.0 L317.2,156.6 L317.8,157.3 L318.4,157.7 L319.0,157.7 L319.6,157.5 L320.2,157.7 L320.8,158.5 L321.4,159.3 L322.0,159.4 L322.6,160.0 L323.2,160.0 L323.8,159.4 L324.4,160.3 L325.0,160.0 L325.6,158.3 L326.2,158.3 L326.8,158.9 L327.4,158.5 L328.0,159.0 L328.6,158.5 L329.2,159.0 L329.8,156.4 L330.4,158.5 L331.0,161.0 L331.6,159.9 L332.2,160.4 L332.8,158.7 L333.4,160.9 L334.0,160.2 L334.6,161.7 L335.2,161.3 L335.8,163.2 L336.4,163.4 L337.0,163.1 L337.6,162.8 L338.2,161.5 L338.8,163.8 L339.4,164.8 L340.0,163.4 L340.6,164.5 L341.2,163.6 L341.8,166.8 L342.4,165.3 L343.0,172.1 L343.6,167.9 L344.2,169.0 L344.8,170.8 L345.4,168.5 L346.0,170.9 L346.6,170.4 L347.2,168.5 L347.8,165.2 L348.4,159.0 L349.0,162.4 L349.6,166.9 L350.2,169.1 L350.8,166.4 L351.4,173.3 L352.0,167.3 L352.6,165.4 L353.2,170.1 L353.8,168.2 L354.4,169.7 L355.0,163.6 L355.6,164.4 L356.2,164.6 L356.8,162.7 L357.4,157.3 L358.0,170.3 L358.6,160.8 L359.2,167.0 L359.8,164.4 L360.4,166.1 L361.0,170.3 L361.6,171.8 L362.2,174.9 L362.8,166.4 L363.4,170.6 L364.0,170.9 L364.6,163.7 L365.2,168.1 L365.8,173.5 L366.4,174.1 L367.0,178.7 L367.6,177.7 L368.2,175.5 L368.8,167.5 L369.4,172.7 L370.0,169.4 L370.6,164.5 L371.2,166.7 L371.8,166.8 L372.4,164.2 L373.0,164.7 L373.6,166.7 L374.2,171.6 L374.8,170.1 L375.4,170.1 L376.0,167.5 L376.6,173.0 L377.2,171.9 L377.8,172.2 L378.4,182.3 L379.0,171.7 L379.6,183.3 L380.2,171.7 L380.8,174.9 L381.4,165.1 L382.0,172.5 L382.6,175.0 L383.2,177.5 L383.8,167.9 L384.4,168.4 L385.0,168.0 L385.6,167.3 L386.2,165.0 L386.8,163.9 L387.4,163.8 L388.0,158.6 L388.6,170.5 L389.2,153.1 L389.8,171.2 L390.4,180.3 L391.0,172.1 L391.6,175.3 L392.2,178.2 L392.8,185.8 L393.4,183.8 L394.0,178.5 L394.6,175.6 L395.2,169.9 L395.8,174.0 L396.4,171.8 L397.0,181.0 L397.6,179.1 L398.2,173.2 L398.8,165.9 L399.4,175.7 L400.0,170.8 L400.6,171.3 L401.2,171.6 L401.8,164.8 L402.4,170.4 L403.0,172.7 L403.6,168.1 L403.7,159.4" fill="none" stroke="#B7B7B7" stroke-width="1.15" stroke-linejoin="round"/>
<path d="M268.0,151.2 L268.6,151.5 L269.2,151.8 L269.8,152.1 L270.4,152.3 L271.0,152.6 L271.6,152.7 L272.2,152.9 L272.8,153.0 L273.4,153.1 L274.0,153.2 L274.6,153.2 L275.2,153.1 L275.8,153.1 L276.4,153.0 L277.0,152.8 L277.6,152.5 L278.2,152.1 L278.8,151.7 L279.4,151.2 L280.0,150.6 L280.6,149.9 L281.2,149.3 L281.8,148.5 L282.4,147.8 L283.0,147.1 L283.6,146.3 L284.2,145.5 L284.8,144.8 L285.4,144.0 L286.0,143.1 L286.6,142.3 L287.2,141.5 L287.8,140.7 L288.4,140.1 L289.0,139.5 L289.6,139.0 L290.2,138.7 L290.8,138.6 L291.4,138.6 L292.0,138.7 L292.6,139.0 L293.2,139.3 L293.8,139.6 L294.4,140.1 L295.0,140.5 L295.6,141.1 L296.2,141.7 L296.8,142.3 L297.4,143.0 L298.0,143.6 L298.6,144.3 L299.2,144.9 L299.8,145.5 L300.4,146.0 L301.0,146.4 L301.6,146.8 L302.2,147.2 L302.8,147.4 L303.4,147.6 L304.0,147.8 L304.6,147.8 L305.2,147.8 L305.8,147.6 L306.4,147.5 L307.0,147.3 L307.6,147.2 L308.2,147.2 L308.8,147.3 L309.4,147.5 L310.0,147.8 L310.6,148.3 L311.2,148.8 L311.8,149.4 L312.4,149.9 L313.0,150.2 L313.6,150.3 L314.2,150.1 L314.8,149.6 L315.4,148.6 L316.0,146.8 L316.6,144.9 L317.2,143.4 L317.8,142.2 L318.4,141.2 L319.0,140.4 L319.6,140.2 L320.2,140.8 L320.8,141.8 L321.4,142.3 L322.0,142.7 L322.6,142.9 L323.2,142.7 L323.8,142.6 L324.4,142.4 L325.0,141.7 L325.6,142.0 L326.2,143.1 L326.8,143.8 L327.4,145.9 L328.0,146.0 L328.6,147.4 L329.2,148.1 L329.8,148.5 L330.4,148.8 L331.0,147.5 L331.6,148.9 L332.2,150.4 L332.8,155.0 L333.4,151.4 L334.0,148.1 L334.6,147.4 L335.2,145.7 L335.8,148.2 L336.4,147.4 L337.0,151.4 L337.6,152.3 L338.2,151.9 L338.8,150.2 L339.4,150.9 L340.0,151.9 L340.6,149.6 L341.2,147.4 L341.8,147.1 L342.4,140.8 L343.0,140.6 L343.6,140.7 L344.2,142.9 L344.8,142.9 L345.4,142.5 L346.0,140.0 L346.6,140.3 L347.2,140.9 L347.8,142.1 L348.4,139.6 L349.0,144.4 L349.6,152.2 L350.2,150.4 L350.8,148.8 L351.4,148.9 L352.0,141.0 L352.6,140.5 L353.2,142.9 L353.8,144.7 L354.4,145.5 L355.0,146.0 L355.6,146.9 L356.2,147.4 L356.8,149.6 L357.4,156.5 L358.0,152.9 L358.6,157.9 L359.2,147.6 L359.8,152.3 L360.4,151.9 L361.0,141.4 L361.6,142.3 L362.2,142.6 L362.8,139.1 L363.4,145.8 L364.0,142.6 L364.6,148.1 L365.2,147.0 L365.8,141.5 L366.4,139.3 L367.0,146.9 L367.6,140.9 L368.2,145.3 L368.8,141.1 L369.4,151.2 L370.0,140.5 L370.6,141.0 L371.2,141.0 L371.8,141.0 L372.4,140.8 L373.0,140.2 L373.6,140.5 L374.2,140.7 L374.8,143.3 L375.4,146.9 L376.0,139.3 L376.6,152.7 L377.2,142.6 L377.8,146.9 L378.4,152.2 L379.0,147.9 L379.6,151.5 L380.2,146.2 L380.8,146.2 L381.4,153.5 L382.0,157.2 L382.6,150.6 L383.2,148.5 L383.8,144.4 L384.4,146.8 L385.0,146.3 L385.6,152.7 L386.2,159.2 L386.8,153.8 L387.4,153.0 L388.0,152.0 L388.6,151.4 L389.2,150.3 L389.8,148.7 L390.4,148.8 L391.0,150.3 L391.6,150.7 L392.2,150.5 L392.8,155.1 L393.4,152.3 L394.0,148.1 L394.6,149.1 L395.2,150.0 L395.8,150.3 L396.4,151.2 L397.0,153.0 L397.6,152.9 L398.2,146.5 L398.8,150.7 L399.4,150.0 L400.0,146.6 L400.6,142.3 L401.2,149.1 L401.8,163.7 L402.4,153.1 L403.0,149.3 L403.6,154.4 L403.7,152.0" fill="none" stroke="#FFCD33" stroke-width="1.15" stroke-linejoin="round"/>
<path d="M268.0,169.5 L268.6,169.5 L269.2,169.5 L269.8,169.5 L270.4,169.4 L271.0,169.4 L271.6,169.4 L272.2,169.3 L272.8,169.3 L273.4,169.3 L274.0,169.2 L274.6,169.1 L275.2,169.1 L275.8,169.0 L276.4,168.9 L277.0,168.8 L277.6,168.6 L278.2,168.5 L278.8,168.3 L279.4,168.1 L280.0,167.8 L280.6,167.6 L281.2,167.3 L281.8,167.0 L282.4,166.6 L283.0,166.2 L283.6,165.9 L284.2,165.4 L284.8,165.0 L285.4,164.5 L286.0,163.9 L286.6,163.3 L287.2,162.7 L287.8,162.1 L288.4,161.6 L289.0,161.1 L289.6,160.7 L290.2,160.3 L290.8,160.1 L291.4,160.0 L292.0,160.0 L292.6,160.0 L293.2,160.0 L293.8,160.1 L294.4,160.3 L295.0,160.5 L295.6,160.7 L296.2,160.9 L296.8,161.2 L297.4,161.5 L298.0,161.9 L298.6,162.3 L299.2,162.7 L299.8,163.2 L300.4,163.7 L301.0,164.1 L301.6,164.5 L302.2,164.9 L302.8,165.1 L303.4,165.3 L304.0,165.3 L304.6,165.2 L305.2,165.0 L305.8,164.6 L306.4,164.3 L307.0,163.9 L307.6,163.5 L308.2,163.1 L308.8,162.7 L309.4,162.5 L310.0,162.2 L310.6,161.9 L311.2,161.7 L311.8,161.4 L312.4,161.2 L313.0,161.0 L313.6,160.8 L314.2,160.6 L314.8,160.5 L315.4,160.4 L316.0,160.3 L316.6,160.0 L317.2,159.7 L317.8,159.5 L318.4,159.2 L319.0,158.7 L319.6,158.2 L320.2,157.9 L320.8,157.7 L321.4,157.4 L322.0,157.1 L322.6,156.9 L323.2,157.0 L323.8,156.9 L324.4,157.0 L325.0,157.1 L325.6,157.2 L326.2,157.8 L326.8,158.1 L327.4,158.3 L328.0,159.2 L328.6,160.0 L329.2,160.5 L329.8,160.0 L330.4,160.3 L331.0,160.2 L331.6,159.7 L332.2,160.1 L332.8,160.0 L333.4,161.1 L334.0,161.5 L334.6,161.5 L335.2,163.9 L335.8,162.1 L336.4,162.6 L337.0,161.3 L337.6,161.4 L338.2,161.5 L338.8,160.9 L339.4,160.8 L340.0,163.1 L340.6,164.0 L341.2,164.3 L341.8,163.5 L342.4,161.5 L343.0,162.3 L343.6,161.7 L344.2,162.8 L344.8,161.8 L345.4,162.9 L346.0,163.1 L346.6,161.4 L347.2,160.5 L347.8,162.1 L348.4,163.0 L349.0,165.1 L349.6,163.7 L350.2,160.9 L350.8,164.2 L351.4,164.0 L352.0,163.3 L352.6,164.1 L353.2,165.7 L353.8,164.2 L354.4,164.0 L355.0,163.2 L355.6,163.2 L356.2,165.7 L356.8,167.4 L357.4,167.9 L358.0,167.0 L358.6,166.4 L359.2,166.0 L359.8,165.9 L360.4,165.8 L361.0,163.5 L361.6,163.7 L362.2,162.0 L362.8,162.8 L363.4,161.3 L364.0,163.9 L364.6,164.4 L365.2,164.6 L365.8,164.9 L366.4,166.0 L367.0,165.5 L367.6,166.5 L368.2,165.8 L368.8,166.8 L369.4,166.1 L370.0,169.6 L370.6,170.2 L371.2,167.9 L371.8,170.4 L372.4,168.7 L373.0,168.5 L373.6,169.2 L374.2,170.3 L374.8,170.2 L375.4,169.4 L376.0,173.6 L376.6,175.1 L377.2,170.9 L377.8,171.7 L378.4,172.1 L379.0,165.8 L379.6,168.8 L380.2,167.8 L380.8,173.1 L381.4,166.4 L382.0,168.6 L382.6,167.8 L383.2,168.2 L383.8,168.6 L384.4,174.8 L385.0,173.3 L385.6,172.0 L386.2,170.1 L386.8,177.7 L387.4,174.8 L388.0,178.3 L388.6,174.0 L389.2,176.0 L389.8,181.1 L390.4,181.4 L391.0,184.5 L391.6,180.6 L392.2,180.5 L392.8,179.7 L393.4,179.4 L394.0,177.8 L394.6,177.4 L395.2,176.7 L395.8,177.0 L396.4,172.0 L397.0,168.9 L397.6,167.3 L398.2,166.7 L398.8,168.5 L399.4,168.0 L400.0,167.7 L400.6,167.3 L401.2,168.2 L401.8,169.5 L402.4,171.1 L403.0,173.6 L403.6,177.1 L403.7,175.0" fill="none" stroke="#FF0000" stroke-width="2.2" stroke-dasharray="4.6 1.7" stroke-linejoin="round"/>
<line x1="497.00" y1="75.25" x2="497.00" y2="223.60" stroke="#E7E7E7" stroke-width="0.8"/>
<line x1="497.00" y1="75.25" x2="679.80" y2="75.25" stroke="#E7E7E7" stroke-width="0.8"/>
<line x1="557.93" y1="75.25" x2="557.93" y2="223.60" stroke="#E7E7E7" stroke-width="0.8"/>
<line x1="497.00" y1="124.70" x2="679.80" y2="124.70" stroke="#E7E7E7" stroke-width="0.8"/>
<line x1="618.87" y1="75.25" x2="618.87" y2="223.60" stroke="#E7E7E7" stroke-width="0.8"/>
<line x1="497.00" y1="174.15" x2="679.80" y2="174.15" stroke="#E7E7E7" stroke-width="0.8"/>
<line x1="679.80" y1="75.25" x2="679.80" y2="223.60" stroke="#E7E7E7" stroke-width="0.8"/>
<line x1="497.00" y1="223.60" x2="679.80" y2="223.60" stroke="#E7E7E7" stroke-width="0.8"/>
<text x="496.75" y="235.2" font-size="7.0" fill="#1c1c1c" stroke="#1c1c1c" stroke-width="0.17" text-anchor="middle" textLength="8.7" lengthAdjust="spacingAndGlyphs">0.1</text>
<text x="490.05" y="225.10" font-size="7.0" fill="#1c1c1c" stroke="#1c1c1c" stroke-width="0.17" text-anchor="end" textLength="8.7" lengthAdjust="spacingAndGlyphs">0.1</text>
<text x="557.88" y="235.2" font-size="7.0" fill="#1c1c1c" stroke="#1c1c1c" stroke-width="0.17" text-anchor="middle" textLength="3.4" lengthAdjust="spacingAndGlyphs">1</text>
<text x="490.05" y="175.98" font-size="7.0" fill="#1c1c1c" stroke="#1c1c1c" stroke-width="0.17" text-anchor="end" textLength="3.4" lengthAdjust="spacingAndGlyphs">1</text>
<text x="619.02" y="235.2" font-size="7.0" fill="#1c1c1c" stroke="#1c1c1c" stroke-width="0.17" text-anchor="middle" textLength="6.9" lengthAdjust="spacingAndGlyphs">10</text>
<text x="490.05" y="126.87" font-size="7.0" fill="#1c1c1c" stroke="#1c1c1c" stroke-width="0.17" text-anchor="end" textLength="6.9" lengthAdjust="spacingAndGlyphs">10</text>
<text x="680.15" y="235.2" font-size="7.0" fill="#1c1c1c" stroke="#1c1c1c" stroke-width="0.17" text-anchor="middle" textLength="10.8" lengthAdjust="spacingAndGlyphs">100</text>
<text x="490.05" y="77.75" font-size="7.0" fill="#1c1c1c" stroke="#1c1c1c" stroke-width="0.17" text-anchor="end" textLength="10.8" lengthAdjust="spacingAndGlyphs">100</text>
<text x="588.5" y="245.40" font-size="7.2" fill="#1c1c1c" stroke="#1c1c1c" stroke-width="0.17" text-anchor="middle" textLength="47.4" lengthAdjust="spacingAndGlyphs">Frequency (Hz)</text>
<text transform="translate(473.7,149.6) rotate(-90)" font-size="7.0" fill="#1c1c1c" stroke="#1c1c1c" stroke-width="0.17" text-anchor="middle" textLength="100.6" lengthAdjust="spacingAndGlyphs">Surface-to-borehole Ratio (SBR)</text>
<text fill="#111" stroke="#111" stroke-width="0.22"><tspan x="558.8" y="8.8" font-size="9.6" textLength="10.0" lengthAdjust="spacingAndGlyphs">(c)</tspan><tspan> </tspan><tspan x="573.9" y="8.2" font-size="7.5" textLength="13.8" lengthAdjust="spacingAndGlyphs">SBR</tspan></text>
<line x1="467.60" y1="21.70" x2="484.60" y2="21.70" stroke="#5B9BD5" stroke-width="1.2" stroke-opacity="0.75"/>
<text x="486.20" y="23.70" font-size="6.05" fill="#1c1c1c" stroke="#1c1c1c" stroke-width="0.17" textLength="24" lengthAdjust="spacingAndGlyphs">AOMH01</text>
<line x1="524.90" y1="21.70" x2="541.90" y2="21.70" stroke="#ED7D31" stroke-width="1.2" stroke-opacity="0.75"/>
<text x="543.50" y="23.70" font-size="6.05" fill="#1c1c1c" stroke="#1c1c1c" stroke-width="0.17" textLength="24" lengthAdjust="spacingAndGlyphs">AOMH02</text>
<line x1="582.20" y1="21.70" x2="599.20" y2="21.70" stroke="#A5A5A5" stroke-width="1.2" stroke-opacity="0.75"/>
<text x="600.80" y="23.70" font-size="6.05" fill="#1c1c1c" stroke="#1c1c1c" stroke-width="0.17" textLength="24" lengthAdjust="spacingAndGlyphs">AOMH03</text>
<line x1="639.50" y1="21.70" x2="656.50" y2="21.70" stroke="#FFC000" stroke-width="1.2" stroke-opacity="0.75"/>
<text x="658.10" y="23.70" font-size="6.05" fill="#1c1c1c" stroke="#1c1c1c" stroke-width="0.17" textLength="24" lengthAdjust="spacingAndGlyphs">AOMH04</text>
<line x1="467.60" y1="30.20" x2="484.60" y2="30.20" stroke="#4472C4" stroke-width="1.5" stroke-opacity="0.75"/>
<text x="486.20" y="32.20" font-size="6.05" fill="#1c1c1c" stroke="#1c1c1c" stroke-width="0.17" textLength="24" lengthAdjust="spacingAndGlyphs">AOMH05</text>
<line x1="524.90" y1="30.20" x2="541.90" y2="30.20" stroke="#70AD47" stroke-width="1.5" stroke-opacity="0.75"/>
<text x="543.50" y="32.20" font-size="6.05" fill="#1c1c1c" stroke="#1c1c1c" stroke-width="0.17" textLength="24" lengthAdjust="spacingAndGlyphs">AOMH06</text>
<line x1="582.20" y1="30.20" x2="599.20" y2="30.20" stroke="#5B8FC9" stroke-width="1.5" stroke-opacity="0.75"/>
<text x="600.80" y="32.20" font-size="6.05" fill="#1c1c1c" stroke="#1c1c1c" stroke-width="0.17" textLength="24" lengthAdjust="spacingAndGlyphs">AOMH07</text>
<line x1="639.50" y1="30.20" x2="656.50" y2="30.20" stroke="#C98B62" stroke-width="1.5" stroke-opacity="0.75"/>
<text x="658.10" y="32.20" font-size="6.05" fill="#1c1c1c" stroke="#1c1c1c" stroke-width="0.17" textLength="24" lengthAdjust="spacingAndGlyphs">AOMH08</text>
<line x1="467.60" y1="38.50" x2="484.60" y2="38.50" stroke="#636363" stroke-width="1.0" stroke-opacity="1"/>
<text x="486.20" y="40.50" font-size="6.05" fill="#1c1c1c" stroke="#1c1c1c" stroke-width="0.17" textLength="24" lengthAdjust="spacingAndGlyphs">AOMH09</text>
<line x1="524.90" y1="38.50" x2="541.90" y2="38.50" stroke="#997300" stroke-width="1.0" stroke-opacity="1"/>
<text x="543.50" y="40.50" font-size="6.05" fill="#1c1c1c" stroke="#1c1c1c" stroke-width="0.17" textLength="24" lengthAdjust="spacingAndGlyphs">AOMH10</text>
<line x1="582.20" y1="38.50" x2="599.20" y2="38.50" stroke="#264478" stroke-width="1.0" stroke-opacity="1"/>
<text x="600.80" y="40.50" font-size="6.05" fill="#1c1c1c" stroke="#1c1c1c" stroke-width="0.17" textLength="24" lengthAdjust="spacingAndGlyphs">AOMH11</text>
<line x1="639.50" y1="38.50" x2="656.50" y2="38.50" stroke="#43682B" stroke-width="1.0" stroke-opacity="1"/>
<text x="658.10" y="40.50" font-size="6.05" fill="#1c1c1c" stroke="#1c1c1c" stroke-width="0.17" textLength="24" lengthAdjust="spacingAndGlyphs">AOMH12</text>
<line x1="467.60" y1="46.80" x2="484.60" y2="46.80" stroke="#7CAFDD" stroke-width="1.8" stroke-opacity="0.6"/>
<text x="486.20" y="48.80" font-size="6.05" fill="#1c1c1c" stroke="#1c1c1c" stroke-width="0.17" textLength="24" lengthAdjust="spacingAndGlyphs">AOMH13</text>
<line x1="524.90" y1="46.80" x2="541.90" y2="46.80" stroke="#F1975A" stroke-width="1.8" stroke-opacity="0.6"/>
<text x="543.50" y="48.80" font-size="6.05" fill="#1c1c1c" stroke="#1c1c1c" stroke-width="0.17" textLength="24" lengthAdjust="spacingAndGlyphs">AOMH14</text>
<line x1="582.20" y1="46.80" x2="599.20" y2="46.80" stroke="#BDBDBD" stroke-width="1.8" stroke-opacity="0.6"/>
<text x="600.80" y="48.80" font-size="6.05" fill="#1c1c1c" stroke="#1c1c1c" stroke-width="0.17" textLength="24" lengthAdjust="spacingAndGlyphs">AOMH15</text>
<line x1="639.50" y1="46.80" x2="656.50" y2="46.80" stroke="#BFA044" stroke-width="1.8" stroke-opacity="0.6"/>
<text x="658.10" y="48.80" font-size="6.05" fill="#1c1c1c" stroke="#1c1c1c" stroke-width="0.17" textLength="24" lengthAdjust="spacingAndGlyphs">AOMH16</text>
<line x1="467.60" y1="55.50" x2="484.60" y2="55.50" stroke="#FF0000" stroke-width="1.6" stroke-dasharray="4.4 1.6"/>
<text x="486.20" y="57.50" font-size="6.05" fill="#2a2a2a" stroke="#2a2a2a" stroke-width="0.1" textLength="28" lengthAdjust="spacingAndGlyphs">GEOMEAN</text>
<path d="M502.0,168.0 L502.6,168.2 L503.2,168.4 L503.8,168.6 L504.4,168.7 L505.0,168.9 L505.6,169.1 L506.2,169.2 L506.8,169.3 L507.4,169.4 L508.0,169.5 L508.6,169.6 L509.2,169.7 L509.8,169.8 L510.4,169.9 L511.0,169.9 L511.6,170.0 L512.2,170.0 L512.8,170.0 L513.4,170.0 L514.0,170.0 L514.6,170.0 L515.2,170.0 L515.8,169.9 L516.4,169.9 L517.0,169.8 L517.6,169.6 L518.2,169.4 L518.8,169.3 L519.4,169.0 L520.0,168.8 L520.6,168.5 L521.2,168.2 L521.8,167.9 L522.4,167.5 L523.0,167.1 L523.6,166.7 L524.2,166.3 L524.8,165.8 L525.4,165.3 L526.0,164.8 L526.6,164.2 L527.2,163.5 L527.8,162.9 L528.4,162.2 L529.0,161.5 L529.6,160.8 L530.2,160.1 L530.8,159.4 L531.4,158.7 L532.0,158.0 L532.6,157.3 L533.2,156.7 L533.8,156.0 L534.4,155.3 L535.0,154.6 L535.6,153.9 L536.2,153.1 L536.8,152.2 L537.4,151.3 L538.0,150.3 L538.6,149.2 L539.2,148.0 L539.8,146.6 L540.4,145.1 L541.0,143.5 L541.6,141.8 L542.2,140.1 L542.8,138.6 L543.4,137.0 L544.0,135.7 L544.6,134.5 L545.2,133.1 L545.8,132.1 L546.4,132.0 L547.0,132.7 L547.6,133.9 L548.2,135.3 L548.8,136.7 L549.4,138.0 L550.0,139.4 L550.6,140.8 L551.2,142.2 L551.8,143.6 L552.4,145.2 L553.0,147.0 L553.6,148.8 L554.2,150.6 L554.8,152.2 L555.4,153.4 L556.0,154.8 L556.6,155.7 L557.2,156.1 L557.8,156.4 L558.4,156.7 L559.0,156.7 L559.6,156.3 L560.2,155.1 L560.8,153.1 L561.4,153.4 L562.0,152.6 L562.6,151.9 L563.2,150.8 L563.8,149.0 L564.4,148.2 L565.0,148.3 L565.6,146.4 L566.2,147.4 L566.8,147.5 L567.4,147.1 L568.0,147.5 L568.6,149.5 L569.2,151.0 L569.8,145.9 L570.4,146.9 L571.0,149.7 L571.6,148.4 L572.2,144.4 L572.8,144.1 L573.4,144.6 L574.0,145.2 L574.6,145.7 L575.2,144.8 L575.8,147.4 L576.4,148.7 L577.0,150.0 L577.6,148.8 L578.2,147.9 L578.8,144.2 L579.4,142.8 L580.0,143.3 L580.6,141.3 L581.2,141.1 L581.8,139.1 L582.4,141.8 L583.0,144.7 L583.6,148.0 L584.2,150.5 L584.8,149.8 L585.4,150.9 L586.0,152.6 L586.6,153.3 L587.2,141.3 L587.8,142.5 L588.4,148.2 L589.0,144.1 L589.6,148.0 L590.2,148.0 L590.8,147.4 L591.4,147.7 L592.0,149.7 L592.6,153.3 L593.2,164.1 L593.8,167.7 L594.4,161.6 L595.0,160.2 L595.6,162.2 L596.2,165.6 L596.8,148.4 L597.4,141.3 L598.0,151.3 L598.6,155.2 L599.2,148.3 L599.8,152.3 L600.4,161.5 L601.0,165.8 L601.6,165.9 L602.2,162.9 L602.8,159.8 L603.4,165.8 L604.0,155.2 L604.6,156.4 L605.2,156.1 L605.8,158.3 L606.4,164.5 L607.0,165.5 L607.6,158.3 L608.2,150.7 L608.8,155.2 L609.4,153.9 L610.0,170.5 L610.6,152.3 L611.2,139.3 L611.8,139.2 L612.4,145.7 L613.0,137.9 L613.6,147.1 L614.2,148.5 L614.8,151.9 L615.4,151.3 L616.0,151.1 L616.6,150.7 L617.2,146.5 L617.8,152.6 L618.4,142.0 L619.0,141.6 L619.6,157.9 L620.2,150.0 L620.8,153.6 L621.4,140.1 L622.0,156.8 L622.6,137.2 L623.2,147.2 L623.8,151.6 L624.4,152.8 L625.0,151.1 L625.6,163.2 L626.2,160.7 L626.8,161.7 L627.4,168.2 L628.0,170.4 L628.6,159.7 L629.2,162.4 L629.8,172.8 L630.4,173.5 L631.0,173.9 L631.6,176.5 L632.2,176.2 L632.8,172.8 L633.4,182.3 L634.0,184.2 L634.6,187.2 L635.2,188.8 L635.8,186.9 L636.4,185.2 L637.0,180.4 L637.4,180.9" fill="none" stroke="#5B9BD5" stroke-width="1.15" stroke-linejoin="round"/>
<path d="M502.0,178.5 L502.6,178.2 L503.2,178.0 L503.8,177.7 L504.4,177.5 L505.0,177.2 L505.6,177.0 L506.2,176.7 L506.8,176.5 L507.4,176.2 L508.0,176.0 L508.6,175.7 L509.2,175.5 L509.8,175.2 L510.4,175.0 L511.0,174.7 L511.6,174.5 L512.2,174.3 L512.8,174.1 L513.4,173.9 L514.0,173.8 L514.6,173.6 L515.2,173.5 L515.8,173.4 L516.4,173.3 L517.0,173.2 L517.6,173.1 L518.2,173.0 L518.8,173.0 L519.4,172.9 L520.0,172.9 L520.6,172.8 L521.2,172.8 L521.8,172.7 L522.4,172.7 L523.0,172.6 L523.6,172.6 L524.2,172.6 L524.8,172.5 L525.4,172.5 L526.0,172.4 L526.6,172.4 L527.2,172.3 L527.8,172.3 L528.4,172.2 L529.0,172.2 L529.6,172.1 L530.2,172.1 L530.8,172.0 L531.4,171.9 L532.0,171.9 L532.6,171.8 L533.2,171.8 L533.8,171.7 L534.4,171.6 L535.0,171.6 L535.6,171.5 L536.2,171.4 L536.8,171.3 L537.4,171.3 L538.0,171.2 L538.6,171.1 L539.2,171.0 L539.8,170.9 L540.4,170.8 L541.0,170.7 L541.6,170.6 L542.2,170.5 L542.8,170.4 L543.4,170.3 L544.0,170.2 L544.6,170.1 L545.2,169.9 L545.8,169.8 L546.4,169.6 L547.0,169.5 L547.6,169.3 L548.2,169.2 L548.8,169.0 L549.4,168.8 L550.0,168.5 L550.6,168.3 L551.2,168.0 L551.8,167.8 L552.4,167.8 L553.0,168.0 L553.6,168.0 L554.2,167.9 L554.8,167.7 L555.4,167.1 L556.0,166.2 L556.6,165.1 L557.2,164.6 L557.8,165.4 L558.4,166.6 L559.0,167.3 L559.6,167.2 L560.2,166.0 L560.8,164.0 L561.4,163.1 L562.0,164.2 L562.6,164.7 L563.2,165.4 L563.8,164.1 L564.4,165.2 L565.0,163.8 L565.6,163.4 L566.2,164.7 L566.8,165.2 L567.4,164.4 L568.0,164.9 L568.6,161.1 L569.2,157.3 L569.8,154.1 L570.4,153.4 L571.0,160.3 L571.6,159.8 L572.2,158.3 L572.8,156.9 L573.4,153.5 L574.0,155.9 L574.6,151.0 L575.2,151.2 L575.8,154.0 L576.4,159.0 L577.0,157.7 L577.6,154.4 L578.2,157.3 L578.8,154.9 L579.4,155.5 L580.0,150.0 L580.6,147.7 L581.2,156.8 L581.8,151.8 L582.4,155.8 L583.0,152.2 L583.6,147.3 L584.2,148.8 L584.8,145.7 L585.4,147.2 L586.0,140.7 L586.6,138.2 L587.2,134.1 L587.8,133.1 L588.4,133.8 L589.0,129.9 L589.6,128.8 L590.2,130.7 L590.8,130.8 L591.4,138.0 L592.0,138.3 L592.6,133.6 L593.2,140.4 L593.8,135.5 L594.4,134.1 L595.0,132.0 L595.6,132.5 L596.2,134.9 L596.8,135.5 L597.4,137.7 L598.0,138.8 L598.6,129.6 L599.2,138.6 L599.8,140.2 L600.4,136.5 L601.0,148.5 L601.6,145.9 L602.2,144.0 L602.8,137.5 L603.4,136.5 L604.0,147.1 L604.6,151.5 L605.2,155.7 L605.8,145.7 L606.4,144.3 L607.0,142.1 L607.6,139.0 L608.2,150.0 L608.8,145.1 L609.4,148.6 L610.0,150.0 L610.6,149.5 L611.2,150.1 L611.8,151.5 L612.4,150.8 L613.0,152.1 L613.6,152.5 L614.2,154.0 L614.8,143.8 L615.4,134.4 L616.0,130.8 L616.6,138.1 L617.2,141.6 L617.8,145.8 L618.4,141.2 L619.0,151.2 L619.6,140.3 L620.2,142.5 L620.8,144.2 L621.4,147.0 L622.0,141.5 L622.6,139.2 L623.2,137.1 L623.8,143.4 L624.4,138.1 L625.0,141.6 L625.6,141.5 L626.2,139.4 L626.8,138.9 L627.4,141.1 L628.0,140.0 L628.6,140.1 L629.2,143.8 L629.8,151.2 L630.4,145.6 L631.0,148.9 L631.6,147.7 L632.2,160.3 L632.8,138.1 L633.4,149.8 L634.0,146.8 L634.6,138.4 L635.2,139.8 L635.8,150.0 L636.4,158.9 L637.0,165.4 L637.4,158.8" fill="none" stroke="#ED7D31" stroke-width="1.15" stroke-linejoin="round"/>
<path d="M502.0,174.0 L502.6,174.0 L503.2,173.9 L503.8,173.9 L504.4,173.9 L505.0,173.9 L505.6,173.8 L506.2,173.8 L506.8,173.8 L507.4,173.8 L508.0,173.7 L508.6,173.7 L509.2,173.7 L509.8,173.6 L510.4,173.6 L511.0,173.6 L511.6,173.6 L512.2,173.5 L512.8,173.5 L513.4,173.5 L514.0,173.4 L514.6,173.4 L515.2,173.4 L515.8,173.3 L516.4,173.3 L517.0,173.3 L517.6,173.2 L518.2,173.2 L518.8,173.2 L519.4,173.1 L520.0,173.1 L520.6,173.1 L521.2,173.0 L521.8,173.0 L522.4,173.0 L523.0,172.9 L523.6,172.9 L524.2,172.9 L524.8,172.8 L525.4,172.8 L526.0,172.8 L526.6,172.7 L527.2,172.7 L527.8,172.6 L528.4,172.6 L529.0,172.6 L529.6,172.5 L530.2,172.5 L530.8,172.4 L531.4,172.4 L532.0,172.4 L532.6,172.3 L533.2,172.3 L533.8,172.2 L534.4,172.2 L535.0,172.2 L535.6,172.1 L536.2,172.1 L536.8,172.0 L537.4,172.0 L538.0,172.0 L538.6,171.9 L539.2,171.9 L539.8,171.8 L540.4,171.8 L541.0,171.7 L541.6,171.7 L542.2,171.6 L542.8,171.5 L543.4,171.4 L544.0,171.3 L544.6,171.2 L545.2,171.0 L545.8,170.9 L546.4,170.9 L547.0,170.9 L547.6,170.9 L548.2,171.1 L548.8,171.3 L549.4,171.5 L550.0,171.7 L550.6,171.8 L551.2,171.8 L551.8,171.8 L552.4,171.7 L553.0,171.4 L553.6,171.1 L554.2,170.7 L554.8,170.3 L555.4,169.7 L556.0,169.4 L556.6,169.4 L557.2,169.5 L557.8,169.5 L558.4,169.1 L559.0,168.9 L559.6,168.4 L560.2,168.2 L560.8,167.0 L561.4,167.4 L562.0,166.8 L562.6,166.4 L563.2,167.4 L563.8,167.3 L564.4,167.6 L565.0,167.4 L565.6,165.5 L566.2,165.5 L566.8,165.0 L567.4,164.6 L568.0,164.2 L568.6,164.3 L569.2,164.1 L569.8,163.7 L570.4,160.4 L571.0,159.8 L571.6,158.5 L572.2,162.6 L572.8,162.8 L573.4,164.4 L574.0,166.8 L574.6,164.5 L575.2,162.3 L575.8,159.5 L576.4,161.3 L577.0,160.0 L577.6,160.6 L578.2,163.3 L578.8,165.4 L579.4,165.3 L580.0,165.0 L580.6,165.4 L581.2,165.4 L581.8,165.5 L582.4,167.5 L583.0,165.9 L583.6,170.3 L584.2,167.8 L584.8,171.0 L585.4,171.2 L586.0,172.5 L586.6,167.2 L587.2,170.6 L587.8,172.1 L588.4,171.5 L589.0,170.9 L589.6,170.7 L590.2,171.0 L590.8,170.9 L591.4,167.6 L592.0,166.9 L592.6,165.9 L593.2,158.0 L593.8,155.7 L594.4,151.1 L595.0,148.1 L595.6,153.0 L596.2,151.8 L596.8,159.2 L597.4,153.4 L598.0,146.5 L598.6,159.7 L599.2,154.8 L599.8,152.6 L600.4,147.6 L601.0,166.5 L601.6,166.6 L602.2,166.4 L602.8,161.0 L603.4,167.8 L604.0,168.3 L604.6,161.8 L605.2,148.7 L605.8,155.7 L606.4,151.3 L607.0,154.0 L607.6,151.5 L608.2,146.8 L608.8,142.8 L609.4,149.7 L610.0,143.0 L610.6,134.1 L611.2,131.9 L611.8,129.5 L612.4,142.4 L613.0,125.2 L613.6,128.8 L614.2,127.0 L614.8,127.5 L615.4,137.1 L616.0,126.1 L616.6,122.3 L617.2,124.1 L617.8,113.5 L618.4,115.2 L619.0,119.6 L619.6,118.1 L620.2,119.4 L620.8,120.0 L621.4,119.1 L622.0,118.4 L622.6,117.0 L623.2,117.7 L623.8,115.3 L624.4,115.6 L625.0,116.1 L625.6,118.4 L626.2,119.8 L626.8,122.9 L627.4,122.6 L628.0,126.1 L628.6,128.9 L629.2,125.6 L629.8,128.4 L630.4,147.3 L631.0,138.8 L631.6,145.7 L632.2,153.5 L632.8,150.8 L633.4,157.2 L634.0,159.9 L634.6,159.7 L635.2,162.2 L635.8,150.0 L636.4,162.5 L637.0,177.8 L637.4,176.2" fill="none" stroke="#A5A5A5" stroke-width="1.15" stroke-linejoin="round"/>
<path d="M502.0,170.0 L502.6,170.2 L503.2,170.5 L503.8,170.7 L504.4,170.8 L505.0,171.0 L505.6,171.1 L506.2,171.3 L506.8,171.4 L507.4,171.4 L508.0,171.5 L508.6,171.5 L509.2,171.5 L509.8,171.5 L510.4,171.5 L511.0,171.4 L511.6,171.2 L512.2,171.0 L512.8,170.8 L513.4,170.5 L514.0,170.3 L514.6,169.9 L515.2,169.6 L515.8,169.2 L516.4,168.9 L517.0,168.5 L517.6,168.1 L518.2,167.7 L518.8,167.2 L519.4,166.8 L520.0,166.3 L520.6,165.8 L521.2,165.3 L521.8,164.8 L522.4,164.3 L523.0,163.8 L523.6,163.3 L524.2,162.8 L524.8,162.4 L525.4,161.9 L526.0,161.4 L526.6,160.9 L527.2,160.4 L527.8,159.9 L528.4,159.3 L529.0,158.8 L529.6,158.2 L530.2,157.5 L530.8,156.8 L531.4,156.1 L532.0,155.4 L532.6,154.5 L533.2,153.6 L533.8,152.7 L534.4,151.8 L535.0,150.9 L535.6,150.0 L536.2,149.1 L536.8,148.3 L537.4,147.5 L538.0,146.7 L538.6,146.0 L539.2,145.3 L539.8,144.5 L540.4,143.7 L541.0,142.7 L541.6,141.7 L542.2,140.4 L542.8,139.2 L543.4,138.4 L544.0,138.3 L544.6,138.8 L545.2,139.8 L545.8,140.9 L546.4,142.2 L547.0,143.6 L547.6,145.0 L548.2,146.5 L548.8,148.1 L549.4,149.7 L550.0,151.2 L550.6,152.7 L551.2,154.2 L551.8,155.4 L552.4,156.4 L553.0,157.0 L553.6,157.2 L554.2,157.0 L554.8,156.5 L555.4,155.8 L556.0,155.0 L556.6,154.6 L557.2,154.4 L557.8,154.1 L558.4,153.2 L559.0,151.8 L559.6,150.8 L560.2,150.2 L560.8,149.7 L561.4,149.4 L562.0,149.3 L562.6,149.6 L563.2,150.1 L563.8,147.9 L564.4,146.7 L565.0,144.0 L565.6,142.7 L566.2,142.6 L566.8,143.0 L567.4,143.2 L568.0,144.2 L568.6,144.5 L569.2,149.0 L569.8,150.7 L570.4,150.8 L571.0,152.1 L571.6,150.0 L572.2,151.7 L572.8,149.5 L573.4,154.7 L574.0,154.1 L574.6,155.1 L575.2,155.1 L575.8,154.9 L576.4,155.3 L577.0,153.9 L577.6,154.6 L578.2,153.7 L578.8,152.4 L579.4,152.3 L580.0,150.3 L580.6,147.0 L581.2,144.5 L581.8,142.2 L582.4,147.3 L583.0,139.3 L583.6,144.5 L584.2,134.9 L584.8,144.3 L585.4,139.1 L586.0,155.8 L586.6,151.8 L587.2,150.0 L587.8,150.0 L588.4,150.4 L589.0,150.2 L589.6,148.3 L590.2,152.7 L590.8,146.5 L591.4,156.7 L592.0,147.0 L592.6,147.7 L593.2,152.1 L593.8,161.5 L594.4,160.5 L595.0,159.5 L595.6,155.6 L596.2,151.7 L596.8,137.3 L597.4,148.3 L598.0,149.4 L598.6,157.9 L599.2,147.9 L599.8,152.3 L600.4,144.2 L601.0,139.3 L601.6,137.6 L602.2,147.1 L602.8,143.8 L603.4,138.0 L604.0,155.9 L604.6,149.1 L605.2,148.1 L605.8,169.1 L606.4,167.3 L607.0,159.5 L607.6,166.5 L608.2,162.4 L608.8,157.4 L609.4,150.4 L610.0,158.3 L610.6,158.9 L611.2,155.2 L611.8,152.0 L612.4,165.3 L613.0,158.1 L613.6,155.7 L614.2,164.7 L614.8,167.9 L615.4,154.8 L616.0,140.4 L616.6,160.3 L617.2,156.0 L617.8,160.3 L618.4,154.2 L619.0,151.5 L619.6,154.0 L620.2,165.2 L620.8,168.0 L621.4,166.4 L622.0,170.2 L622.6,157.7 L623.2,146.9 L623.8,145.3 L624.4,155.1 L625.0,155.1 L625.6,157.2 L626.2,155.9 L626.8,151.3 L627.4,152.3 L628.0,143.5 L628.6,151.6 L629.2,150.0 L629.8,155.8 L630.4,155.5 L631.0,154.7 L631.6,159.6 L632.2,164.4 L632.8,168.4 L633.4,161.5 L634.0,168.3 L634.6,173.7 L635.2,171.7 L635.8,172.2 L636.4,177.7 L637.0,168.9 L637.4,175.9" fill="none" stroke="#FFC000" stroke-width="1.15" stroke-linejoin="round"/>
<path d="M502.0,165.5 L502.6,165.6 L503.2,165.8 L503.8,165.9 L504.4,166.1 L505.0,166.2 L505.6,166.4 L506.2,166.5 L506.8,166.7 L507.4,166.8 L508.0,167.0 L508.6,167.1 L509.2,167.3 L509.8,167.4 L510.4,167.6 L511.0,167.8 L511.6,167.9 L512.2,168.1 L512.8,168.3 L513.4,168.4 L514.0,168.6 L514.6,168.7 L515.2,168.9 L515.8,169.0 L516.4,169.1 L517.0,169.2 L517.6,169.3 L518.2,169.4 L518.8,169.4 L519.4,169.5 L520.0,169.5 L520.6,169.6 L521.2,169.6 L521.8,169.7 L522.4,169.7 L523.0,169.8 L523.6,169.8 L524.2,169.8 L524.8,169.8 L525.4,169.9 L526.0,169.9 L526.6,169.9 L527.2,169.9 L527.8,169.9 L528.4,169.9 L529.0,170.0 L529.6,170.0 L530.2,170.0 L530.8,170.0 L531.4,170.0 L532.0,170.1 L532.6,170.1 L533.2,170.1 L533.8,170.0 L534.4,170.0 L535.0,170.0 L535.6,169.9 L536.2,169.9 L536.8,169.8 L537.4,169.7 L538.0,169.5 L538.6,169.4 L539.2,169.2 L539.8,169.0 L540.4,168.8 L541.0,168.5 L541.6,168.2 L542.2,167.9 L542.8,167.4 L543.4,166.9 L544.0,166.4 L544.6,165.8 L545.2,165.2 L545.8,164.7 L546.4,164.1 L547.0,163.5 L547.6,162.9 L548.2,162.3 L548.8,161.7 L549.4,161.0 L550.0,160.4 L550.6,159.7 L551.2,159.0 L551.8,158.3 L552.4,157.3 L553.0,156.1 L553.6,155.1 L554.2,154.3 L554.8,153.6 L555.4,152.6 L556.0,150.8 L556.6,148.4 L557.2,146.1 L557.8,143.9 L558.4,141.7 L559.0,139.5 L559.6,137.4 L560.2,135.1 L560.8,133.5 L561.4,132.5 L562.0,132.0 L562.6,132.3 L563.2,133.9 L563.8,135.9 L564.4,138.6 L565.0,141.4 L565.6,143.6 L566.2,145.5 L566.8,146.2 L567.4,147.5 L568.0,148.0 L568.6,148.4 L569.2,149.6 L569.8,149.4 L570.4,145.9 L571.0,143.1 L571.6,141.6 L572.2,145.2 L572.8,149.2 L573.4,148.1 L574.0,142.4 L574.6,147.5 L575.2,142.7 L575.8,143.1 L576.4,139.3 L577.0,138.4 L577.6,140.8 L578.2,130.6 L578.8,129.6 L579.4,128.0 L580.0,126.3 L580.6,125.7 L581.2,122.5 L581.8,122.7 L582.4,120.4 L583.0,120.0 L583.6,120.3 L584.2,121.9 L584.8,118.9 L585.4,115.9 L586.0,117.3 L586.6,116.2 L587.2,123.8 L587.8,125.7 L588.4,131.8 L589.0,126.6 L589.6,127.3 L590.2,122.7 L590.8,132.1 L591.4,134.1 L592.0,132.0 L592.6,133.1 L593.2,133.1 L593.8,131.6 L594.4,129.7 L595.0,128.0 L595.6,123.0 L596.2,122.8 L596.8,122.0 L597.4,122.7 L598.0,121.2 L598.6,117.9 L599.2,118.3 L599.8,115.4 L600.4,113.3 L601.0,112.5 L601.6,114.2 L602.2,113.7 L602.8,113.0 L603.4,113.4 L604.0,117.6 L604.6,124.5 L605.2,128.6 L605.8,121.6 L606.4,122.2 L607.0,125.0 L607.6,128.3 L608.2,128.4 L608.8,130.2 L609.4,124.1 L610.0,138.8 L610.6,149.1 L611.2,142.1 L611.8,144.7 L612.4,146.7 L613.0,138.2 L613.6,145.0 L614.2,144.4 L614.8,151.1 L615.4,134.6 L616.0,138.9 L616.6,152.4 L617.2,153.9 L617.8,135.5 L618.4,137.4 L619.0,140.5 L619.6,150.1 L620.2,142.6 L620.8,140.4 L621.4,140.4 L622.0,132.5 L622.6,136.9 L623.2,147.5 L623.8,147.4 L624.4,134.4 L625.0,129.4 L625.6,145.7 L626.2,145.7 L626.8,148.5 L627.4,155.2 L628.0,146.6 L628.6,158.8 L629.2,161.0 L629.8,145.8 L630.4,146.8 L631.0,138.0 L631.6,144.9 L632.2,143.7 L632.8,143.1 L633.4,143.2 L634.0,140.7 L634.6,149.2 L635.2,149.9 L635.8,152.6 L636.4,161.2 L637.0,161.5 L637.4,148.8" fill="none" stroke="#4472C4" stroke-width="1.15" stroke-linejoin="round"/>
<path d="M502.0,167.5 L502.6,167.7 L503.2,167.8 L503.8,168.0 L504.4,168.1 L505.0,168.3 L505.6,168.5 L506.2,168.6 L506.8,168.8 L507.4,168.9 L508.0,169.0 L508.6,169.2 L509.2,169.3 L509.8,169.5 L510.4,169.6 L511.0,169.7 L511.6,169.8 L512.2,170.0 L512.8,170.1 L513.4,170.2 L514.0,170.3 L514.6,170.4 L515.2,170.5 L515.8,170.6 L516.4,170.7 L517.0,170.8 L517.6,170.9 L518.2,170.9 L518.8,171.0 L519.4,171.1 L520.0,171.2 L520.6,171.2 L521.2,171.3 L521.8,171.3 L522.4,171.4 L523.0,171.4 L523.6,171.4 L524.2,171.5 L524.8,171.5 L525.4,171.5 L526.0,171.5 L526.6,171.5 L527.2,171.5 L527.8,171.5 L528.4,171.5 L529.0,171.5 L529.6,171.5 L530.2,171.4 L530.8,171.4 L531.4,171.4 L532.0,171.3 L532.6,171.3 L533.2,171.2 L533.8,171.1 L534.4,171.1 L535.0,171.0 L535.6,170.9 L536.2,170.8 L536.8,170.7 L537.4,170.6 L538.0,170.5 L538.6,170.4 L539.2,170.3 L539.8,170.2 L540.4,170.1 L541.0,170.0 L541.6,169.8 L542.2,169.7 L542.8,169.6 L543.4,169.5 L544.0,169.3 L544.6,169.2 L545.2,169.0 L545.8,168.8 L546.4,168.5 L547.0,168.2 L547.6,167.9 L548.2,167.6 L548.8,167.3 L549.4,167.1 L550.0,166.8 L550.6,166.5 L551.2,166.2 L551.8,165.9 L552.4,165.6 L553.0,165.2 L553.6,164.8 L554.2,164.7 L554.8,164.9 L555.4,165.4 L556.0,165.3 L556.6,164.7 L557.2,163.7 L557.8,163.3 L558.4,163.4 L559.0,163.5 L559.6,163.6 L560.2,163.0 L560.8,163.0 L561.4,163.8 L562.0,163.3 L562.6,163.2 L563.2,162.7 L563.8,161.4 L564.4,159.4 L565.0,158.5 L565.6,154.8 L566.2,154.1 L566.8,151.5 L567.4,149.5 L568.0,148.8 L568.6,145.9 L569.2,144.5 L569.8,143.8 L570.4,143.2 L571.0,143.7 L571.6,138.6 L572.2,137.8 L572.8,136.6 L573.4,136.3 L574.0,137.3 L574.6,137.2 L575.2,141.3 L575.8,144.4 L576.4,147.4 L577.0,149.4 L577.6,149.6 L578.2,148.6 L578.8,155.1 L579.4,152.2 L580.0,153.2 L580.6,150.6 L581.2,152.0 L581.8,152.1 L582.4,152.0 L583.0,151.7 L583.6,151.6 L584.2,146.8 L584.8,142.4 L585.4,148.3 L586.0,140.7 L586.6,146.9 L587.2,141.1 L587.8,154.2 L588.4,154.0 L589.0,153.1 L589.6,149.2 L590.2,140.8 L590.8,151.2 L591.4,149.0 L592.0,150.5 L592.6,160.0 L593.2,142.1 L593.8,150.1 L594.4,143.3 L595.0,153.9 L595.6,148.1 L596.2,154.2 L596.8,142.7 L597.4,143.1 L598.0,135.8 L598.6,145.4 L599.2,149.1 L599.8,155.7 L600.4,152.3 L601.0,148.0 L601.6,149.8 L602.2,142.9 L602.8,146.2 L603.4,135.4 L604.0,130.1 L604.6,129.4 L605.2,124.4 L605.8,123.0 L606.4,122.2 L607.0,123.4 L607.6,123.8 L608.2,121.7 L608.8,121.7 L609.4,118.4 L610.0,115.9 L610.6,116.1 L611.2,117.4 L611.8,116.1 L612.4,116.6 L613.0,117.9 L613.6,120.6 L614.2,120.9 L614.8,122.1 L615.4,118.1 L616.0,118.2 L616.6,114.9 L617.2,114.0 L617.8,116.3 L618.4,114.5 L619.0,114.8 L619.6,116.0 L620.2,117.7 L620.8,121.3 L621.4,120.2 L622.0,128.2 L622.6,119.1 L623.2,120.1 L623.8,124.2 L624.4,128.6 L625.0,146.8 L625.6,144.1 L626.2,145.5 L626.8,140.5 L627.4,135.0 L628.0,149.8 L628.6,146.6 L629.2,152.4 L629.8,146.1 L630.4,149.4 L631.0,143.5 L631.6,149.5 L632.2,148.7 L632.8,165.9 L633.4,150.8 L634.0,158.9 L634.6,153.8 L635.2,153.7 L635.8,156.6 L636.4,167.8 L637.0,163.4 L637.4,159.3" fill="none" stroke="#70AD47" stroke-width="1.15" stroke-linejoin="round"/>
<path d="M502.0,172.5 L502.6,172.6 L503.2,172.8 L503.8,172.9 L504.4,173.0 L505.0,173.2 L505.6,173.3 L506.2,173.4 L506.8,173.5 L507.4,173.7 L508.0,173.8 L508.6,173.9 L509.2,174.0 L509.8,174.1 L510.4,174.2 L511.0,174.3 L511.6,174.4 L512.2,174.5 L512.8,174.6 L513.4,174.7 L514.0,174.7 L514.6,174.8 L515.2,174.9 L515.8,174.9 L516.4,175.0 L517.0,175.1 L517.6,175.1 L518.2,175.2 L518.8,175.2 L519.4,175.3 L520.0,175.3 L520.6,175.3 L521.2,175.4 L521.8,175.4 L522.4,175.4 L523.0,175.4 L523.6,175.4 L524.2,175.4 L524.8,175.4 L525.4,175.4 L526.0,175.4 L526.6,175.3 L527.2,175.3 L527.8,175.3 L528.4,175.2 L529.0,175.2 L529.6,175.1 L530.2,175.0 L530.8,175.0 L531.4,174.9 L532.0,174.8 L532.6,174.7 L533.2,174.6 L533.8,174.5 L534.4,174.4 L535.0,174.3 L535.6,174.1 L536.2,174.0 L536.8,173.9 L537.4,173.8 L538.0,173.6 L538.6,173.5 L539.2,173.4 L539.8,173.2 L540.4,173.1 L541.0,173.0 L541.6,172.8 L542.2,172.7 L542.8,172.6 L543.4,172.5 L544.0,172.4 L544.6,172.2 L545.2,172.0 L545.8,171.9 L546.4,171.8 L547.0,171.7 L547.6,171.6 L548.2,171.5 L548.8,171.4 L549.4,171.3 L550.0,171.1 L550.6,170.9 L551.2,170.5 L551.8,170.1 L552.4,169.7 L553.0,169.4 L553.6,169.1 L554.2,169.1 L554.8,169.2 L555.4,169.1 L556.0,169.2 L556.6,169.6 L557.2,170.1 L557.8,170.4 L558.4,170.4 L559.0,169.9 L559.6,168.7 L560.2,167.2 L560.8,165.9 L561.4,165.3 L562.0,164.6 L562.6,166.1 L563.2,163.9 L563.8,162.2 L564.4,160.2 L565.0,160.7 L565.6,160.5 L566.2,161.1 L566.8,162.4 L567.4,162.9 L568.0,162.7 L568.6,161.8 L569.2,159.4 L569.8,158.6 L570.4,160.0 L571.0,165.1 L571.6,162.4 L572.2,162.3 L572.8,162.9 L573.4,162.5 L574.0,162.1 L574.6,163.4 L575.2,163.3 L575.8,164.7 L576.4,163.3 L577.0,161.7 L577.6,163.4 L578.2,162.6 L578.8,158.3 L579.4,159.6 L580.0,160.0 L580.6,161.1 L581.2,163.0 L581.8,165.0 L582.4,166.7 L583.0,163.0 L583.6,170.2 L584.2,170.2 L584.8,171.3 L585.4,171.9 L586.0,171.3 L586.6,171.3 L587.2,170.9 L587.8,169.7 L588.4,166.1 L589.0,168.9 L589.6,171.7 L590.2,162.5 L590.8,166.6 L591.4,159.5 L592.0,157.3 L592.6,150.2 L593.2,154.7 L593.8,163.9 L594.4,157.3 L595.0,155.1 L595.6,158.3 L596.2,156.5 L596.8,151.0 L597.4,140.2 L598.0,152.7 L598.6,152.6 L599.2,156.9 L599.8,165.0 L600.4,161.7 L601.0,166.3 L601.6,166.5 L602.2,157.5 L602.8,158.8 L603.4,152.0 L604.0,163.4 L604.6,158.2 L605.2,155.1 L605.8,154.8 L606.4,156.4 L607.0,155.6 L607.6,154.1 L608.2,143.6 L608.8,146.4 L609.4,148.5 L610.0,155.3 L610.6,151.4 L611.2,145.7 L611.8,143.2 L612.4,146.8 L613.0,148.8 L613.6,144.6 L614.2,146.2 L614.8,138.3 L615.4,131.8 L616.0,141.9 L616.6,144.1 L617.2,135.3 L617.8,129.4 L618.4,138.7 L619.0,131.6 L619.6,138.9 L620.2,138.7 L620.8,143.2 L621.4,149.8 L622.0,138.3 L622.6,136.2 L623.2,140.3 L623.8,144.4 L624.4,143.2 L625.0,143.5 L625.6,142.5 L626.2,141.3 L626.8,135.8 L627.4,139.2 L628.0,136.3 L628.6,146.4 L629.2,139.6 L629.8,146.6 L630.4,141.8 L631.0,143.9 L631.6,138.5 L632.2,138.2 L632.8,140.6 L633.4,136.4 L634.0,140.3 L634.6,132.1 L635.2,135.5 L635.8,146.8 L636.4,143.8 L637.0,164.8 L637.4,149.2" fill="none" stroke="#255E91" stroke-width="1.15" stroke-linejoin="round"/>
<path d="M502.0,169.0 L502.6,169.2 L503.2,169.4 L503.8,169.6 L504.4,169.8 L505.0,170.0 L505.6,170.2 L506.2,170.3 L506.8,170.5 L507.4,170.6 L508.0,170.8 L508.6,170.9 L509.2,171.0 L509.8,171.1 L510.4,171.2 L511.0,171.3 L511.6,171.3 L512.2,171.4 L512.8,171.4 L513.4,171.5 L514.0,171.5 L514.6,171.5 L515.2,171.5 L515.8,171.5 L516.4,171.4 L517.0,171.3 L517.6,171.3 L518.2,171.1 L518.8,171.0 L519.4,170.9 L520.0,170.7 L520.6,170.5 L521.2,170.3 L521.8,170.1 L522.4,169.9 L523.0,169.7 L523.6,169.4 L524.2,169.2 L524.8,168.9 L525.4,168.7 L526.0,168.4 L526.6,168.1 L527.2,167.8 L527.8,167.5 L528.4,167.1 L529.0,166.8 L529.6,166.5 L530.2,166.1 L530.8,165.8 L531.4,165.4 L532.0,165.1 L532.6,164.8 L533.2,164.4 L533.8,164.1 L534.4,163.8 L535.0,163.5 L535.6,163.2 L536.2,162.9 L536.8,162.7 L537.4,162.4 L538.0,162.2 L538.6,162.0 L539.2,161.8 L539.8,161.6 L540.4,161.5 L541.0,161.3 L541.6,161.2 L542.2,161.0 L542.8,160.9 L543.4,160.7 L544.0,160.5 L544.6,160.2 L545.2,159.9 L545.8,159.6 L546.4,159.2 L547.0,158.7 L547.6,158.2 L548.2,157.7 L548.8,157.2 L549.4,156.6 L550.0,155.9 L550.6,155.1 L551.2,154.1 L551.8,152.9 L552.4,151.8 L553.0,150.6 L553.6,149.3 L554.2,148.1 L554.8,147.3 L555.4,147.4 L556.0,147.8 L556.6,148.2 L557.2,149.0 L557.8,150.6 L558.4,152.1 L559.0,152.6 L559.6,152.6 L560.2,154.1 L560.8,155.5 L561.4,157.5 L562.0,158.9 L562.6,161.3 L563.2,163.2 L563.8,159.6 L564.4,159.2 L565.0,159.3 L565.6,160.5 L566.2,160.5 L566.8,157.9 L567.4,156.8 L568.0,157.6 L568.6,159.7 L569.2,162.0 L569.8,163.7 L570.4,164.8 L571.0,167.4 L571.6,167.5 L572.2,167.0 L572.8,167.4 L573.4,168.1 L574.0,168.0 L574.6,164.0 L575.2,161.4 L575.8,163.5 L576.4,163.1 L577.0,164.7 L577.6,163.9 L578.2,166.2 L578.8,158.5 L579.4,155.9 L580.0,159.5 L580.6,162.7 L581.2,159.7 L581.8,168.4 L582.4,155.5 L583.0,158.2 L583.6,161.1 L584.2,155.6 L584.8,150.7 L585.4,149.0 L586.0,153.0 L586.6,151.3 L587.2,151.1 L587.8,152.1 L588.4,162.3 L589.0,155.6 L589.6,149.8 L590.2,151.4 L590.8,147.9 L591.4,148.7 L592.0,146.1 L592.6,153.5 L593.2,155.8 L593.8,150.7 L594.4,146.4 L595.0,141.1 L595.6,153.7 L596.2,141.0 L596.8,148.4 L597.4,142.8 L598.0,146.0 L598.6,135.7 L599.2,134.3 L599.8,148.3 L600.4,137.6 L601.0,142.3 L601.6,134.8 L602.2,141.8 L602.8,131.9 L603.4,135.0 L604.0,138.2 L604.6,139.9 L605.2,139.9 L605.8,138.8 L606.4,146.3 L607.0,143.8 L607.6,142.2 L608.2,131.8 L608.8,137.2 L609.4,129.1 L610.0,136.3 L610.6,142.7 L611.2,148.4 L611.8,143.1 L612.4,136.1 L613.0,136.6 L613.6,150.3 L614.2,146.7 L614.8,150.1 L615.4,154.2 L616.0,152.6 L616.6,148.8 L617.2,150.8 L617.8,151.6 L618.4,158.9 L619.0,142.1 L619.6,160.6 L620.2,152.5 L620.8,157.2 L621.4,147.7 L622.0,157.0 L622.6,158.2 L623.2,159.6 L623.8,159.5 L624.4,159.0 L625.0,154.9 L625.6,140.4 L626.2,154.1 L626.8,150.3 L627.4,145.4 L628.0,143.6 L628.6,156.8 L629.2,157.6 L629.8,149.8 L630.4,156.8 L631.0,161.5 L631.6,148.3 L632.2,155.4 L632.8,163.0 L633.4,160.9 L634.0,164.3 L634.6,164.4 L635.2,165.4 L635.8,169.9 L636.4,161.3 L637.0,163.4 L637.4,169.3" fill="none" stroke="#9E480E" stroke-width="1.15" stroke-linejoin="round"/>
<path d="M502.0,174.5 L502.6,174.5 L503.2,174.4 L503.8,174.4 L504.4,174.3 L505.0,174.3 L505.6,174.3 L506.2,174.2 L506.8,174.2 L507.4,174.1 L508.0,174.1 L508.6,174.0 L509.2,174.0 L509.8,173.9 L510.4,173.8 L511.0,173.8 L511.6,173.7 L512.2,173.7 L512.8,173.6 L513.4,173.5 L514.0,173.5 L514.6,173.4 L515.2,173.3 L515.8,173.3 L516.4,173.2 L517.0,173.1 L517.6,173.0 L518.2,173.0 L518.8,172.9 L519.4,172.8 L520.0,172.7 L520.6,172.6 L521.2,172.6 L521.8,172.5 L522.4,172.4 L523.0,172.3 L523.6,172.2 L524.2,172.1 L524.8,172.0 L525.4,171.9 L526.0,171.8 L526.6,171.7 L527.2,171.6 L527.8,171.5 L528.4,171.4 L529.0,171.3 L529.6,171.2 L530.2,171.1 L530.8,170.9 L531.4,170.8 L532.0,170.6 L532.6,170.5 L533.2,170.3 L533.8,170.2 L534.4,170.0 L535.0,169.8 L535.6,169.6 L536.2,169.4 L536.8,169.2 L537.4,169.0 L538.0,168.8 L538.6,168.6 L539.2,168.3 L539.8,168.1 L540.4,167.8 L541.0,167.5 L541.6,167.3 L542.2,166.9 L542.8,166.6 L543.4,166.2 L544.0,165.9 L544.6,165.6 L545.2,165.2 L545.8,164.9 L546.4,164.5 L547.0,164.1 L547.6,163.8 L548.2,163.4 L548.8,163.0 L549.4,162.6 L550.0,162.2 L550.6,161.8 L551.2,161.4 L551.8,160.8 L552.4,160.1 L553.0,159.5 L553.6,158.7 L554.2,157.8 L554.8,157.0 L555.4,156.7 L556.0,156.8 L556.6,156.9 L557.2,156.2 L557.8,154.8 L558.4,153.5 L559.0,152.7 L559.6,152.1 L560.2,151.4 L560.8,149.6 L561.4,147.7 L562.0,145.7 L562.6,144.6 L563.2,143.3 L563.8,143.7 L564.4,144.0 L565.0,143.3 L565.6,142.2 L566.2,141.0 L566.8,138.6 L567.4,138.5 L568.0,139.0 L568.6,136.6 L569.2,130.3 L569.8,127.8 L570.4,125.5 L571.0,121.9 L571.6,119.0 L572.2,116.4 L572.8,116.8 L573.4,113.1 L574.0,111.8 L574.6,111.3 L575.2,111.0 L575.8,110.1 L576.4,111.3 L577.0,112.1 L577.6,111.5 L578.2,111.2 L578.8,109.4 L579.4,109.7 L580.0,111.0 L580.6,112.1 L581.2,114.1 L581.8,120.0 L582.4,116.9 L583.0,112.7 L583.6,115.7 L584.2,114.4 L584.8,114.2 L585.4,113.9 L586.0,117.1 L586.6,116.9 L587.2,120.9 L587.8,122.3 L588.4,120.6 L589.0,118.5 L589.6,116.3 L590.2,115.9 L590.8,118.3 L591.4,124.7 L592.0,128.0 L592.6,132.8 L593.2,126.2 L593.8,121.4 L594.4,129.2 L595.0,132.7 L595.6,141.1 L596.2,143.5 L596.8,146.0 L597.4,139.8 L598.0,143.8 L598.6,140.7 L599.2,140.0 L599.8,144.5 L600.4,143.3 L601.0,142.4 L601.6,146.1 L602.2,145.8 L602.8,150.4 L603.4,144.5 L604.0,143.0 L604.6,156.2 L605.2,159.9 L605.8,157.7 L606.4,154.3 L607.0,152.3 L607.6,152.6 L608.2,142.6 L608.8,147.6 L609.4,150.4 L610.0,161.6 L610.6,159.8 L611.2,153.6 L611.8,157.5 L612.4,149.7 L613.0,146.4 L613.6,154.7 L614.2,150.2 L614.8,165.5 L615.4,153.1 L616.0,155.0 L616.6,154.0 L617.2,150.8 L617.8,156.6 L618.4,148.4 L619.0,152.1 L619.6,169.3 L620.2,148.6 L620.8,151.2 L621.4,154.7 L622.0,170.1 L622.6,169.2 L623.2,170.3 L623.8,168.9 L624.4,170.0 L625.0,168.0 L625.6,169.5 L626.2,169.1 L626.8,169.4 L627.4,170.5 L628.0,170.3 L628.6,165.2 L629.2,171.2 L629.8,171.5 L630.4,167.7 L631.0,171.3 L631.6,176.0 L632.2,176.2 L632.8,175.7 L633.4,179.7 L634.0,171.3 L634.6,169.6 L635.2,180.6 L635.8,162.7 L636.4,173.0 L637.0,174.2 L637.4,172.3" fill="none" stroke="#636363" stroke-width="1.15" stroke-linejoin="round"/>
<path d="M502.0,171.0 L502.6,171.1 L503.2,171.1 L503.8,171.2 L504.4,171.3 L505.0,171.3 L505.6,171.4 L506.2,171.4 L506.8,171.5 L507.4,171.5 L508.0,171.6 L508.6,171.6 L509.2,171.7 L509.8,171.7 L510.4,171.7 L511.0,171.8 L511.6,171.8 L512.2,171.8 L512.8,171.8 L513.4,171.8 L514.0,171.8 L514.6,171.8 L515.2,171.8 L515.8,171.8 L516.4,171.8 L517.0,171.7 L517.6,171.7 L518.2,171.7 L518.8,171.6 L519.4,171.6 L520.0,171.5 L520.6,171.4 L521.2,171.3 L521.8,171.2 L522.4,171.1 L523.0,171.0 L523.6,170.8 L524.2,170.6 L524.8,170.5 L525.4,170.3 L526.0,170.1 L526.6,169.9 L527.2,169.7 L527.8,169.5 L528.4,169.3 L529.0,169.0 L529.6,168.8 L530.2,168.6 L530.8,168.4 L531.4,168.2 L532.0,168.0 L532.6,167.8 L533.2,167.6 L533.8,167.4 L534.4,167.2 L535.0,166.9 L535.6,166.7 L536.2,166.4 L536.8,166.1 L537.4,165.8 L538.0,165.4 L538.6,165.0 L539.2,164.6 L539.8,164.1 L540.4,163.6 L541.0,163.0 L541.6,162.4 L542.2,161.7 L542.8,160.9 L543.4,160.0 L544.0,159.0 L544.6,157.9 L545.2,156.7 L545.8,155.6 L546.4,154.5 L547.0,153.5 L547.6,152.5 L548.2,151.6 L548.8,150.8 L549.4,150.0 L550.0,149.1 L550.6,148.1 L551.2,147.0 L551.8,145.8 L552.4,144.6 L553.0,143.3 L553.6,141.7 L554.2,139.9 L554.8,138.2 L555.4,136.6 L556.0,134.7 L556.6,132.6 L557.2,130.6 L557.8,128.5 L558.4,126.3 L559.0,124.5 L559.6,124.0 L560.2,125.1 L560.8,127.1 L561.4,129.3 L562.0,130.3 L562.6,130.3 L563.2,130.8 L563.8,133.3 L564.4,132.7 L565.0,132.7 L565.6,135.2 L566.2,134.9 L566.8,134.6 L567.4,137.4 L568.0,141.8 L568.6,143.8 L569.2,146.2 L569.8,147.7 L570.4,147.8 L571.0,145.2 L571.6,146.5 L572.2,148.1 L572.8,145.6 L573.4,145.9 L574.0,143.1 L574.6,141.4 L575.2,141.9 L575.8,146.0 L576.4,140.9 L577.0,140.5 L577.6,142.5 L578.2,138.7 L578.8,135.5 L579.4,128.0 L580.0,132.0 L580.6,130.0 L581.2,131.4 L581.8,130.4 L582.4,131.2 L583.0,132.1 L583.6,135.1 L584.2,137.3 L584.8,139.6 L585.4,139.8 L586.0,138.7 L586.6,132.1 L587.2,125.9 L587.8,136.0 L588.4,139.1 L589.0,128.2 L589.6,124.7 L590.2,127.7 L590.8,124.6 L591.4,120.0 L592.0,116.8 L592.6,116.5 L593.2,117.2 L593.8,119.1 L594.4,120.1 L595.0,122.8 L595.6,126.8 L596.2,128.0 L596.8,125.9 L597.4,125.9 L598.0,121.4 L598.6,119.9 L599.2,118.9 L599.8,114.6 L600.4,114.0 L601.0,114.7 L601.6,113.5 L602.2,114.2 L602.8,114.8 L603.4,131.9 L604.0,133.2 L604.6,138.0 L605.2,136.9 L605.8,138.9 L606.4,141.3 L607.0,126.8 L607.6,126.7 L608.2,141.8 L608.8,141.5 L609.4,144.9 L610.0,147.3 L610.6,162.0 L611.2,161.4 L611.8,170.8 L612.4,171.9 L613.0,172.2 L613.6,171.3 L614.2,167.2 L614.8,155.9 L615.4,154.3 L616.0,160.6 L616.6,151.9 L617.2,150.5 L617.8,144.9 L618.4,144.1 L619.0,148.2 L619.6,151.1 L620.2,144.6 L620.8,148.7 L621.4,149.3 L622.0,150.0 L622.6,149.3 L623.2,146.1 L623.8,141.2 L624.4,155.7 L625.0,148.9 L625.6,145.7 L626.2,145.1 L626.8,140.7 L627.4,143.3 L628.0,155.3 L628.6,159.5 L629.2,164.3 L629.8,164.5 L630.4,162.8 L631.0,147.9 L631.6,155.8 L632.2,151.7 L632.8,156.6 L633.4,153.9 L634.0,159.8 L634.6,160.2 L635.2,159.8 L635.8,150.8 L636.4,154.4 L637.0,159.6 L637.4,163.5" fill="none" stroke="#997300" stroke-width="1.15" stroke-linejoin="round"/>
<path d="M502.0,173.2 L502.6,173.3 L503.2,173.3 L503.8,173.4 L504.4,173.5 L505.0,173.5 L505.6,173.6 L506.2,173.6 L506.8,173.7 L507.4,173.7 L508.0,173.8 L508.6,173.9 L509.2,173.9 L509.8,173.9 L510.4,174.0 L511.0,174.0 L511.6,174.1 L512.2,174.1 L512.8,174.2 L513.4,174.2 L514.0,174.2 L514.6,174.3 L515.2,174.3 L515.8,174.3 L516.4,174.4 L517.0,174.4 L517.6,174.4 L518.2,174.4 L518.8,174.4 L519.4,174.5 L520.0,174.5 L520.6,174.5 L521.2,174.5 L521.8,174.5 L522.4,174.5 L523.0,174.5 L523.6,174.5 L524.2,174.5 L524.8,174.5 L525.4,174.5 L526.0,174.5 L526.6,174.5 L527.2,174.4 L527.8,174.4 L528.4,174.4 L529.0,174.4 L529.6,174.3 L530.2,174.3 L530.8,174.2 L531.4,174.2 L532.0,174.2 L532.6,174.1 L533.2,174.0 L533.8,174.0 L534.4,173.9 L535.0,173.9 L535.6,173.8 L536.2,173.7 L536.8,173.7 L537.4,173.6 L538.0,173.5 L538.6,173.4 L539.2,173.3 L539.8,173.3 L540.4,173.2 L541.0,173.1 L541.6,173.0 L542.2,172.9 L542.8,172.8 L543.4,172.7 L544.0,172.6 L544.6,172.6 L545.2,172.5 L545.8,172.5 L546.4,172.5 L547.0,172.5 L547.6,172.5 L548.2,172.4 L548.8,172.3 L549.4,172.1 L550.0,171.8 L550.6,171.5 L551.2,171.2 L551.8,170.7 L552.4,170.2 L553.0,170.1 L553.6,170.4 L554.2,170.7 L554.8,170.5 L555.4,170.0 L556.0,169.8 L556.6,169.9 L557.2,170.1 L557.8,170.2 L558.4,170.0 L559.0,169.8 L559.6,170.1 L560.2,169.2 L560.8,168.3 L561.4,167.8 L562.0,166.9 L562.6,166.9 L563.2,169.1 L563.8,168.0 L564.4,168.6 L565.0,169.9 L565.6,169.8 L566.2,168.8 L566.8,167.1 L567.4,166.0 L568.0,166.2 L568.6,166.2 L569.2,165.3 L569.8,162.9 L570.4,161.9 L571.0,164.2 L571.6,163.7 L572.2,166.5 L572.8,162.7 L573.4,164.0 L574.0,168.4 L574.6,168.0 L575.2,165.6 L575.8,163.0 L576.4,160.4 L577.0,161.9 L577.6,165.2 L578.2,162.3 L578.8,156.9 L579.4,156.0 L580.0,156.1 L580.6,159.4 L581.2,160.7 L581.8,163.3 L582.4,166.1 L583.0,155.1 L583.6,164.3 L584.2,160.0 L584.8,164.8 L585.4,162.7 L586.0,159.8 L586.6,165.0 L587.2,161.2 L587.8,160.5 L588.4,160.8 L589.0,159.4 L589.6,160.9 L590.2,160.3 L590.8,149.4 L591.4,152.6 L592.0,158.6 L592.6,162.9 L593.2,165.7 L593.8,156.0 L594.4,154.7 L595.0,152.1 L595.6,158.7 L596.2,151.1 L596.8,166.9 L597.4,150.8 L598.0,160.6 L598.6,161.0 L599.2,153.2 L599.8,148.6 L600.4,148.6 L601.0,151.7 L601.6,152.3 L602.2,152.2 L602.8,161.7 L603.4,154.9 L604.0,156.3 L604.6,162.7 L605.2,162.5 L605.8,156.0 L606.4,154.6 L607.0,148.0 L607.6,146.7 L608.2,153.6 L608.8,152.4 L609.4,141.2 L610.0,149.7 L610.6,143.2 L611.2,142.8 L611.8,141.0 L612.4,141.0 L613.0,144.2 L613.6,139.6 L614.2,138.3 L614.8,140.7 L615.4,140.7 L616.0,141.0 L616.6,144.8 L617.2,135.2 L617.8,139.1 L618.4,141.8 L619.0,140.3 L619.6,137.8 L620.2,137.8 L620.8,136.4 L621.4,136.7 L622.0,135.8 L622.6,130.0 L623.2,144.1 L623.8,138.0 L624.4,148.7 L625.0,147.6 L625.6,137.3 L626.2,136.1 L626.8,139.9 L627.4,146.0 L628.0,152.7 L628.6,157.2 L629.2,141.4 L629.8,140.4 L630.4,142.9 L631.0,145.5 L631.6,143.1 L632.2,142.0 L632.8,146.0 L633.4,139.0 L634.0,149.4 L634.6,141.4 L635.2,147.3 L635.8,152.5 L636.4,132.0 L637.0,145.9 L637.4,154.4" fill="none" stroke="#264478" stroke-width="1.15" stroke-linejoin="round"/>
<path d="M502.0,168.5 L502.6,168.6 L503.2,168.7 L503.8,168.8 L504.4,168.9 L505.0,169.0 L505.6,169.1 L506.2,169.2 L506.8,169.3 L507.4,169.4 L508.0,169.5 L508.6,169.6 L509.2,169.7 L509.8,169.8 L510.4,169.9 L511.0,169.9 L511.6,170.0 L512.2,170.1 L512.8,170.2 L513.4,170.2 L514.0,170.3 L514.6,170.4 L515.2,170.4 L515.8,170.5 L516.4,170.5 L517.0,170.6 L517.6,170.6 L518.2,170.7 L518.8,170.7 L519.4,170.8 L520.0,170.8 L520.6,170.8 L521.2,170.9 L521.8,170.9 L522.4,170.9 L523.0,171.0 L523.6,171.0 L524.2,171.0 L524.8,171.0 L525.4,171.0 L526.0,171.0 L526.6,171.0 L527.2,171.0 L527.8,171.0 L528.4,171.0 L529.0,170.9 L529.6,170.9 L530.2,170.9 L530.8,170.8 L531.4,170.8 L532.0,170.7 L532.6,170.7 L533.2,170.6 L533.8,170.5 L534.4,170.5 L535.0,170.4 L535.6,170.3 L536.2,170.2 L536.8,170.1 L537.4,170.0 L538.0,169.9 L538.6,169.7 L539.2,169.6 L539.8,169.5 L540.4,169.3 L541.0,169.2 L541.6,169.0 L542.2,168.8 L542.8,168.7 L543.4,168.5 L544.0,168.3 L544.6,168.0 L545.2,167.8 L545.8,167.6 L546.4,167.3 L547.0,167.1 L547.6,166.9 L548.2,166.7 L548.8,166.6 L549.4,166.4 L550.0,166.3 L550.6,166.2 L551.2,166.1 L551.8,165.9 L552.4,165.6 L553.0,165.3 L553.6,165.0 L554.2,164.6 L554.8,164.2 L555.4,163.8 L556.0,163.3 L556.6,162.8 L557.2,162.4 L557.8,161.8 L558.4,161.4 L559.0,161.8 L559.6,162.5 L560.2,162.4 L560.8,161.8 L561.4,160.9 L562.0,161.2 L562.6,161.9 L563.2,161.7 L563.8,161.0 L564.4,159.0 L565.0,158.1 L565.6,156.4 L566.2,152.5 L566.8,151.8 L567.4,151.1 L568.0,152.5 L568.6,154.7 L569.2,154.3 L569.8,156.0 L570.4,154.0 L571.0,154.8 L571.6,154.6 L572.2,155.9 L572.8,152.7 L573.4,154.9 L574.0,153.0 L574.6,151.8 L575.2,151.4 L575.8,150.8 L576.4,155.2 L577.0,154.0 L577.6,155.3 L578.2,153.9 L578.8,153.1 L579.4,145.2 L580.0,148.6 L580.6,149.0 L581.2,150.5 L581.8,153.3 L582.4,151.1 L583.0,151.8 L583.6,157.4 L584.2,149.1 L584.8,149.1 L585.4,145.8 L586.0,138.9 L586.6,146.7 L587.2,148.7 L587.8,152.1 L588.4,145.7 L589.0,151.1 L589.6,147.9 L590.2,147.6 L590.8,147.3 L591.4,151.6 L592.0,139.1 L592.6,134.0 L593.2,142.1 L593.8,140.3 L594.4,143.9 L595.0,143.7 L595.6,137.3 L596.2,141.5 L596.8,137.0 L597.4,136.6 L598.0,140.5 L598.6,141.4 L599.2,142.4 L599.8,142.6 L600.4,141.3 L601.0,145.1 L601.6,144.0 L602.2,157.2 L602.8,163.1 L603.4,154.0 L604.0,148.3 L604.6,138.6 L605.2,127.8 L605.8,121.4 L606.4,129.5 L607.0,122.9 L607.6,125.0 L608.2,135.4 L608.8,130.5 L609.4,118.8 L610.0,126.9 L610.6,120.8 L611.2,111.8 L611.8,110.9 L612.4,112.7 L613.0,109.2 L613.6,108.5 L614.2,109.1 L614.8,109.6 L615.4,111.2 L616.0,112.0 L616.6,112.6 L617.2,117.2 L617.8,123.0 L618.4,113.8 L619.0,124.7 L619.6,121.3 L620.2,126.7 L620.8,135.2 L621.4,129.9 L622.0,130.4 L622.6,138.3 L623.2,136.4 L623.8,149.0 L624.4,151.7 L625.0,138.9 L625.6,132.7 L626.2,131.9 L626.8,142.1 L627.4,142.3 L628.0,135.4 L628.6,144.4 L629.2,151.7 L629.8,156.4 L630.4,153.8 L631.0,141.8 L631.6,155.8 L632.2,159.4 L632.8,158.1 L633.4,167.2 L634.0,164.6 L634.6,163.5 L635.2,169.1 L635.8,168.1 L636.4,173.2 L637.0,172.3 L637.4,168.0" fill="none" stroke="#43682B" stroke-width="1.15" stroke-linejoin="round"/>
<path d="M502.0,169.5 L502.6,169.6 L503.2,169.7 L503.8,169.8 L504.4,169.9 L505.0,170.0 L505.6,170.1 L506.2,170.2 L506.8,170.3 L507.4,170.4 L508.0,170.4 L508.6,170.5 L509.2,170.6 L509.8,170.6 L510.4,170.7 L511.0,170.8 L511.6,170.8 L512.2,170.9 L512.8,170.9 L513.4,170.9 L514.0,171.0 L514.6,171.0 L515.2,171.0 L515.8,171.0 L516.4,171.0 L517.0,171.0 L517.6,171.0 L518.2,171.0 L518.8,171.0 L519.4,171.0 L520.0,171.0 L520.6,171.0 L521.2,170.9 L521.8,170.9 L522.4,170.8 L523.0,170.7 L523.6,170.7 L524.2,170.6 L524.8,170.4 L525.4,170.3 L526.0,170.2 L526.6,170.0 L527.2,169.9 L527.8,169.7 L528.4,169.6 L529.0,169.4 L529.6,169.2 L530.2,169.0 L530.8,168.8 L531.4,168.5 L532.0,168.3 L532.6,168.1 L533.2,167.8 L533.8,167.5 L534.4,167.3 L535.0,167.0 L535.6,166.7 L536.2,166.4 L536.8,166.1 L537.4,165.7 L538.0,165.4 L538.6,165.0 L539.2,164.6 L539.8,164.2 L540.4,163.7 L541.0,163.3 L541.6,162.8 L542.2,162.4 L542.8,161.8 L543.4,161.3 L544.0,160.7 L544.6,160.1 L545.2,159.5 L545.8,159.0 L546.4,158.4 L547.0,157.9 L547.6,157.3 L548.2,156.8 L548.8,156.2 L549.4,155.7 L550.0,155.0 L550.6,154.4 L551.2,153.7 L551.8,152.8 L552.4,151.9 L553.0,151.0 L553.6,150.0 L554.2,149.1 L554.8,148.4 L555.4,147.8 L556.0,146.7 L556.6,145.4 L557.2,144.2 L557.8,142.9 L558.4,141.5 L559.0,141.1 L559.6,141.1 L560.2,140.1 L560.8,138.3 L561.4,137.7 L562.0,137.0 L562.6,134.7 L563.2,132.5 L563.8,132.8 L564.4,133.4 L565.0,132.9 L565.6,131.9 L566.2,132.4 L566.8,132.9 L567.4,133.9 L568.0,135.4 L568.6,136.1 L569.2,137.7 L569.8,138.2 L570.4,138.2 L571.0,134.6 L571.6,136.2 L572.2,140.1 L572.8,141.8 L573.4,146.2 L574.0,148.1 L574.6,147.0 L575.2,148.8 L575.8,148.5 L576.4,147.1 L577.0,147.0 L577.6,149.0 L578.2,153.1 L578.8,149.1 L579.4,143.2 L580.0,149.2 L580.6,152.5 L581.2,150.7 L581.8,148.7 L582.4,153.4 L583.0,149.2 L583.6,155.0 L584.2,155.4 L584.8,156.0 L585.4,151.2 L586.0,160.7 L586.6,152.6 L587.2,152.6 L587.8,154.3 L588.4,159.8 L589.0,160.7 L589.6,155.7 L590.2,155.8 L590.8,154.0 L591.4,157.7 L592.0,155.6 L592.6,153.4 L593.2,159.8 L593.8,155.7 L594.4,149.5 L595.0,146.5 L595.6,142.1 L596.2,149.1 L596.8,152.1 L597.4,147.1 L598.0,162.8 L598.6,151.5 L599.2,152.4 L599.8,152.1 L600.4,152.1 L601.0,156.2 L601.6,155.7 L602.2,154.4 L602.8,158.7 L603.4,153.8 L604.0,157.4 L604.6,149.2 L605.2,162.4 L605.8,163.0 L606.4,148.6 L607.0,143.2 L607.6,145.0 L608.2,152.9 L608.8,155.7 L609.4,143.8 L610.0,159.3 L610.6,150.4 L611.2,155.2 L611.8,153.8 L612.4,172.2 L613.0,167.7 L613.6,171.1 L614.2,164.1 L614.8,157.0 L615.4,148.2 L616.0,161.4 L616.6,148.0 L617.2,155.1 L617.8,163.7 L618.4,165.3 L619.0,160.1 L619.6,154.1 L620.2,161.7 L620.8,160.1 L621.4,161.0 L622.0,166.0 L622.6,154.1 L623.2,153.6 L623.8,169.1 L624.4,162.5 L625.0,163.5 L625.6,159.5 L626.2,167.0 L626.8,168.9 L627.4,164.2 L628.0,156.7 L628.6,163.9 L629.2,167.9 L629.8,155.3 L630.4,167.4 L631.0,169.0 L631.6,177.0 L632.2,170.8 L632.8,169.6 L633.4,174.8 L634.0,162.0 L634.6,167.0 L635.2,178.8 L635.8,176.6 L636.4,174.6 L637.0,165.1 L637.4,174.2" fill="none" stroke="#7CAFDD" stroke-width="1.15" stroke-linejoin="round"/>
<path d="M502.0,172.0 L502.6,172.0 L503.2,172.0 L503.8,172.0 L504.4,172.0 L505.0,172.0 L505.6,172.0 L506.2,172.0 L506.8,172.0 L507.4,172.0 L508.0,172.0 L508.6,172.0 L509.2,172.0 L509.8,172.0 L510.4,172.0 L511.0,172.0 L511.6,172.0 L512.2,172.0 L512.8,171.9 L513.4,171.9 L514.0,171.9 L514.6,171.9 L515.2,171.9 L515.8,171.9 L516.4,171.9 L517.0,171.9 L517.6,171.8 L518.2,171.8 L518.8,171.8 L519.4,171.8 L520.0,171.7 L520.6,171.7 L521.2,171.7 L521.8,171.7 L522.4,171.6 L523.0,171.6 L523.6,171.6 L524.2,171.5 L524.8,171.5 L525.4,171.5 L526.0,171.4 L526.6,171.4 L527.2,171.3 L527.8,171.3 L528.4,171.2 L529.0,171.2 L529.6,171.1 L530.2,171.0 L530.8,171.0 L531.4,170.9 L532.0,170.8 L532.6,170.7 L533.2,170.6 L533.8,170.5 L534.4,170.4 L535.0,170.3 L535.6,170.2 L536.2,170.1 L536.8,170.0 L537.4,169.9 L538.0,169.7 L538.6,169.6 L539.2,169.5 L539.8,169.3 L540.4,169.2 L541.0,169.1 L541.6,168.9 L542.2,168.7 L542.8,168.5 L543.4,168.3 L544.0,168.0 L544.6,167.8 L545.2,167.5 L545.8,167.3 L546.4,167.1 L547.0,167.0 L547.6,166.9 L548.2,166.7 L548.8,166.7 L549.4,166.6 L550.0,166.5 L550.6,166.5 L551.2,166.4 L551.8,166.3 L552.4,166.1 L553.0,165.9 L553.6,165.7 L554.2,165.2 L554.8,164.6 L555.4,164.1 L556.0,164.1 L556.6,163.9 L557.2,163.5 L557.8,163.0 L558.4,162.6 L559.0,162.5 L559.6,162.5 L560.2,163.0 L560.8,164.1 L561.4,162.4 L562.0,159.7 L562.6,158.3 L563.2,156.9 L563.8,156.0 L564.4,154.4 L565.0,153.4 L565.6,151.1 L566.2,153.8 L566.8,153.7 L567.4,149.3 L568.0,148.5 L568.6,150.5 L569.2,149.0 L569.8,151.3 L570.4,150.6 L571.0,146.7 L571.6,146.5 L572.2,142.9 L572.8,142.5 L573.4,143.6 L574.0,144.8 L574.6,142.1 L575.2,143.8 L575.8,141.2 L576.4,141.7 L577.0,141.6 L577.6,139.3 L578.2,136.5 L578.8,133.0 L579.4,128.7 L580.0,117.3 L580.6,118.3 L581.2,113.6 L581.8,115.5 L582.4,115.5 L583.0,114.4 L583.6,114.2 L584.2,115.5 L584.8,116.8 L585.4,116.5 L586.0,116.3 L586.6,115.6 L587.2,114.3 L587.8,111.9 L588.4,112.1 L589.0,111.5 L589.6,111.6 L590.2,113.0 L590.8,112.2 L591.4,116.5 L592.0,115.4 L592.6,119.5 L593.2,129.4 L593.8,129.2 L594.4,137.4 L595.0,130.2 L595.6,131.8 L596.2,137.8 L596.8,135.1 L597.4,139.2 L598.0,136.1 L598.6,136.2 L599.2,146.2 L599.8,139.7 L600.4,153.1 L601.0,153.3 L601.6,152.7 L602.2,142.7 L602.8,147.4 L603.4,143.9 L604.0,134.6 L604.6,141.5 L605.2,137.5 L605.8,146.5 L606.4,150.0 L607.0,151.3 L607.6,154.3 L608.2,147.6 L608.8,151.1 L609.4,145.5 L610.0,139.4 L610.6,150.6 L611.2,146.1 L611.8,143.7 L612.4,154.0 L613.0,147.5 L613.6,138.8 L614.2,156.2 L614.8,151.3 L615.4,153.3 L616.0,153.3 L616.6,135.4 L617.2,135.4 L617.8,140.6 L618.4,154.2 L619.0,154.8 L619.6,148.4 L620.2,155.5 L620.8,153.4 L621.4,150.4 L622.0,135.7 L622.6,147.1 L623.2,153.9 L623.8,149.2 L624.4,154.8 L625.0,160.5 L625.6,160.0 L626.2,156.7 L626.8,153.8 L627.4,156.2 L628.0,167.1 L628.6,159.8 L629.2,171.4 L629.8,171.8 L630.4,174.3 L631.0,171.2 L631.6,170.4 L632.2,167.5 L632.8,162.9 L633.4,162.1 L634.0,162.0 L634.6,160.9 L635.2,164.5 L635.8,168.4 L636.4,177.1 L637.0,182.8 L637.4,175.4" fill="none" stroke="#F1975A" stroke-width="1.15" stroke-linejoin="round"/>
<path d="M502.0,173.6 L502.6,173.6 L503.2,173.6 L503.8,173.6 L504.4,173.6 L505.0,173.6 L505.6,173.6 L506.2,173.6 L506.8,173.6 L507.4,173.5 L508.0,173.5 L508.6,173.5 L509.2,173.5 L509.8,173.5 L510.4,173.5 L511.0,173.5 L511.6,173.5 L512.2,173.5 L512.8,173.5 L513.4,173.5 L514.0,173.4 L514.6,173.4 L515.2,173.4 L515.8,173.4 L516.4,173.4 L517.0,173.4 L517.6,173.4 L518.2,173.4 L518.8,173.3 L519.4,173.3 L520.0,173.3 L520.6,173.3 L521.2,173.3 L521.8,173.3 L522.4,173.3 L523.0,173.2 L523.6,173.2 L524.2,173.2 L524.8,173.2 L525.4,173.2 L526.0,173.1 L526.6,173.1 L527.2,173.1 L527.8,173.1 L528.4,173.1 L529.0,173.0 L529.6,173.0 L530.2,173.0 L530.8,173.0 L531.4,172.9 L532.0,172.9 L532.6,172.9 L533.2,172.9 L533.8,172.8 L534.4,172.8 L535.0,172.8 L535.6,172.7 L536.2,172.7 L536.8,172.7 L537.4,172.6 L538.0,172.6 L538.6,172.6 L539.2,172.5 L539.8,172.5 L540.4,172.4 L541.0,172.4 L541.6,172.3 L542.2,172.3 L542.8,172.2 L543.4,172.2 L544.0,172.1 L544.6,172.1 L545.2,172.1 L545.8,172.1 L546.4,172.1 L547.0,172.1 L547.6,172.1 L548.2,172.0 L548.8,172.0 L549.4,171.9 L550.0,171.8 L550.6,171.6 L551.2,171.4 L551.8,171.3 L552.4,171.1 L553.0,170.9 L553.6,170.7 L554.2,170.6 L554.8,170.7 L555.4,170.6 L556.0,170.3 L556.6,169.9 L557.2,169.5 L557.8,169.2 L558.4,168.9 L559.0,168.7 L559.6,168.8 L560.2,168.8 L560.8,169.3 L561.4,169.4 L562.0,169.2 L562.6,169.2 L563.2,169.3 L563.8,169.4 L564.4,168.4 L565.0,168.3 L565.6,168.8 L566.2,168.7 L566.8,167.7 L567.4,167.5 L568.0,168.6 L568.6,168.6 L569.2,169.1 L569.8,169.1 L570.4,168.1 L571.0,168.6 L571.6,169.0 L572.2,166.5 L572.8,165.1 L573.4,161.0 L574.0,161.5 L574.6,162.6 L575.2,164.4 L575.8,164.9 L576.4,163.8 L577.0,166.7 L577.6,164.2 L578.2,165.2 L578.8,166.8 L579.4,166.9 L580.0,167.2 L580.6,166.3 L581.2,161.9 L581.8,162.2 L582.4,160.3 L583.0,162.1 L583.6,163.3 L584.2,166.0 L584.8,165.1 L585.4,163.8 L586.0,160.7 L586.6,155.0 L587.2,156.0 L587.8,158.5 L588.4,158.1 L589.0,157.1 L589.6,159.1 L590.2,161.5 L590.8,165.4 L591.4,161.9 L592.0,163.4 L592.6,162.3 L593.2,165.7 L593.8,165.7 L594.4,165.7 L595.0,159.1 L595.6,162.4 L596.2,163.2 L596.8,162.7 L597.4,161.7 L598.0,161.7 L598.6,156.4 L599.2,158.3 L599.8,155.1 L600.4,157.4 L601.0,158.1 L601.6,159.6 L602.2,165.9 L602.8,163.5 L603.4,161.1 L604.0,160.8 L604.6,155.9 L605.2,159.8 L605.8,154.7 L606.4,154.9 L607.0,157.5 L607.6,154.7 L608.2,150.6 L608.8,159.4 L609.4,151.0 L610.0,158.0 L610.6,146.2 L611.2,150.6 L611.8,158.1 L612.4,154.8 L613.0,157.7 L613.6,153.3 L614.2,141.2 L614.8,152.6 L615.4,145.0 L616.0,148.1 L616.6,146.4 L617.2,147.2 L617.8,142.9 L618.4,150.0 L619.0,151.2 L619.6,150.3 L620.2,150.1 L620.8,149.8 L621.4,144.6 L622.0,141.1 L622.6,149.0 L623.2,147.4 L623.8,150.7 L624.4,156.9 L625.0,158.2 L625.6,155.8 L626.2,150.9 L626.8,156.2 L627.4,151.7 L628.0,155.6 L628.6,152.1 L629.2,153.1 L629.8,151.8 L630.4,149.2 L631.0,150.7 L631.6,154.1 L632.2,154.8 L632.8,153.4 L633.4,158.2 L634.0,153.6 L634.6,159.1 L635.2,168.4 L635.8,165.7 L636.4,165.7 L637.0,162.8 L637.4,167.2" fill="none" stroke="#C4C4C4" stroke-width="1.15" stroke-linejoin="round"/>
<path d="M502.0,170.5 L502.6,170.6 L503.2,170.6 L503.8,170.7 L504.4,170.7 L505.0,170.8 L505.6,170.9 L506.2,170.9 L506.8,171.0 L507.4,171.0 L508.0,171.1 L508.6,171.1 L509.2,171.2 L509.8,171.2 L510.4,171.2 L511.0,171.3 L511.6,171.3 L512.2,171.3 L512.8,171.4 L513.4,171.4 L514.0,171.4 L514.6,171.5 L515.2,171.5 L515.8,171.5 L516.4,171.5 L517.0,171.5 L517.6,171.5 L518.2,171.6 L518.8,171.6 L519.4,171.6 L520.0,171.6 L520.6,171.6 L521.2,171.6 L521.8,171.6 L522.4,171.6 L523.0,171.6 L523.6,171.5 L524.2,171.5 L524.8,171.5 L525.4,171.5 L526.0,171.5 L526.6,171.4 L527.2,171.4 L527.8,171.3 L528.4,171.3 L529.0,171.2 L529.6,171.2 L530.2,171.1 L530.8,171.0 L531.4,170.9 L532.0,170.8 L532.6,170.7 L533.2,170.6 L533.8,170.5 L534.4,170.4 L535.0,170.3 L535.6,170.2 L536.2,170.1 L536.8,170.0 L537.4,169.8 L538.0,169.7 L538.6,169.6 L539.2,169.5 L539.8,169.3 L540.4,169.2 L541.0,169.0 L541.6,168.9 L542.2,168.7 L542.8,168.6 L543.4,168.4 L544.0,168.3 L544.6,168.1 L545.2,168.0 L545.8,167.8 L546.4,167.7 L547.0,167.5 L547.6,167.3 L548.2,167.1 L548.8,166.9 L549.4,166.7 L550.0,166.4 L550.6,166.2 L551.2,166.0 L551.8,165.8 L552.4,165.6 L553.0,165.3 L553.6,164.8 L554.2,164.4 L554.8,164.0 L555.4,163.6 L556.0,163.0 L556.6,162.5 L557.2,162.3 L557.8,162.2 L558.4,162.1 L559.0,161.9 L559.6,162.3 L560.2,163.0 L560.8,163.7 L561.4,163.4 L562.0,162.6 L562.6,162.4 L563.2,161.1 L563.8,160.1 L564.4,159.2 L565.0,159.2 L565.6,159.3 L566.2,158.2 L566.8,157.2 L567.4,156.8 L568.0,156.1 L568.6,155.1 L569.2,154.3 L569.8,154.4 L570.4,153.4 L571.0,152.1 L571.6,155.0 L572.2,154.5 L572.8,155.7 L573.4,154.9 L574.0,154.1 L574.6,155.0 L575.2,154.4 L575.8,154.4 L576.4,155.1 L577.0,155.1 L577.6,157.0 L578.2,154.6 L578.8,153.0 L579.4,151.6 L580.0,149.2 L580.6,146.8 L581.2,149.3 L581.8,152.3 L582.4,152.1 L583.0,149.2 L583.6,151.8 L584.2,150.0 L584.8,148.6 L585.4,146.9 L586.0,148.6 L586.6,146.8 L587.2,151.8 L587.8,149.5 L588.4,147.5 L589.0,144.8 L589.6,156.9 L590.2,155.2 L590.8,154.8 L591.4,148.6 L592.0,146.6 L592.6,146.6 L593.2,147.5 L593.8,152.4 L594.4,150.0 L595.0,148.1 L595.6,155.7 L596.2,155.6 L596.8,152.2 L597.4,150.9 L598.0,150.2 L598.6,146.3 L599.2,145.7 L599.8,145.6 L600.4,146.5 L601.0,151.8 L601.6,148.8 L602.2,150.5 L602.8,146.5 L603.4,153.1 L604.0,154.0 L604.6,151.2 L605.2,151.3 L605.8,147.2 L606.4,146.4 L607.0,146.7 L607.6,153.0 L608.2,147.2 L608.8,152.0 L609.4,146.4 L610.0,152.2 L610.6,149.2 L611.2,144.7 L611.8,146.5 L612.4,145.9 L613.0,148.1 L613.6,152.8 L614.2,151.1 L614.8,150.6 L615.4,147.5 L616.0,148.2 L616.6,159.2 L617.2,152.5 L617.8,156.7 L618.4,150.9 L619.0,151.3 L619.6,149.2 L620.2,147.5 L620.8,150.3 L621.4,151.7 L622.0,155.8 L622.6,156.4 L623.2,159.4 L623.8,148.1 L624.4,153.0 L625.0,152.8 L625.6,158.4 L626.2,153.8 L626.8,158.6 L627.4,158.3 L628.0,154.4 L628.6,154.1 L629.2,152.3 L629.8,152.6 L630.4,153.7 L631.0,156.2 L631.6,154.8 L632.2,157.1 L632.8,152.0 L633.4,160.9 L634.0,164.6 L634.6,156.1 L635.2,162.7 L635.8,164.1 L636.4,164.6 L637.0,168.0 L637.4,167.8" fill="none" stroke="#BFA044" stroke-width="1.15" stroke-linejoin="round"/>
<path d="M502.0,170.8 L502.6,170.8 L503.2,170.8 L503.8,170.9 L504.4,170.9 L505.0,170.9 L505.6,170.9 L506.2,170.9 L506.8,170.9 L507.4,170.9 L508.0,171.0 L508.6,171.0 L509.2,171.0 L509.8,171.0 L510.4,171.0 L511.0,171.0 L511.6,171.0 L512.2,171.0 L512.8,171.0 L513.4,171.0 L514.0,171.0 L514.6,171.0 L515.2,171.0 L515.8,171.0 L516.4,171.0 L517.0,171.0 L517.6,170.9 L518.2,170.9 L518.8,170.9 L519.4,170.9 L520.0,170.9 L520.6,170.8 L521.2,170.8 L521.8,170.8 L522.4,170.7 L523.0,170.7 L523.6,170.6 L524.2,170.6 L524.8,170.5 L525.4,170.5 L526.0,170.4 L526.6,170.3 L527.2,170.2 L527.8,170.1 L528.4,170.0 L529.0,169.9 L529.6,169.8 L530.2,169.7 L530.8,169.6 L531.4,169.5 L532.0,169.3 L532.6,169.2 L533.2,169.0 L533.8,168.9 L534.4,168.8 L535.0,168.6 L535.6,168.5 L536.2,168.3 L536.8,168.2 L537.4,168.0 L538.0,167.9 L538.6,167.7 L539.2,167.6 L539.8,167.5 L540.4,167.3 L541.0,167.2 L541.6,167.0 L542.2,166.9 L542.8,166.7 L543.4,166.6 L544.0,166.4 L544.6,166.3 L545.2,166.1 L545.8,165.9 L546.4,165.8 L547.0,165.6 L547.6,165.4 L548.2,165.2 L548.8,165.0 L549.4,164.8 L550.0,164.6 L550.6,164.4 L551.2,164.2 L551.8,164.0 L552.4,163.8 L553.0,163.6 L553.6,163.3 L554.2,163.1 L554.8,162.8 L555.4,162.5 L556.0,162.3 L556.6,162.0 L557.2,161.7 L557.8,161.4 L558.4,161.1 L559.0,160.8 L559.6,160.5 L560.2,160.2 L560.8,159.8 L561.4,159.5 L562.0,159.2 L562.6,158.9 L563.2,158.5 L563.8,158.2 L564.4,157.9 L565.0,157.6 L565.6,157.2 L566.2,156.9 L566.8,156.6 L567.4,156.3 L568.0,156.0 L568.6,155.7 L569.2,155.4 L569.8,155.1 L570.4,154.8 L571.0,154.5 L571.6,154.2 L572.2,154.0 L572.8,153.7 L573.4,153.4 L574.0,153.1 L574.6,152.8 L575.2,152.6 L575.8,152.3 L576.4,152.0 L577.0,151.8 L577.6,151.5 L578.2,151.3 L578.8,151.0 L579.4,150.8 L580.0,150.5 L580.6,150.3 L581.2,150.0 L581.8,149.8 L582.4,149.6 L583.0,149.3 L583.6,149.1 L584.2,148.9 L584.8,148.7 L585.4,148.5 L586.0,148.3 L586.6,148.1 L587.2,147.8 L587.8,147.6 L588.4,147.4 L589.0,147.2 L589.6,147.0 L590.2,146.8 L590.8,146.5 L591.4,146.3 L592.0,146.1 L592.6,145.8 L593.2,145.6 L593.8,145.3 L594.4,145.1 L595.0,144.8 L595.6,144.5 L596.2,144.2 L596.8,143.9 L597.4,143.6 L598.0,143.2 L598.6,142.9 L599.2,142.6 L599.8,142.2 L600.4,141.9 L601.0,141.6 L601.6,141.3 L602.2,141.0 L602.8,140.7 L603.4,140.4 L604.0,140.1 L604.6,139.8 L605.2,139.6 L605.8,139.3 L606.4,139.0 L607.0,138.8 L607.6,138.5 L608.2,138.3 L608.8,138.1 L609.4,137.9 L610.0,137.7 L610.6,137.5 L611.2,137.4 L611.8,137.2 L612.4,137.1 L613.0,137.1 L613.6,137.0 L614.2,137.0 L614.8,137.0 L615.4,137.1 L616.0,137.1 L616.6,137.2 L617.2,137.4 L617.8,137.5 L618.4,137.7 L619.0,137.9 L619.6,138.1 L620.2,138.3 L620.8,138.6 L621.4,138.8 L622.0,139.2 L622.6,139.5 L623.2,139.9 L623.8,140.3 L624.4,140.7 L625.0,141.2 L625.6,141.7 L626.2,142.2 L626.8,142.8 L627.4,143.4 L628.0,143.9 L628.6,144.6 L629.2,145.2 L629.8,145.8 L630.4,146.4 L631.0,147.1 L631.6,147.8 L632.2,148.5 L632.8,149.2 L633.4,149.9 L634.0,150.7 L634.6,151.4 L635.2,152.2 L635.8,153.0 L636.4,153.7 L636.6,154.0" fill="none" stroke="#FF0000" stroke-width="2.2" stroke-dasharray="4.6 1.7" stroke-linejoin="round"/>
</svg>
</body></html>
